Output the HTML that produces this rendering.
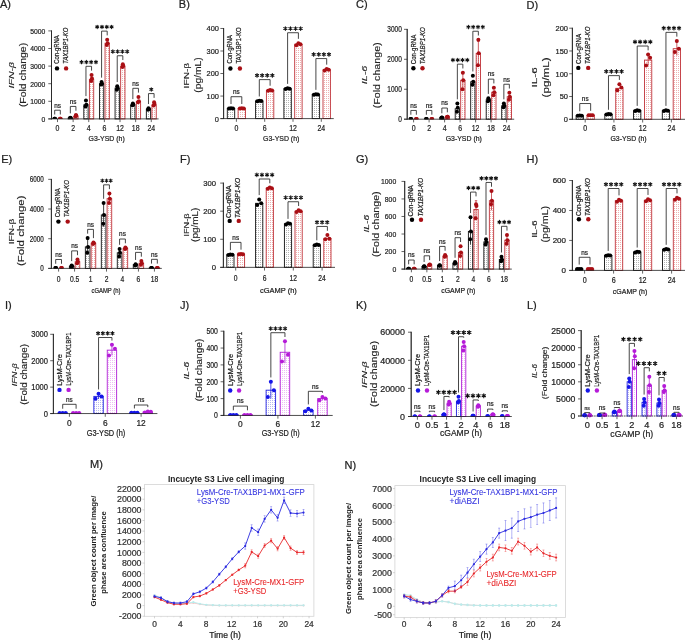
<!DOCTYPE html>
<html><head><meta charset="utf-8"><style>html,body{margin:0;padding:0;background:#fff;}svg{display:block;will-change:transform;}</style></head>
<body><svg width="685" height="640" viewBox="0 0 685 640"><defs>
<pattern id="pk" width="2" height="2" patternUnits="userSpaceOnUse"><rect width="2" height="2" fill="#fff"/><rect width="1" height="1" fill="#b4b4b4"/></pattern>
<pattern id="pr" width="2" height="2" patternUnits="userSpaceOnUse"><rect width="2" height="2" fill="#fff"/><rect width="1" height="1" fill="#eeb0b0"/></pattern>
<pattern id="pb" width="2" height="2" patternUnits="userSpaceOnUse"><rect width="2" height="2" fill="#fff"/><rect width="1" height="1" fill="#b8b8f0"/></pattern>
<pattern id="pm" width="2" height="2" patternUnits="userSpaceOnUse"><rect width="2" height="2" fill="#fff"/><rect width="1" height="1" fill="#eebcf6"/></pattern>
</defs><rect width="685" height="640" fill="#fff"/><g font-family='"Liberation Sans", sans-serif'><text transform="translate(0.00,8.00)" font-size="11" text-anchor="start" fill="#222" style="stroke:#222;stroke-width:0.22;">A)</text><line x1="51.50" y1="30.50" x2="51.50" y2="119.30" stroke="#222" stroke-width="0.8"/><line x1="48.30" y1="118.90" x2="51.50" y2="118.90" stroke="#222" stroke-width="0.7"/><text transform="translate(45.30,121.73) scale(0.86,1)" font-size="7.9" text-anchor="end" fill="#222" style="stroke:#222;stroke-width:0.22;">0</text><line x1="48.30" y1="101.30" x2="51.50" y2="101.30" stroke="#222" stroke-width="0.7"/><text transform="translate(45.30,104.13) scale(0.86,1)" font-size="7.9" text-anchor="end" fill="#222" style="stroke:#222;stroke-width:0.22;">1000</text><line x1="48.30" y1="83.70" x2="51.50" y2="83.70" stroke="#222" stroke-width="0.7"/><text transform="translate(45.30,86.53) scale(0.86,1)" font-size="7.9" text-anchor="end" fill="#222" style="stroke:#222;stroke-width:0.22;">2000</text><line x1="48.30" y1="66.10" x2="51.50" y2="66.10" stroke="#222" stroke-width="0.7"/><text transform="translate(45.30,68.93) scale(0.86,1)" font-size="7.9" text-anchor="end" fill="#222" style="stroke:#222;stroke-width:0.22;">3000</text><line x1="48.30" y1="48.50" x2="51.50" y2="48.50" stroke="#222" stroke-width="0.7"/><text transform="translate(45.30,51.33) scale(0.86,1)" font-size="7.9" text-anchor="end" fill="#222" style="stroke:#222;stroke-width:0.22;">4000</text><line x1="48.30" y1="30.90" x2="51.50" y2="30.90" stroke="#222" stroke-width="0.7"/><text transform="translate(45.30,33.73) scale(0.86,1)" font-size="7.9" text-anchor="end" fill="#222" style="stroke:#222;stroke-width:0.22;">5000</text><clipPath id="c139639653692800"><rect x="0" y="0" width="685" height="118.90"/></clipPath><line x1="57.50" y1="118.90" x2="57.50" y2="122.10" stroke="#222" stroke-width="0.7"/><text transform="translate(57.50,130.60) scale(0.83,1)" font-size="8.4" text-anchor="middle" fill="#222" style="stroke:#222;stroke-width:0.22;">0</text><circle clip-path="url(#c139639653692800)" cx="54.30" cy="118.82" r="2.0" fill="#000"/><circle clip-path="url(#c139639653692800)" cx="55.10" cy="118.81" r="2.0" fill="#000"/><circle clip-path="url(#c139639653692800)" cx="54.70" cy="118.81" r="2.0" fill="#000"/><circle clip-path="url(#c139639653692800)" cx="59.90" cy="118.82" r="2.0" fill="#a90f15"/><circle clip-path="url(#c139639653692800)" cx="60.70" cy="118.81" r="2.0" fill="#a90f15"/><circle clip-path="url(#c139639653692800)" cx="60.30" cy="118.81" r="2.0" fill="#a90f15"/><polyline points="54.70,114.51 54.70,110.21 60.30,110.21 60.30,114.51" fill="none" stroke="#262626" stroke-width="0.85"/><text transform="translate(57.50,107.51) scale(0.9,1)" font-size="7.1" text-anchor="middle" fill="#222" style="stroke:#222;stroke-width:0.22;">ns</text><line x1="73.13" y1="118.90" x2="73.13" y2="122.10" stroke="#222" stroke-width="0.7"/><text transform="translate(73.13,130.60) scale(0.83,1)" font-size="8.4" text-anchor="middle" fill="#222" style="stroke:#222;stroke-width:0.22;">2</text><rect x="68.18" y="118.02" width="4.30" height="0.88" fill="url(#pk)" stroke="#111" stroke-width="0.9"/><circle clip-path="url(#c139639653692800)" cx="69.93" cy="118.37" r="2.0" fill="#000"/><circle clip-path="url(#c139639653692800)" cx="70.73" cy="118.02" r="2.0" fill="#000"/><circle clip-path="url(#c139639653692800)" cx="70.33" cy="117.67" r="2.0" fill="#000"/><rect x="73.78" y="116.26" width="4.30" height="2.64" fill="url(#pr)" stroke="#c0333a" stroke-width="0.9"/><circle clip-path="url(#c139639653692800)" cx="75.53" cy="116.26" r="2.0" fill="#a90f15"/><circle clip-path="url(#c139639653692800)" cx="76.33" cy="115.73" r="2.0" fill="#a90f15"/><circle clip-path="url(#c139639653692800)" cx="75.93" cy="115.03" r="2.0" fill="#a90f15"/><polyline points="70.33,113.37 70.33,106.43 75.93,106.43 75.93,110.73" fill="none" stroke="#262626" stroke-width="0.85"/><text transform="translate(73.13,103.73) scale(0.9,1)" font-size="7.1" text-anchor="middle" fill="#222" style="stroke:#222;stroke-width:0.22;">ns</text><line x1="88.76" y1="118.90" x2="88.76" y2="122.10" stroke="#222" stroke-width="0.7"/><text transform="translate(88.76,130.60) scale(0.83,1)" font-size="8.4" text-anchor="middle" fill="#222" style="stroke:#222;stroke-width:0.22;">4</text><rect x="83.81" y="104.82" width="4.30" height="14.08" fill="url(#pk)" stroke="#111" stroke-width="0.9"/><circle clip-path="url(#c139639653692800)" cx="85.56" cy="106.58" r="2.0" fill="#000"/><circle clip-path="url(#c139639653692800)" cx="86.36" cy="104.82" r="2.0" fill="#000"/><circle clip-path="url(#c139639653692800)" cx="85.96" cy="100.42" r="2.0" fill="#000"/><rect x="89.41" y="79.30" width="4.30" height="39.60" fill="url(#pr)" stroke="#c0333a" stroke-width="0.9"/><circle clip-path="url(#c139639653692800)" cx="91.16" cy="81.06" r="2.0" fill="#a90f15"/><circle clip-path="url(#c139639653692800)" cx="91.96" cy="78.42" r="2.0" fill="#a90f15"/><circle clip-path="url(#c139639653692800)" cx="91.56" cy="74.90" r="2.0" fill="#a90f15"/><polyline points="85.96,96.12 85.96,66.30 91.56,66.30 91.56,70.60" fill="none" stroke="#262626" stroke-width="0.85"/><path d="M81.56,60.40L81.56,63.80M80.09,61.25L83.03,62.95M83.03,61.25L80.09,62.95M86.36,60.40L86.36,63.80M84.89,61.25L87.83,62.95M87.83,61.25L84.89,62.95M91.16,60.40L91.16,63.80M89.69,61.25L92.63,62.95M92.63,61.25L89.69,62.95M95.96,60.40L95.96,63.80M94.49,61.25L97.43,62.95M97.43,61.25L94.49,62.95" stroke="#111" stroke-width="1.1" stroke-linecap="round" fill="none"/><line x1="104.39" y1="118.90" x2="104.39" y2="122.10" stroke="#222" stroke-width="0.7"/><text transform="translate(104.39,130.60) scale(0.83,1)" font-size="8.4" text-anchor="middle" fill="#222" style="stroke:#222;stroke-width:0.22;">6</text><rect x="99.44" y="83.70" width="4.30" height="35.20" fill="url(#pk)" stroke="#111" stroke-width="0.9"/><circle clip-path="url(#c139639653692800)" cx="101.19" cy="84.58" r="2.0" fill="#000"/><circle clip-path="url(#c139639653692800)" cx="101.99" cy="83.70" r="2.0" fill="#000"/><circle clip-path="url(#c139639653692800)" cx="101.59" cy="81.94" r="2.0" fill="#000"/><rect x="105.04" y="43.22" width="4.30" height="75.68" fill="url(#pr)" stroke="#c0333a" stroke-width="0.9"/><circle clip-path="url(#c139639653692800)" cx="106.79" cy="44.98" r="2.0" fill="#a90f15"/><circle clip-path="url(#c139639653692800)" cx="107.59" cy="43.22" r="2.0" fill="#a90f15"/><circle clip-path="url(#c139639653692800)" cx="107.19" cy="39.70" r="2.0" fill="#a90f15"/><polyline points="101.59,77.64 101.59,31.10 107.19,31.10 107.19,35.40" fill="none" stroke="#262626" stroke-width="0.85"/><path d="M97.19,25.20L97.19,28.60M95.72,26.05L98.66,27.75M98.66,26.05L95.72,27.75M101.99,25.20L101.99,28.60M100.52,26.05L103.46,27.75M103.46,26.05L100.52,27.75M106.79,25.20L106.79,28.60M105.32,26.05L108.26,27.75M108.26,26.05L105.32,27.75M111.59,25.20L111.59,28.60M110.12,26.05L113.06,27.75M113.06,26.05L110.12,27.75" stroke="#111" stroke-width="1.1" stroke-linecap="round" fill="none"/><line x1="120.02" y1="118.90" x2="120.02" y2="122.10" stroke="#222" stroke-width="0.7"/><text transform="translate(120.02,130.60) scale(0.83,1)" font-size="8.4" text-anchor="middle" fill="#222" style="stroke:#222;stroke-width:0.22;">12</text><rect x="115.07" y="88.10" width="4.30" height="30.80" fill="url(#pk)" stroke="#111" stroke-width="0.9"/><circle clip-path="url(#c139639653692800)" cx="116.82" cy="89.86" r="2.0" fill="#000"/><circle clip-path="url(#c139639653692800)" cx="117.62" cy="88.10" r="2.0" fill="#000"/><circle clip-path="url(#c139639653692800)" cx="117.22" cy="86.34" r="2.0" fill="#000"/><rect x="120.67" y="66.10" width="4.30" height="52.80" fill="url(#pr)" stroke="#c0333a" stroke-width="0.9"/><circle clip-path="url(#c139639653692800)" cx="122.42" cy="66.98" r="2.0" fill="#a90f15"/><circle clip-path="url(#c139639653692800)" cx="123.22" cy="66.10" r="2.0" fill="#a90f15"/><circle clip-path="url(#c139639653692800)" cx="122.82" cy="64.34" r="2.0" fill="#a90f15"/><polyline points="117.22,82.04 117.22,55.74 122.82,55.74 122.82,60.04" fill="none" stroke="#262626" stroke-width="0.85"/><path d="M112.82,49.84L112.82,53.24M111.35,50.69L114.29,52.39M114.29,50.69L111.35,52.39M117.62,49.84L117.62,53.24M116.15,50.69L119.09,52.39M119.09,50.69L116.15,52.39M122.42,49.84L122.42,53.24M120.95,50.69L123.89,52.39M123.89,50.69L120.95,52.39M127.22,49.84L127.22,53.24M125.75,50.69L128.69,52.39M128.69,50.69L125.75,52.39" stroke="#111" stroke-width="1.1" stroke-linecap="round" fill="none"/><line x1="135.65" y1="118.90" x2="135.65" y2="122.10" stroke="#222" stroke-width="0.7"/><text transform="translate(135.65,130.60) scale(0.83,1)" font-size="8.4" text-anchor="middle" fill="#222" style="stroke:#222;stroke-width:0.22;">18</text><rect x="130.70" y="104.82" width="4.30" height="14.08" fill="url(#pk)" stroke="#111" stroke-width="0.9"/><circle clip-path="url(#c139639653692800)" cx="132.45" cy="105.17" r="2.0" fill="#000"/><circle clip-path="url(#c139639653692800)" cx="133.25" cy="104.47" r="2.0" fill="#000"/><circle clip-path="url(#c139639653692800)" cx="132.85" cy="103.41" r="2.0" fill="#000"/><rect x="136.30" y="101.30" width="4.30" height="17.60" fill="url(#pr)" stroke="#c0333a" stroke-width="0.9"/><circle clip-path="url(#c139639653692800)" cx="138.05" cy="102.18" r="2.0" fill="#a90f15"/><circle clip-path="url(#c139639653692800)" cx="138.85" cy="101.30" r="2.0" fill="#a90f15"/><circle clip-path="url(#c139639653692800)" cx="138.45" cy="96.90" r="2.0" fill="#a90f15"/><polyline points="132.85,99.11 132.85,88.30 138.45,88.30 138.45,92.60" fill="none" stroke="#262626" stroke-width="0.85"/><text transform="translate(135.65,85.60) scale(0.9,1)" font-size="7.1" text-anchor="middle" fill="#222" style="stroke:#222;stroke-width:0.22;">ns</text><line x1="151.28" y1="118.90" x2="151.28" y2="122.10" stroke="#222" stroke-width="0.7"/><text transform="translate(151.28,130.60) scale(0.83,1)" font-size="8.4" text-anchor="middle" fill="#222" style="stroke:#222;stroke-width:0.22;">24</text><rect x="146.33" y="109.22" width="4.30" height="9.68" fill="url(#pk)" stroke="#111" stroke-width="0.9"/><circle clip-path="url(#c139639653692800)" cx="148.08" cy="109.75" r="2.0" fill="#000"/><circle clip-path="url(#c139639653692800)" cx="148.88" cy="109.04" r="2.0" fill="#000"/><circle clip-path="url(#c139639653692800)" cx="148.48" cy="108.34" r="2.0" fill="#000"/><rect x="151.93" y="104.82" width="4.30" height="14.08" fill="url(#pr)" stroke="#c0333a" stroke-width="0.9"/><circle clip-path="url(#c139639653692800)" cx="153.68" cy="105.52" r="2.0" fill="#a90f15"/><circle clip-path="url(#c139639653692800)" cx="154.48" cy="103.94" r="2.0" fill="#a90f15"/><circle clip-path="url(#c139639653692800)" cx="154.08" cy="102.18" r="2.0" fill="#a90f15"/><polyline points="148.48,104.04 148.48,93.58 154.08,93.58 154.08,97.88" fill="none" stroke="#262626" stroke-width="0.85"/><path d="M151.28,87.68L151.28,91.08M149.81,88.53L152.75,90.23M152.75,88.53L149.81,90.23" stroke="#111" stroke-width="1.1" stroke-linecap="round" fill="none"/><line x1="48.30" y1="118.90" x2="158.60" y2="118.90" stroke="#222" stroke-width="0.8"/><line x1="51.50" y1="30.50" x2="51.50" y2="119.30" stroke="#222" stroke-width="0.8"/><text transform="translate(106.60,141.00)" font-size="7.8" text-anchor="middle" fill="#222" style="stroke:#222;stroke-width:0.22;" textLength="36.20" lengthAdjust="spacingAndGlyphs">G3-YSD (h)</text><text transform="translate(14.46,75.25) rotate(-90)" font-size="7.4" text-anchor="middle" fill="#222" style="stroke:#222;stroke-width:0.12;font-style:italic;" textLength="26.40" lengthAdjust="spacingAndGlyphs">IFN-β</text><text transform="translate(26.49,75.00) rotate(-90)" font-size="8.4" text-anchor="middle" fill="#222" style="stroke:#222;stroke-width:0.12;" textLength="64.20" lengthAdjust="spacingAndGlyphs">(Fold change)</text><circle cx="57.00" cy="68.40" r="2.2" fill="#000"/><text transform="translate(58.90,63.80) rotate(-90)" font-size="6.4" text-anchor="start" fill="#222" style="stroke:#222;stroke-width:0.22;" textLength="28.60" lengthAdjust="spacingAndGlyphs">Con-gRNA</text><circle cx="66.10" cy="68.40" r="2.2" fill="#a90f15"/><text transform="translate(67.80,63.80) rotate(-90)" font-size="6.4" text-anchor="start" fill="#222" style="stroke:#222;stroke-width:0.22;font-style:italic;" textLength="36.20" lengthAdjust="spacingAndGlyphs">TAX1BP1-KO</text><text transform="translate(178.80,8.00)" font-size="11" text-anchor="start" fill="#222" style="stroke:#222;stroke-width:0.22;">B)</text><line x1="223.60" y1="28.07" x2="223.60" y2="119.00" stroke="#222" stroke-width="0.8"/><line x1="220.40" y1="118.60" x2="223.60" y2="118.60" stroke="#222" stroke-width="0.7"/><text transform="translate(219.00,121.50) scale(0.92,1)" font-size="8.1" text-anchor="end" fill="#222" style="stroke:#222;stroke-width:0.22;">0</text><line x1="220.40" y1="96.07" x2="223.60" y2="96.07" stroke="#222" stroke-width="0.7"/><text transform="translate(219.00,98.97) scale(0.92,1)" font-size="8.1" text-anchor="end" fill="#222" style="stroke:#222;stroke-width:0.22;">100</text><line x1="220.40" y1="73.53" x2="223.60" y2="73.53" stroke="#222" stroke-width="0.7"/><text transform="translate(219.00,76.43) scale(0.92,1)" font-size="8.1" text-anchor="end" fill="#222" style="stroke:#222;stroke-width:0.22;">200</text><line x1="220.40" y1="51.00" x2="223.60" y2="51.00" stroke="#222" stroke-width="0.7"/><text transform="translate(219.00,53.90) scale(0.92,1)" font-size="8.1" text-anchor="end" fill="#222" style="stroke:#222;stroke-width:0.22;">300</text><line x1="220.40" y1="28.47" x2="223.60" y2="28.47" stroke="#222" stroke-width="0.7"/><text transform="translate(219.00,31.37) scale(0.92,1)" font-size="8.1" text-anchor="end" fill="#222" style="stroke:#222;stroke-width:0.22;">400</text><clipPath id="c139639653692736"><rect x="0" y="0" width="685" height="118.60"/></clipPath><line x1="236.40" y1="118.60" x2="236.40" y2="121.80" stroke="#222" stroke-width="0.7"/><text transform="translate(236.40,130.60) scale(0.83,1)" font-size="8.4" text-anchor="middle" fill="#222" style="stroke:#222;stroke-width:0.22;">0</text><rect x="227.30" y="108.46" width="7.40" height="10.14" fill="url(#pk)" stroke="#111" stroke-width="0.9"/><circle clip-path="url(#c139639653692736)" cx="229.00" cy="108.61" r="2.0" fill="#000"/><circle clip-path="url(#c139639653692736)" cx="233.00" cy="108.46" r="2.0" fill="#000"/><circle clip-path="url(#c139639653692736)" cx="231.00" cy="108.31" r="2.0" fill="#000"/><rect x="238.10" y="108.46" width="7.40" height="10.14" fill="url(#pr)" stroke="#c0333a" stroke-width="0.9"/><circle clip-path="url(#c139639653692736)" cx="239.80" cy="108.61" r="2.0" fill="#a90f15"/><circle clip-path="url(#c139639653692736)" cx="243.80" cy="108.46" r="2.0" fill="#a90f15"/><circle clip-path="url(#c139639653692736)" cx="241.80" cy="108.31" r="2.0" fill="#a90f15"/><polyline points="231.00,104.01 231.00,96.71 241.80,96.71 241.80,104.01" fill="none" stroke="#262626" stroke-width="0.85"/><text transform="translate(236.40,94.01) scale(0.9,1)" font-size="7.1" text-anchor="middle" fill="#222" style="stroke:#222;stroke-width:0.22;">ns</text><line x1="264.70" y1="118.60" x2="264.70" y2="121.80" stroke="#222" stroke-width="0.7"/><text transform="translate(264.70,130.60) scale(0.83,1)" font-size="8.4" text-anchor="middle" fill="#222" style="stroke:#222;stroke-width:0.22;">6</text><rect x="255.60" y="101.02" width="7.40" height="17.58" fill="url(#pk)" stroke="#111" stroke-width="0.9"/><circle clip-path="url(#c139639653692736)" cx="257.30" cy="101.29" r="2.0" fill="#000"/><circle clip-path="url(#c139639653692736)" cx="261.30" cy="101.02" r="2.0" fill="#000"/><circle clip-path="url(#c139639653692736)" cx="259.30" cy="100.76" r="2.0" fill="#000"/><rect x="266.40" y="90.43" width="7.40" height="28.17" fill="url(#pr)" stroke="#c0333a" stroke-width="0.9"/><circle clip-path="url(#c139639653692736)" cx="268.10" cy="90.86" r="2.0" fill="#a90f15"/><circle clip-path="url(#c139639653692736)" cx="272.10" cy="90.43" r="2.0" fill="#a90f15"/><circle clip-path="url(#c139639653692736)" cx="270.10" cy="90.01" r="2.0" fill="#a90f15"/><polyline points="259.30,96.46 259.30,79.61 270.10,79.61 270.10,85.71" fill="none" stroke="#262626" stroke-width="0.85"/><path d="M257.05,73.61L257.05,77.21M255.49,74.51L258.61,76.31M258.61,74.51L255.49,76.31M262.15,73.61L262.15,77.21M260.59,74.51L263.71,76.31M263.71,74.51L260.59,76.31M267.25,73.61L267.25,77.21M265.69,74.51L268.81,76.31M268.81,74.51L265.69,76.31M272.35,73.61L272.35,77.21M270.79,74.51L273.91,76.31M273.91,74.51L270.79,76.31" stroke="#111" stroke-width="1.1" stroke-linecap="round" fill="none"/><line x1="293.00" y1="118.60" x2="293.00" y2="121.80" stroke="#222" stroke-width="0.7"/><text transform="translate(293.00,130.60) scale(0.83,1)" font-size="8.4" text-anchor="middle" fill="#222" style="stroke:#222;stroke-width:0.22;">12</text><rect x="283.90" y="88.63" width="7.40" height="29.97" fill="url(#pk)" stroke="#111" stroke-width="0.9"/><circle clip-path="url(#c139639653692736)" cx="285.60" cy="89.08" r="2.0" fill="#000"/><circle clip-path="url(#c139639653692736)" cx="289.60" cy="88.63" r="2.0" fill="#000"/><circle clip-path="url(#c139639653692736)" cx="287.60" cy="88.18" r="2.0" fill="#000"/><rect x="294.70" y="44.24" width="7.40" height="74.36" fill="url(#pr)" stroke="#c0333a" stroke-width="0.9"/><circle clip-path="url(#c139639653692736)" cx="296.40" cy="45.36" r="2.0" fill="#a90f15"/><circle clip-path="url(#c139639653692736)" cx="300.40" cy="44.24" r="2.0" fill="#a90f15"/><circle clip-path="url(#c139639653692736)" cx="298.40" cy="43.13" r="2.0" fill="#a90f15"/><polyline points="287.60,83.88 287.60,32.73 298.40,32.73 298.40,38.83" fill="none" stroke="#262626" stroke-width="0.85"/><path d="M285.35,26.73L285.35,30.33M283.79,27.63L286.91,29.43M286.91,27.63L283.79,29.43M290.45,26.73L290.45,30.33M288.89,27.63L292.01,29.43M292.01,27.63L288.89,29.43M295.55,26.73L295.55,30.33M293.99,27.63L297.11,29.43M297.11,27.63L293.99,29.43M300.65,26.73L300.65,30.33M299.09,27.63L302.21,29.43M302.21,27.63L299.09,29.43" stroke="#111" stroke-width="1.1" stroke-linecap="round" fill="none"/><line x1="321.30" y1="118.60" x2="321.30" y2="121.80" stroke="#222" stroke-width="0.7"/><text transform="translate(321.30,130.60) scale(0.83,1)" font-size="8.4" text-anchor="middle" fill="#222" style="stroke:#222;stroke-width:0.22;">24</text><rect x="312.20" y="94.49" width="7.40" height="24.11" fill="url(#pk)" stroke="#111" stroke-width="0.9"/><circle clip-path="url(#c139639653692736)" cx="313.90" cy="94.85" r="2.0" fill="#000"/><circle clip-path="url(#c139639653692736)" cx="317.90" cy="94.49" r="2.0" fill="#000"/><circle clip-path="url(#c139639653692736)" cx="315.90" cy="94.13" r="2.0" fill="#000"/><rect x="323.00" y="69.70" width="7.40" height="48.90" fill="url(#pr)" stroke="#c0333a" stroke-width="0.9"/><circle clip-path="url(#c139639653692736)" cx="324.70" cy="70.44" r="2.0" fill="#a90f15"/><circle clip-path="url(#c139639653692736)" cx="328.70" cy="69.70" r="2.0" fill="#a90f15"/><circle clip-path="url(#c139639653692736)" cx="326.70" cy="68.97" r="2.0" fill="#a90f15"/><polyline points="315.90,89.83 315.90,58.57 326.70,58.57 326.70,64.67" fill="none" stroke="#262626" stroke-width="0.85"/><path d="M313.65,52.57L313.65,56.17M312.09,53.47L315.21,55.27M315.21,53.47L312.09,55.27M318.75,52.57L318.75,56.17M317.19,53.47L320.31,55.27M320.31,53.47L317.19,55.27M323.85,52.57L323.85,56.17M322.29,53.47L325.41,55.27M325.41,53.47L322.29,55.27M328.95,52.57L328.95,56.17M327.39,53.47L330.51,55.27M330.51,53.47L327.39,55.27" stroke="#111" stroke-width="1.1" stroke-linecap="round" fill="none"/><line x1="220.40" y1="118.60" x2="333.75" y2="118.60" stroke="#222" stroke-width="0.8"/><line x1="223.60" y1="28.07" x2="223.60" y2="119.00" stroke="#222" stroke-width="0.8"/><text transform="translate(281.20,141.00)" font-size="7.8" text-anchor="middle" fill="#222" style="stroke:#222;stroke-width:0.22;" textLength="36.20" lengthAdjust="spacingAndGlyphs">G3-YSD (h)</text><text transform="translate(188.76,75.60) rotate(-90)" font-size="7.4" text-anchor="middle" fill="#222" style="stroke:#222;stroke-width:0.12;" textLength="25.60" lengthAdjust="spacingAndGlyphs">IFN-β</text><text transform="translate(200.79,75.00) rotate(-90)" font-size="8.4" text-anchor="middle" fill="#222" style="stroke:#222;stroke-width:0.12;" textLength="35.60" lengthAdjust="spacingAndGlyphs">(pg/mL)</text><circle cx="230.40" cy="68.50" r="2.2" fill="#000"/><text transform="translate(232.00,63.60) rotate(-90)" font-size="6.4" text-anchor="start" fill="#222" style="stroke:#222;stroke-width:0.22;" textLength="28.50" lengthAdjust="spacingAndGlyphs">Con-gRNA</text><circle cx="239.90" cy="68.50" r="2.2" fill="#a90f15"/><text transform="translate(241.00,63.60) rotate(-90)" font-size="6.4" text-anchor="start" fill="#222" style="stroke:#222;stroke-width:0.22;" textLength="36.20" lengthAdjust="spacingAndGlyphs">TAX1BP1-KO</text><text transform="translate(356.00,8.00)" font-size="11" text-anchor="start" fill="#222" style="stroke:#222;stroke-width:0.22;">C)</text><line x1="407.20" y1="28.94" x2="407.20" y2="119.60" stroke="#222" stroke-width="0.8"/><line x1="404.00" y1="119.20" x2="407.20" y2="119.20" stroke="#222" stroke-width="0.7"/><text transform="translate(401.90,122.14) scale(0.8,1)" font-size="8.2" text-anchor="end" fill="#222" style="stroke:#222;stroke-width:0.22;">0</text><line x1="404.00" y1="89.25" x2="407.20" y2="89.25" stroke="#222" stroke-width="0.7"/><text transform="translate(401.90,92.18) scale(0.8,1)" font-size="8.2" text-anchor="end" fill="#222" style="stroke:#222;stroke-width:0.22;">1000</text><line x1="404.00" y1="59.29" x2="407.20" y2="59.29" stroke="#222" stroke-width="0.7"/><text transform="translate(401.90,62.23) scale(0.8,1)" font-size="8.2" text-anchor="end" fill="#222" style="stroke:#222;stroke-width:0.22;">2000</text><line x1="404.00" y1="29.34" x2="407.20" y2="29.34" stroke="#222" stroke-width="0.7"/><text transform="translate(401.90,32.28) scale(0.8,1)" font-size="8.2" text-anchor="end" fill="#222" style="stroke:#222;stroke-width:0.22;">3000</text><clipPath id="c139639653693632"><rect x="0" y="0" width="685" height="119.20"/></clipPath><line x1="413.60" y1="119.20" x2="413.60" y2="122.40" stroke="#222" stroke-width="0.7"/><text transform="translate(413.60,130.80) scale(0.83,1)" font-size="8.4" text-anchor="middle" fill="#222" style="stroke:#222;stroke-width:0.22;">0</text><circle clip-path="url(#c139639653693632)" cx="410.45" cy="119.06" r="2.0" fill="#000"/><circle clip-path="url(#c139639653693632)" cx="411.25" cy="119.05" r="2.0" fill="#000"/><circle clip-path="url(#c139639653693632)" cx="410.85" cy="119.04" r="2.0" fill="#000"/><circle clip-path="url(#c139639653693632)" cx="415.95" cy="119.06" r="2.0" fill="#a90f15"/><circle clip-path="url(#c139639653693632)" cx="416.75" cy="119.05" r="2.0" fill="#a90f15"/><circle clip-path="url(#c139639653693632)" cx="416.35" cy="119.04" r="2.0" fill="#a90f15"/><polyline points="410.85,114.74 410.85,110.44 416.35,110.44 416.35,114.74" fill="none" stroke="#262626" stroke-width="0.85"/><text transform="translate(413.60,107.74) scale(0.9,1)" font-size="7.1" text-anchor="middle" fill="#222" style="stroke:#222;stroke-width:0.22;">ns</text><line x1="429.10" y1="119.20" x2="429.10" y2="122.40" stroke="#222" stroke-width="0.7"/><text transform="translate(429.10,130.80) scale(0.83,1)" font-size="8.4" text-anchor="middle" fill="#222" style="stroke:#222;stroke-width:0.22;">2</text><circle clip-path="url(#c139639653693632)" cx="425.95" cy="119.06" r="2.0" fill="#000"/><circle clip-path="url(#c139639653693632)" cx="426.75" cy="119.05" r="2.0" fill="#000"/><circle clip-path="url(#c139639653693632)" cx="426.35" cy="119.04" r="2.0" fill="#000"/><circle clip-path="url(#c139639653693632)" cx="431.45" cy="119.06" r="2.0" fill="#a90f15"/><circle clip-path="url(#c139639653693632)" cx="432.25" cy="119.05" r="2.0" fill="#a90f15"/><circle clip-path="url(#c139639653693632)" cx="431.85" cy="119.04" r="2.0" fill="#a90f15"/><polyline points="426.35,114.74 426.35,110.44 431.85,110.44 431.85,114.74" fill="none" stroke="#262626" stroke-width="0.85"/><text transform="translate(429.10,107.74) scale(0.9,1)" font-size="7.1" text-anchor="middle" fill="#222" style="stroke:#222;stroke-width:0.22;">ns</text><line x1="444.60" y1="119.20" x2="444.60" y2="122.40" stroke="#222" stroke-width="0.7"/><text transform="translate(444.60,130.80) scale(0.83,1)" font-size="8.4" text-anchor="middle" fill="#222" style="stroke:#222;stroke-width:0.22;">4</text><rect x="439.70" y="117.70" width="4.30" height="1.50" fill="url(#pk)" stroke="#111" stroke-width="0.9"/><circle clip-path="url(#c139639653693632)" cx="441.45" cy="117.81" r="2.0" fill="#000"/><circle clip-path="url(#c139639653693632)" cx="442.25" cy="117.70" r="2.0" fill="#000"/><circle clip-path="url(#c139639653693632)" cx="441.85" cy="117.60" r="2.0" fill="#000"/><rect x="445.20" y="116.80" width="4.30" height="2.40" fill="url(#pr)" stroke="#c0333a" stroke-width="0.9"/><circle clip-path="url(#c139639653693632)" cx="446.95" cy="116.97" r="2.0" fill="#a90f15"/><circle clip-path="url(#c139639653693632)" cx="447.75" cy="116.80" r="2.0" fill="#a90f15"/><circle clip-path="url(#c139639653693632)" cx="447.35" cy="116.64" r="2.0" fill="#a90f15"/><polyline points="441.85,113.30 441.85,108.04 447.35,108.04 447.35,112.34" fill="none" stroke="#262626" stroke-width="0.85"/><text transform="translate(444.60,105.34) scale(0.9,1)" font-size="7.1" text-anchor="middle" fill="#222" style="stroke:#222;stroke-width:0.22;">ns</text><line x1="460.10" y1="119.20" x2="460.10" y2="122.40" stroke="#222" stroke-width="0.7"/><text transform="translate(460.10,130.80) scale(0.83,1)" font-size="8.4" text-anchor="middle" fill="#222" style="stroke:#222;stroke-width:0.22;">6</text><rect x="455.20" y="108.72" width="4.30" height="10.48" fill="url(#pk)" stroke="#111" stroke-width="0.9"/><circle clip-path="url(#c139639653693632)" cx="456.95" cy="111.71" r="2.0" fill="#000"/><circle clip-path="url(#c139639653693632)" cx="457.75" cy="107.82" r="2.0" fill="#000"/><circle clip-path="url(#c139639653693632)" cx="457.35" cy="103.62" r="2.0" fill="#000"/><rect x="460.70" y="80.26" width="4.30" height="38.94" fill="url(#pr)" stroke="#c0333a" stroke-width="0.9"/><line x1="462.85" y1="72.77" x2="462.85" y2="87.75" stroke="#c0333a" stroke-width="0.8"/><line x1="461.65" y1="72.77" x2="464.05" y2="72.77" stroke="#c0333a" stroke-width="0.8"/><circle clip-path="url(#c139639653693632)" cx="462.45" cy="89.25" r="2.0" fill="#a90f15"/><circle clip-path="url(#c139639653693632)" cx="463.25" cy="80.26" r="2.0" fill="#a90f15"/><circle clip-path="url(#c139639653693632)" cx="462.85" cy="72.77" r="2.0" fill="#a90f15"/><polyline points="457.35,99.32 457.35,64.17 462.85,64.17 462.85,68.47" fill="none" stroke="#262626" stroke-width="0.85"/><path d="M452.90,58.27L452.90,61.67M451.43,59.12L454.37,60.82M454.37,59.12L451.43,60.82M457.70,58.27L457.70,61.67M456.23,59.12L459.17,60.82M459.17,59.12L456.23,60.82M462.50,58.27L462.50,61.67M461.03,59.12L463.97,60.82M463.97,59.12L461.03,60.82M467.30,58.27L467.30,61.67M465.83,59.12L468.77,60.82M468.77,59.12L465.83,60.82" stroke="#111" stroke-width="1.1" stroke-linecap="round" fill="none"/><line x1="475.60" y1="119.20" x2="475.60" y2="122.40" stroke="#222" stroke-width="0.7"/><text transform="translate(475.60,130.80) scale(0.83,1)" font-size="8.4" text-anchor="middle" fill="#222" style="stroke:#222;stroke-width:0.22;">12</text><rect x="470.70" y="81.76" width="4.30" height="37.44" fill="url(#pk)" stroke="#111" stroke-width="0.9"/><circle clip-path="url(#c139639653693632)" cx="472.45" cy="84.75" r="2.0" fill="#000"/><circle clip-path="url(#c139639653693632)" cx="473.25" cy="81.76" r="2.0" fill="#000"/><circle clip-path="url(#c139639653693632)" cx="472.85" cy="75.77" r="2.0" fill="#000"/><rect x="476.20" y="53.30" width="4.30" height="65.90" fill="url(#pr)" stroke="#c0333a" stroke-width="0.9"/><line x1="478.35" y1="41.32" x2="478.35" y2="65.28" stroke="#c0333a" stroke-width="0.8"/><line x1="477.15" y1="41.32" x2="479.55" y2="41.32" stroke="#c0333a" stroke-width="0.8"/><circle clip-path="url(#c139639653693632)" cx="477.95" cy="65.28" r="2.0" fill="#a90f15"/><circle clip-path="url(#c139639653693632)" cx="478.75" cy="53.30" r="2.0" fill="#a90f15"/><circle clip-path="url(#c139639653693632)" cx="478.35" cy="39.82" r="2.0" fill="#a90f15"/><polyline points="472.85,71.47 472.85,31.22 478.35,31.22 478.35,35.52" fill="none" stroke="#262626" stroke-width="0.85"/><path d="M468.40,25.32L468.40,28.72M466.93,26.17L469.87,27.87M469.87,26.17L466.93,27.87M473.20,25.32L473.20,28.72M471.73,26.17L474.67,27.87M474.67,26.17L471.73,27.87M478.00,25.32L478.00,28.72M476.53,26.17L479.47,27.87M479.47,26.17L476.53,27.87M482.80,25.32L482.80,28.72M481.33,26.17L484.27,27.87M484.27,26.17L481.33,27.87" stroke="#111" stroke-width="1.1" stroke-linecap="round" fill="none"/><line x1="491.10" y1="119.20" x2="491.10" y2="122.40" stroke="#222" stroke-width="0.7"/><text transform="translate(491.10,130.80) scale(0.83,1)" font-size="8.4" text-anchor="middle" fill="#222" style="stroke:#222;stroke-width:0.22;">18</text><rect x="486.20" y="99.73" width="4.30" height="19.47" fill="url(#pk)" stroke="#111" stroke-width="0.9"/><circle clip-path="url(#c139639653693632)" cx="487.95" cy="101.23" r="2.0" fill="#000"/><circle clip-path="url(#c139639653693632)" cx="488.75" cy="99.73" r="2.0" fill="#000"/><circle clip-path="url(#c139639653693632)" cx="488.35" cy="98.23" r="2.0" fill="#000"/><rect x="491.70" y="92.24" width="4.30" height="26.96" fill="url(#pr)" stroke="#c0333a" stroke-width="0.9"/><circle clip-path="url(#c139639653693632)" cx="493.45" cy="95.24" r="2.0" fill="#a90f15"/><circle clip-path="url(#c139639653693632)" cx="494.25" cy="92.24" r="2.0" fill="#a90f15"/><circle clip-path="url(#c139639653693632)" cx="493.85" cy="87.75" r="2.0" fill="#a90f15"/><polyline points="488.35,93.93 488.35,79.15 493.85,79.15 493.85,83.45" fill="none" stroke="#262626" stroke-width="0.85"/><text transform="translate(491.10,76.45) scale(0.9,1)" font-size="7.1" text-anchor="middle" fill="#222" style="stroke:#222;stroke-width:0.22;">ns</text><line x1="506.60" y1="119.20" x2="506.60" y2="122.40" stroke="#222" stroke-width="0.7"/><text transform="translate(506.60,130.80) scale(0.83,1)" font-size="8.4" text-anchor="middle" fill="#222" style="stroke:#222;stroke-width:0.22;">24</text><rect x="501.70" y="105.72" width="4.30" height="13.48" fill="url(#pk)" stroke="#111" stroke-width="0.9"/><circle clip-path="url(#c139639653693632)" cx="503.45" cy="107.22" r="2.0" fill="#000"/><circle clip-path="url(#c139639653693632)" cx="504.25" cy="105.72" r="2.0" fill="#000"/><circle clip-path="url(#c139639653693632)" cx="503.85" cy="103.62" r="2.0" fill="#000"/><rect x="507.20" y="96.73" width="4.30" height="22.46" fill="url(#pr)" stroke="#c0333a" stroke-width="0.9"/><circle clip-path="url(#c139639653693632)" cx="508.95" cy="99.73" r="2.0" fill="#a90f15"/><circle clip-path="url(#c139639653693632)" cx="509.75" cy="96.73" r="2.0" fill="#a90f15"/><circle clip-path="url(#c139639653693632)" cx="509.35" cy="92.84" r="2.0" fill="#a90f15"/><polyline points="503.85,99.32 503.85,84.24 509.35,84.24 509.35,88.54" fill="none" stroke="#262626" stroke-width="0.85"/><text transform="translate(506.60,81.54) scale(0.9,1)" font-size="7.1" text-anchor="middle" fill="#222" style="stroke:#222;stroke-width:0.22;">ns</text><line x1="404.00" y1="119.20" x2="514.20" y2="119.20" stroke="#222" stroke-width="0.8"/><line x1="407.20" y1="28.94" x2="407.20" y2="119.60" stroke="#222" stroke-width="0.8"/><text transform="translate(463.75,141.00)" font-size="7.8" text-anchor="middle" fill="#222" style="stroke:#222;stroke-width:0.22;" textLength="36.20" lengthAdjust="spacingAndGlyphs">G3-YSD (h)</text><text transform="translate(367.36,75.00) rotate(-90)" font-size="7.4" text-anchor="middle" fill="#222" style="stroke:#222;stroke-width:0.12;font-style:italic;" textLength="18.60" lengthAdjust="spacingAndGlyphs">IL-6</text><text transform="translate(379.59,75.30) rotate(-90)" font-size="8.4" text-anchor="middle" fill="#222" style="stroke:#222;stroke-width:0.12;" textLength="66.00" lengthAdjust="spacingAndGlyphs">(Fold change)</text><circle cx="413.40" cy="68.25" r="2.2" fill="#000"/><text transform="translate(415.90,64.15) rotate(-90)" font-size="6.4" text-anchor="start" fill="#222" style="stroke:#222;stroke-width:0.22;" textLength="29.40" lengthAdjust="spacingAndGlyphs">Con-gRNA</text><circle cx="422.50" cy="68.25" r="2.2" fill="#a90f15"/><text transform="translate(425.00,64.15) rotate(-90)" font-size="6.4" text-anchor="start" fill="#222" style="stroke:#222;stroke-width:0.22;font-style:italic;" textLength="37.00" lengthAdjust="spacingAndGlyphs">TAX1BP1-KO</text><text transform="translate(526.50,8.50)" font-size="11" text-anchor="start" fill="#222" style="stroke:#222;stroke-width:0.22;">D)</text><line x1="572.40" y1="27.80" x2="572.40" y2="119.70" stroke="#222" stroke-width="0.8"/><line x1="569.20" y1="119.30" x2="572.40" y2="119.30" stroke="#222" stroke-width="0.7"/><text transform="translate(568.00,122.09) scale(0.96,1)" font-size="7.8" text-anchor="end" fill="#222" style="stroke:#222;stroke-width:0.22;">0</text><line x1="569.20" y1="96.53" x2="572.40" y2="96.53" stroke="#222" stroke-width="0.7"/><text transform="translate(568.00,99.32) scale(0.96,1)" font-size="7.8" text-anchor="end" fill="#222" style="stroke:#222;stroke-width:0.22;">50</text><line x1="569.20" y1="73.75" x2="572.40" y2="73.75" stroke="#222" stroke-width="0.7"/><text transform="translate(568.00,76.54) scale(0.96,1)" font-size="7.8" text-anchor="end" fill="#222" style="stroke:#222;stroke-width:0.22;">100</text><line x1="569.20" y1="50.98" x2="572.40" y2="50.98" stroke="#222" stroke-width="0.7"/><text transform="translate(568.00,53.77) scale(0.96,1)" font-size="7.8" text-anchor="end" fill="#222" style="stroke:#222;stroke-width:0.22;">150</text><line x1="569.20" y1="28.20" x2="572.40" y2="28.20" stroke="#222" stroke-width="0.7"/><text transform="translate(568.00,30.99) scale(0.96,1)" font-size="7.8" text-anchor="end" fill="#222" style="stroke:#222;stroke-width:0.22;">200</text><clipPath id="c139639653693504"><rect x="0" y="0" width="685" height="119.30"/></clipPath><line x1="585.20" y1="119.30" x2="585.20" y2="122.50" stroke="#222" stroke-width="0.7"/><text transform="translate(585.20,131.20) scale(0.83,1)" font-size="8.4" text-anchor="middle" fill="#222" style="stroke:#222;stroke-width:0.22;">0</text><rect x="576.10" y="115.66" width="7.30" height="3.64" fill="url(#pk)" stroke="#111" stroke-width="0.9"/><circle clip-path="url(#c139639653693504)" cx="577.75" cy="115.71" r="2.0" fill="#000"/><circle clip-path="url(#c139639653693504)" cx="581.75" cy="115.66" r="2.0" fill="#000"/><circle clip-path="url(#c139639653693504)" cx="579.75" cy="115.60" r="2.0" fill="#000"/><rect x="587.00" y="115.20" width="7.30" height="4.10" fill="url(#pr)" stroke="#c0333a" stroke-width="0.9"/><circle clip-path="url(#c139639653693504)" cx="588.65" cy="115.26" r="2.0" fill="#a90f15"/><circle clip-path="url(#c139639653693504)" cx="592.65" cy="115.20" r="2.0" fill="#a90f15"/><circle clip-path="url(#c139639653693504)" cx="590.65" cy="115.14" r="2.0" fill="#a90f15"/><polyline points="579.75,111.30 579.75,103.54 590.65,103.54 590.65,110.84" fill="none" stroke="#262626" stroke-width="0.85"/><text transform="translate(585.20,100.84) scale(0.9,1)" font-size="7.1" text-anchor="middle" fill="#222" style="stroke:#222;stroke-width:0.22;">ns</text><line x1="613.93" y1="119.30" x2="613.93" y2="122.50" stroke="#222" stroke-width="0.7"/><text transform="translate(613.93,131.20) scale(0.83,1)" font-size="8.4" text-anchor="middle" fill="#222" style="stroke:#222;stroke-width:0.22;">6</text><rect x="604.83" y="114.29" width="7.30" height="5.01" fill="url(#pk)" stroke="#111" stroke-width="0.9"/><circle clip-path="url(#c139639653693504)" cx="606.48" cy="114.52" r="2.0" fill="#000"/><circle clip-path="url(#c139639653693504)" cx="610.48" cy="114.29" r="2.0" fill="#000"/><circle clip-path="url(#c139639653693504)" cx="608.48" cy="114.06" r="2.0" fill="#000"/><rect x="615.73" y="88.33" width="7.30" height="30.97" fill="url(#pr)" stroke="#c0333a" stroke-width="0.9"/><circle clip-path="url(#c139639653693504)" cx="617.38" cy="90.15" r="2.0" fill="#a90f15"/><circle clip-path="url(#c139639653693504)" cx="621.38" cy="87.41" r="2.0" fill="#a90f15"/><circle clip-path="url(#c139639653693504)" cx="619.38" cy="84.23" r="2.0" fill="#a90f15"/><polyline points="608.48,109.76 608.48,75.63 619.38,75.63 619.38,79.93" fill="none" stroke="#262626" stroke-width="0.85"/><path d="M606.28,69.63L606.28,73.23M604.72,70.53L607.84,72.33M607.84,70.53L604.72,72.33M611.38,69.63L611.38,73.23M609.82,70.53L612.94,72.33M612.94,70.53L609.82,72.33M616.48,69.63L616.48,73.23M614.92,70.53L618.04,72.33M618.04,70.53L614.92,72.33M621.58,69.63L621.58,73.23M620.02,70.53L623.14,72.33M623.14,70.53L620.02,72.33" stroke="#111" stroke-width="1.1" stroke-linecap="round" fill="none"/><line x1="642.66" y1="119.30" x2="642.66" y2="122.50" stroke="#222" stroke-width="0.7"/><text transform="translate(642.66,131.20) scale(0.83,1)" font-size="8.4" text-anchor="middle" fill="#222" style="stroke:#222;stroke-width:0.22;">12</text><rect x="633.56" y="110.65" width="7.30" height="8.65" fill="url(#pk)" stroke="#111" stroke-width="0.9"/><circle clip-path="url(#c139639653693504)" cx="635.21" cy="111.10" r="2.0" fill="#000"/><circle clip-path="url(#c139639653693504)" cx="639.21" cy="110.65" r="2.0" fill="#000"/><circle clip-path="url(#c139639653693504)" cx="637.21" cy="110.19" r="2.0" fill="#000"/><rect x="644.46" y="60.09" width="7.30" height="59.21" fill="url(#pr)" stroke="#c0333a" stroke-width="0.9"/><line x1="648.11" y1="54.62" x2="648.11" y2="65.55" stroke="#c0333a" stroke-width="0.8"/><line x1="646.91" y1="54.62" x2="649.31" y2="54.62" stroke="#c0333a" stroke-width="0.8"/><circle clip-path="url(#c139639653693504)" cx="646.11" cy="65.55" r="2.0" fill="#a90f15"/><circle clip-path="url(#c139639653693504)" cx="650.11" cy="57.81" r="2.0" fill="#a90f15"/><circle clip-path="url(#c139639653693504)" cx="648.11" cy="54.62" r="2.0" fill="#a90f15"/><polyline points="637.21,105.89 637.21,46.02 648.11,46.02 648.11,50.32" fill="none" stroke="#262626" stroke-width="0.85"/><path d="M635.01,40.02L635.01,43.62M633.45,40.92L636.57,42.72M636.57,40.92L633.45,42.72M640.11,40.02L640.11,43.62M638.55,40.92L641.67,42.72M641.67,40.92L638.55,42.72M645.21,40.02L645.21,43.62M643.65,40.92L646.77,42.72M646.77,40.92L643.65,42.72M650.31,40.02L650.31,43.62M648.75,40.92L651.87,42.72M651.87,40.92L648.75,42.72" stroke="#111" stroke-width="1.1" stroke-linecap="round" fill="none"/><line x1="671.39" y1="119.30" x2="671.39" y2="122.50" stroke="#222" stroke-width="0.7"/><text transform="translate(671.39,131.20) scale(0.83,1)" font-size="8.4" text-anchor="middle" fill="#222" style="stroke:#222;stroke-width:0.22;">24</text><rect x="662.29" y="110.65" width="7.30" height="8.65" fill="url(#pk)" stroke="#111" stroke-width="0.9"/><circle clip-path="url(#c139639653693504)" cx="663.94" cy="111.10" r="2.0" fill="#000"/><circle clip-path="url(#c139639653693504)" cx="667.94" cy="110.65" r="2.0" fill="#000"/><circle clip-path="url(#c139639653693504)" cx="665.94" cy="110.19" r="2.0" fill="#000"/><rect x="673.19" y="48.70" width="7.30" height="70.60" fill="url(#pr)" stroke="#c0333a" stroke-width="0.9"/><line x1="676.84" y1="41.87" x2="676.84" y2="55.53" stroke="#c0333a" stroke-width="0.8"/><line x1="675.64" y1="41.87" x2="678.04" y2="41.87" stroke="#c0333a" stroke-width="0.8"/><circle clip-path="url(#c139639653693504)" cx="674.84" cy="51.89" r="2.0" fill="#a90f15"/><circle clip-path="url(#c139639653693504)" cx="678.84" cy="48.70" r="2.0" fill="#a90f15"/><circle clip-path="url(#c139639653693504)" cx="676.84" cy="40.95" r="2.0" fill="#a90f15"/><polyline points="665.94,105.89 665.94,32.35 676.84,32.35 676.84,36.65" fill="none" stroke="#262626" stroke-width="0.85"/><path d="M663.74,26.35L663.74,29.95M662.18,27.25L665.30,29.05M665.30,27.25L662.18,29.05M668.84,26.35L668.84,29.95M667.28,27.25L670.40,29.05M670.40,27.25L667.28,29.05M673.94,26.35L673.94,29.95M672.38,27.25L675.50,29.05M675.50,27.25L672.38,29.05M679.04,26.35L679.04,29.95M677.48,27.25L680.60,29.05M680.60,27.25L677.48,29.05" stroke="#111" stroke-width="1.1" stroke-linecap="round" fill="none"/><line x1="569.20" y1="119.30" x2="685.00" y2="119.30" stroke="#222" stroke-width="0.8"/><line x1="572.40" y1="27.80" x2="572.40" y2="119.70" stroke="#222" stroke-width="0.8"/><text transform="translate(628.50,141.00)" font-size="7.8" text-anchor="middle" fill="#222" style="stroke:#222;stroke-width:0.22;" textLength="36.20" lengthAdjust="spacingAndGlyphs">G3-YSD (h)</text><text transform="translate(536.76,77.40) rotate(-90)" font-size="7.4" text-anchor="middle" fill="#222" style="stroke:#222;stroke-width:0.12;" textLength="20.30" lengthAdjust="spacingAndGlyphs">IL-6</text><text transform="translate(549.09,77.40) rotate(-90)" font-size="8.4" text-anchor="middle" fill="#222" style="stroke:#222;stroke-width:0.12;" textLength="40.00" lengthAdjust="spacingAndGlyphs">(pg/mL)</text><circle cx="578.30" cy="67.90" r="2.2" fill="#000"/><text transform="translate(580.50,64.00) rotate(-90)" font-size="6.4" text-anchor="start" fill="#222" style="stroke:#222;stroke-width:0.22;" textLength="30.10" lengthAdjust="spacingAndGlyphs">Con-gRNA</text><circle cx="588.20" cy="67.90" r="2.2" fill="#a90f15"/><text transform="translate(589.50,64.00) rotate(-90)" font-size="6.4" text-anchor="start" fill="#222" style="stroke:#222;stroke-width:0.22;font-style:italic;" textLength="37.50" lengthAdjust="spacingAndGlyphs">TAX1BP1-KO</text><text transform="translate(1.20,162.90)" font-size="11" text-anchor="start" fill="#222" style="stroke:#222;stroke-width:0.22;">E)</text><line x1="51.40" y1="178.94" x2="51.40" y2="268.80" stroke="#222" stroke-width="0.8"/><line x1="48.20" y1="268.40" x2="51.40" y2="268.40" stroke="#222" stroke-width="0.7"/><text transform="translate(43.80,271.34) scale(0.77,1)" font-size="8.2" text-anchor="end" fill="#222" style="stroke:#222;stroke-width:0.22;">0</text><line x1="48.20" y1="238.71" x2="51.40" y2="238.71" stroke="#222" stroke-width="0.7"/><text transform="translate(43.80,241.65) scale(0.77,1)" font-size="8.2" text-anchor="end" fill="#222" style="stroke:#222;stroke-width:0.22;">2000</text><line x1="48.20" y1="209.03" x2="51.40" y2="209.03" stroke="#222" stroke-width="0.7"/><text transform="translate(43.80,211.96) scale(0.77,1)" font-size="8.2" text-anchor="end" fill="#222" style="stroke:#222;stroke-width:0.22;">4000</text><line x1="48.20" y1="179.34" x2="51.40" y2="179.34" stroke="#222" stroke-width="0.7"/><text transform="translate(43.80,182.28) scale(0.77,1)" font-size="8.2" text-anchor="end" fill="#222" style="stroke:#222;stroke-width:0.22;">6000</text><clipPath id="c139639653695232"><rect x="0" y="0" width="685" height="268.40"/></clipPath><line x1="58.60" y1="268.40" x2="58.60" y2="271.60" stroke="#222" stroke-width="0.7"/><text transform="translate(58.60,281.70) scale(0.8,1)" font-size="8.4" text-anchor="middle" fill="#222" style="stroke:#222;stroke-width:0.22;">0</text><circle clip-path="url(#c139639653695232)" cx="55.30" cy="268.12" r="2.0" fill="#000"/><circle clip-path="url(#c139639653695232)" cx="56.10" cy="268.10" r="2.0" fill="#000"/><circle clip-path="url(#c139639653695232)" cx="55.70" cy="268.08" r="2.0" fill="#000"/><circle clip-path="url(#c139639653695232)" cx="61.10" cy="268.12" r="2.0" fill="#a90f15"/><circle clip-path="url(#c139639653695232)" cx="61.90" cy="268.10" r="2.0" fill="#a90f15"/><circle clip-path="url(#c139639653695232)" cx="61.50" cy="268.08" r="2.0" fill="#a90f15"/><polyline points="55.70,263.78 55.70,259.48 61.50,259.48 61.50,263.78" fill="none" stroke="#262626" stroke-width="0.85"/><text transform="translate(58.60,256.78) scale(0.9,1)" font-size="7.1" text-anchor="middle" fill="#222" style="stroke:#222;stroke-width:0.22;">ns</text><line x1="74.57" y1="268.40" x2="74.57" y2="271.60" stroke="#222" stroke-width="0.7"/><text transform="translate(74.57,281.70) scale(0.8,1)" font-size="8.4" text-anchor="middle" fill="#222" style="stroke:#222;stroke-width:0.22;">0.5</text><rect x="69.37" y="266.17" width="4.60" height="2.23" fill="url(#pk)" stroke="#111" stroke-width="0.9"/><circle clip-path="url(#c139639653695232)" cx="71.27" cy="266.92" r="2.0" fill="#000"/><circle clip-path="url(#c139639653695232)" cx="72.07" cy="266.17" r="2.0" fill="#000"/><circle clip-path="url(#c139639653695232)" cx="71.67" cy="265.43" r="2.0" fill="#000"/><rect x="75.17" y="261.72" width="4.60" height="6.68" fill="url(#pr)" stroke="#c0333a" stroke-width="0.9"/><circle clip-path="url(#c139639653695232)" cx="77.07" cy="263.20" r="2.0" fill="#a90f15"/><circle clip-path="url(#c139639653695232)" cx="77.87" cy="261.72" r="2.0" fill="#a90f15"/><circle clip-path="url(#c139639653695232)" cx="77.47" cy="259.49" r="2.0" fill="#a90f15"/><polyline points="71.67,261.13 71.67,250.89 77.47,250.89 77.47,255.19" fill="none" stroke="#262626" stroke-width="0.85"/><text transform="translate(74.57,248.19) scale(0.9,1)" font-size="7.1" text-anchor="middle" fill="#222" style="stroke:#222;stroke-width:0.22;">ns</text><line x1="90.54" y1="268.40" x2="90.54" y2="271.60" stroke="#222" stroke-width="0.7"/><text transform="translate(90.54,281.70) scale(0.8,1)" font-size="8.4" text-anchor="middle" fill="#222" style="stroke:#222;stroke-width:0.22;">1</text><rect x="85.34" y="246.88" width="4.60" height="21.52" fill="url(#pk)" stroke="#111" stroke-width="0.9"/><line x1="87.64" y1="239.46" x2="87.64" y2="254.30" stroke="#111" stroke-width="0.8"/><line x1="86.44" y1="239.46" x2="88.84" y2="239.46" stroke="#111" stroke-width="0.8"/><circle clip-path="url(#c139639653695232)" cx="87.24" cy="252.81" r="2.0" fill="#000"/><circle clip-path="url(#c139639653695232)" cx="88.04" cy="246.88" r="2.0" fill="#000"/><circle clip-path="url(#c139639653695232)" cx="87.64" cy="237.97" r="2.0" fill="#000"/><rect x="91.14" y="243.17" width="4.60" height="25.23" fill="url(#pr)" stroke="#c0333a" stroke-width="0.9"/><circle clip-path="url(#c139639653695232)" cx="93.04" cy="243.91" r="2.0" fill="#a90f15"/><circle clip-path="url(#c139639653695232)" cx="93.84" cy="243.17" r="2.0" fill="#a90f15"/><circle clip-path="url(#c139639653695232)" cx="93.44" cy="242.42" r="2.0" fill="#a90f15"/><polyline points="87.64,233.67 87.64,229.37 93.44,229.37 93.44,238.12" fill="none" stroke="#262626" stroke-width="0.85"/><text transform="translate(90.54,226.67) scale(0.9,1)" font-size="7.1" text-anchor="middle" fill="#222" style="stroke:#222;stroke-width:0.22;">ns</text><line x1="106.51" y1="268.40" x2="106.51" y2="271.60" stroke="#222" stroke-width="0.7"/><text transform="translate(106.51,281.70) scale(0.8,1)" font-size="8.4" text-anchor="middle" fill="#222" style="stroke:#222;stroke-width:0.22;">2</text><rect x="101.31" y="214.96" width="4.60" height="53.44" fill="url(#pk)" stroke="#111" stroke-width="0.9"/><line x1="103.61" y1="203.09" x2="103.61" y2="226.84" stroke="#111" stroke-width="0.8"/><line x1="102.41" y1="203.09" x2="104.81" y2="203.09" stroke="#111" stroke-width="0.8"/><circle clip-path="url(#c139639653695232)" cx="103.21" cy="223.87" r="2.0" fill="#000"/><circle clip-path="url(#c139639653695232)" cx="104.01" cy="214.96" r="2.0" fill="#000"/><circle clip-path="url(#c139639653695232)" cx="103.61" cy="203.09" r="2.0" fill="#000"/><rect x="107.11" y="198.64" width="4.60" height="69.76" fill="url(#pr)" stroke="#c0333a" stroke-width="0.9"/><line x1="109.41" y1="194.18" x2="109.41" y2="203.09" stroke="#c0333a" stroke-width="0.8"/><line x1="108.21" y1="194.18" x2="110.61" y2="194.18" stroke="#c0333a" stroke-width="0.8"/><circle clip-path="url(#c139639653695232)" cx="109.01" cy="203.09" r="2.0" fill="#a90f15"/><circle clip-path="url(#c139639653695232)" cx="109.81" cy="198.64" r="2.0" fill="#a90f15"/><circle clip-path="url(#c139639653695232)" cx="109.41" cy="193.44" r="2.0" fill="#a90f15"/><polyline points="103.61,198.79 103.61,184.84 109.41,184.84 109.41,189.14" fill="none" stroke="#262626" stroke-width="0.85"/><path d="M102.31,179.14L102.31,182.14M101.01,179.89L103.61,181.39M103.61,179.89L101.01,181.39M106.51,179.14L106.51,182.14M105.21,179.89L107.81,181.39M107.81,179.89L105.21,181.39M110.71,179.14L110.71,182.14M109.41,179.89L112.01,181.39M112.01,179.89L109.41,181.39" stroke="#111" stroke-width="1.1" stroke-linecap="round" fill="none"/><line x1="122.48" y1="268.40" x2="122.48" y2="271.60" stroke="#222" stroke-width="0.7"/><text transform="translate(122.48,281.70) scale(0.8,1)" font-size="8.4" text-anchor="middle" fill="#222" style="stroke:#222;stroke-width:0.22;">4</text><rect x="117.28" y="252.81" width="4.60" height="15.59" fill="url(#pk)" stroke="#111" stroke-width="0.9"/><line x1="119.58" y1="249.10" x2="119.58" y2="256.53" stroke="#111" stroke-width="0.8"/><line x1="118.38" y1="249.10" x2="120.78" y2="249.10" stroke="#111" stroke-width="0.8"/><circle clip-path="url(#c139639653695232)" cx="119.18" cy="256.53" r="2.0" fill="#000"/><circle clip-path="url(#c139639653695232)" cx="119.98" cy="252.81" r="2.0" fill="#000"/><circle clip-path="url(#c139639653695232)" cx="119.58" cy="249.10" r="2.0" fill="#000"/><rect x="123.08" y="248.36" width="4.60" height="20.04" fill="url(#pr)" stroke="#c0333a" stroke-width="0.9"/><circle clip-path="url(#c139639653695232)" cx="124.98" cy="249.10" r="2.0" fill="#a90f15"/><circle clip-path="url(#c139639653695232)" cx="125.78" cy="248.36" r="2.0" fill="#a90f15"/><circle clip-path="url(#c139639653695232)" cx="125.38" cy="247.62" r="2.0" fill="#a90f15"/><polyline points="119.58,244.80 119.58,239.02 125.38,239.02 125.38,243.32" fill="none" stroke="#262626" stroke-width="0.85"/><text transform="translate(122.48,236.32) scale(0.9,1)" font-size="7.1" text-anchor="middle" fill="#222" style="stroke:#222;stroke-width:0.22;">ns</text><line x1="138.45" y1="268.40" x2="138.45" y2="271.60" stroke="#222" stroke-width="0.7"/><text transform="translate(138.45,281.70) scale(0.8,1)" font-size="8.4" text-anchor="middle" fill="#222" style="stroke:#222;stroke-width:0.22;">6</text><rect x="133.25" y="264.69" width="4.60" height="3.71" fill="url(#pk)" stroke="#111" stroke-width="0.9"/><circle clip-path="url(#c139639653695232)" cx="135.15" cy="265.43" r="2.0" fill="#000"/><circle clip-path="url(#c139639653695232)" cx="135.95" cy="264.69" r="2.0" fill="#000"/><circle clip-path="url(#c139639653695232)" cx="135.55" cy="264.24" r="2.0" fill="#000"/><rect x="139.05" y="263.20" width="4.60" height="5.20" fill="url(#pr)" stroke="#c0333a" stroke-width="0.9"/><circle clip-path="url(#c139639653695232)" cx="140.95" cy="264.69" r="2.0" fill="#a90f15"/><circle clip-path="url(#c139639653695232)" cx="141.75" cy="263.20" r="2.0" fill="#a90f15"/><circle clip-path="url(#c139639653695232)" cx="141.35" cy="260.98" r="2.0" fill="#a90f15"/><polyline points="135.55,259.94 135.55,252.38 141.35,252.38 141.35,256.68" fill="none" stroke="#262626" stroke-width="0.85"/><text transform="translate(138.45,249.68) scale(0.9,1)" font-size="7.1" text-anchor="middle" fill="#222" style="stroke:#222;stroke-width:0.22;">ns</text><line x1="154.42" y1="268.40" x2="154.42" y2="271.60" stroke="#222" stroke-width="0.7"/><text transform="translate(154.42,281.70) scale(0.8,1)" font-size="8.4" text-anchor="middle" fill="#222" style="stroke:#222;stroke-width:0.22;">18</text><rect x="149.22" y="267.95" width="4.60" height="0.45" fill="url(#pk)" stroke="#111" stroke-width="0.9"/><circle clip-path="url(#c139639653695232)" cx="151.12" cy="267.99" r="2.0" fill="#000"/><circle clip-path="url(#c139639653695232)" cx="151.92" cy="267.95" r="2.0" fill="#000"/><circle clip-path="url(#c139639653695232)" cx="151.52" cy="267.92" r="2.0" fill="#000"/><rect x="155.02" y="267.95" width="4.60" height="0.45" fill="url(#pr)" stroke="#c0333a" stroke-width="0.9"/><circle clip-path="url(#c139639653695232)" cx="156.92" cy="267.99" r="2.0" fill="#a90f15"/><circle clip-path="url(#c139639653695232)" cx="157.72" cy="267.95" r="2.0" fill="#a90f15"/><circle clip-path="url(#c139639653695232)" cx="157.32" cy="267.92" r="2.0" fill="#a90f15"/><polyline points="151.52,263.62 151.52,259.32 157.32,259.32 157.32,263.62" fill="none" stroke="#262626" stroke-width="0.85"/><text transform="translate(154.42,256.62) scale(0.9,1)" font-size="7.1" text-anchor="middle" fill="#222" style="stroke:#222;stroke-width:0.22;">ns</text><line x1="48.20" y1="268.40" x2="161.80" y2="268.40" stroke="#222" stroke-width="0.8"/><line x1="51.40" y1="178.94" x2="51.40" y2="268.80" stroke="#222" stroke-width="0.8"/><text transform="translate(106.00,293.00)" font-size="7.8" text-anchor="middle" fill="#222" style="stroke:#222;stroke-width:0.22;" textLength="29.00" lengthAdjust="spacingAndGlyphs">cGAMP (h)</text><text transform="translate(14.36,231.50) rotate(-90)" font-size="7.4" text-anchor="middle" fill="#222" style="stroke:#222;stroke-width:0.12;" textLength="25.60" lengthAdjust="spacingAndGlyphs">IFN-β</text><text transform="translate(24.09,230.80) rotate(-90)" font-size="8.4" text-anchor="middle" fill="#222" style="stroke:#222;stroke-width:0.12;" textLength="70.60" lengthAdjust="spacingAndGlyphs">(Fold change)</text><circle cx="58.40" cy="221.60" r="2.2" fill="#000"/><text transform="translate(60.00,217.20) rotate(-90)" font-size="6.4" text-anchor="start" fill="#222" style="stroke:#222;stroke-width:0.22;" textLength="28.90" lengthAdjust="spacingAndGlyphs">Con-gRNA</text><circle cx="67.70" cy="221.60" r="2.2" fill="#a90f15"/><text transform="translate(68.60,217.20) rotate(-90)" font-size="6.4" text-anchor="start" fill="#222" style="stroke:#222;stroke-width:0.22;font-style:italic;" textLength="37.10" lengthAdjust="spacingAndGlyphs">TAX1BP1-KO</text><text transform="translate(180.00,162.90)" font-size="11" text-anchor="start" fill="#222" style="stroke:#222;stroke-width:0.22;">F)</text><line x1="223.40" y1="182.70" x2="223.40" y2="267.75" stroke="#222" stroke-width="0.8"/><line x1="220.20" y1="267.35" x2="223.40" y2="267.35" stroke="#222" stroke-width="0.7"/><text transform="translate(216.00,270.21) scale(0.96,1)" font-size="8" text-anchor="end" fill="#222" style="stroke:#222;stroke-width:0.22;">0</text><line x1="220.20" y1="239.27" x2="223.40" y2="239.27" stroke="#222" stroke-width="0.7"/><text transform="translate(216.00,242.13) scale(0.96,1)" font-size="8" text-anchor="end" fill="#222" style="stroke:#222;stroke-width:0.22;">100</text><line x1="220.20" y1="211.18" x2="223.40" y2="211.18" stroke="#222" stroke-width="0.7"/><text transform="translate(216.00,214.05) scale(0.96,1)" font-size="8" text-anchor="end" fill="#222" style="stroke:#222;stroke-width:0.22;">200</text><line x1="220.20" y1="183.10" x2="223.40" y2="183.10" stroke="#222" stroke-width="0.7"/><text transform="translate(216.00,185.96) scale(0.96,1)" font-size="8" text-anchor="end" fill="#222" style="stroke:#222;stroke-width:0.22;">300</text><clipPath id="c139639653595584"><rect x="0" y="0" width="685" height="267.35"/></clipPath><line x1="235.70" y1="267.35" x2="235.70" y2="270.55" stroke="#222" stroke-width="0.7"/><text transform="translate(235.70,281.20) scale(0.8,1)" font-size="8.4" text-anchor="middle" fill="#222" style="stroke:#222;stroke-width:0.22;">0</text><rect x="226.80" y="254.71" width="7.20" height="12.64" fill="url(#pk)" stroke="#111" stroke-width="0.9"/><circle clip-path="url(#c139639653595584)" cx="228.40" cy="254.90" r="2.0" fill="#000"/><circle clip-path="url(#c139639653595584)" cx="232.40" cy="254.71" r="2.0" fill="#000"/><circle clip-path="url(#c139639653595584)" cx="230.40" cy="254.52" r="2.0" fill="#000"/><rect x="237.40" y="254.15" width="7.20" height="13.20" fill="url(#pr)" stroke="#c0333a" stroke-width="0.9"/><circle clip-path="url(#c139639653595584)" cx="239.00" cy="254.35" r="2.0" fill="#a90f15"/><circle clip-path="url(#c139639653595584)" cx="243.00" cy="254.15" r="2.0" fill="#a90f15"/><circle clip-path="url(#c139639653595584)" cx="241.00" cy="253.95" r="2.0" fill="#a90f15"/><polyline points="230.40,250.22 230.40,242.35 241.00,242.35 241.00,249.65" fill="none" stroke="#262626" stroke-width="0.85"/><text transform="translate(235.70,239.65) scale(0.9,1)" font-size="7.1" text-anchor="middle" fill="#222" style="stroke:#222;stroke-width:0.22;">ns</text><line x1="264.50" y1="267.35" x2="264.50" y2="270.55" stroke="#222" stroke-width="0.7"/><text transform="translate(264.50,281.20) scale(0.8,1)" font-size="8.4" text-anchor="middle" fill="#222" style="stroke:#222;stroke-width:0.22;">6</text><rect x="255.60" y="203.32" width="7.20" height="64.03" fill="url(#pk)" stroke="#111" stroke-width="0.9"/><circle clip-path="url(#c139639653595584)" cx="257.20" cy="205.00" r="2.0" fill="#000"/><circle clip-path="url(#c139639653595584)" cx="261.20" cy="203.32" r="2.0" fill="#000"/><circle clip-path="url(#c139639653595584)" cx="259.20" cy="199.39" r="2.0" fill="#000"/><rect x="266.20" y="188.16" width="7.20" height="79.20" fill="url(#pr)" stroke="#c0333a" stroke-width="0.9"/><circle clip-path="url(#c139639653595584)" cx="267.80" cy="188.72" r="2.0" fill="#a90f15"/><circle clip-path="url(#c139639653595584)" cx="271.80" cy="188.16" r="2.0" fill="#a90f15"/><circle clip-path="url(#c139639653595584)" cx="269.80" cy="187.59" r="2.0" fill="#a90f15"/><polyline points="259.20,195.09 259.20,178.99 269.80,178.99 269.80,183.29" fill="none" stroke="#262626" stroke-width="0.85"/><path d="M256.85,172.99L256.85,176.59M255.29,173.89L258.41,175.69M258.41,173.89L255.29,175.69M261.95,172.99L261.95,176.59M260.39,173.89L263.51,175.69M263.51,173.89L260.39,175.69M267.05,172.99L267.05,176.59M265.49,173.89L268.61,175.69M268.61,173.89L265.49,175.69M272.15,172.99L272.15,176.59M270.59,173.89L273.71,175.69M273.71,173.89L270.59,175.69" stroke="#111" stroke-width="1.1" stroke-linecap="round" fill="none"/><line x1="293.30" y1="267.35" x2="293.30" y2="270.55" stroke="#222" stroke-width="0.7"/><text transform="translate(293.30,281.20) scale(0.8,1)" font-size="8.4" text-anchor="middle" fill="#222" style="stroke:#222;stroke-width:0.22;">12</text><rect x="284.40" y="223.82" width="7.20" height="43.53" fill="url(#pk)" stroke="#111" stroke-width="0.9"/><circle clip-path="url(#c139639653595584)" cx="286.00" cy="224.47" r="2.0" fill="#000"/><circle clip-path="url(#c139639653595584)" cx="290.00" cy="223.82" r="2.0" fill="#000"/><circle clip-path="url(#c139639653595584)" cx="288.00" cy="223.17" r="2.0" fill="#000"/><rect x="295.00" y="211.18" width="7.20" height="56.17" fill="url(#pr)" stroke="#c0333a" stroke-width="0.9"/><circle clip-path="url(#c139639653595584)" cx="296.60" cy="212.03" r="2.0" fill="#a90f15"/><circle clip-path="url(#c139639653595584)" cx="300.60" cy="211.18" r="2.0" fill="#a90f15"/><circle clip-path="url(#c139639653595584)" cx="298.60" cy="210.34" r="2.0" fill="#a90f15"/><polyline points="288.00,218.87 288.00,201.74 298.60,201.74 298.60,206.04" fill="none" stroke="#262626" stroke-width="0.85"/><path d="M285.65,195.74L285.65,199.34M284.09,196.64L287.21,198.44M287.21,196.64L284.09,198.44M290.75,195.74L290.75,199.34M289.19,196.64L292.31,198.44M292.31,196.64L289.19,198.44M295.85,195.74L295.85,199.34M294.29,196.64L297.41,198.44M297.41,196.64L294.29,198.44M300.95,195.74L300.95,199.34M299.39,196.64L302.51,198.44M302.51,196.64L299.39,198.44" stroke="#111" stroke-width="1.1" stroke-linecap="round" fill="none"/><line x1="322.10" y1="267.35" x2="322.10" y2="270.55" stroke="#222" stroke-width="0.7"/><text transform="translate(322.10,281.20) scale(0.8,1)" font-size="8.4" text-anchor="middle" fill="#222" style="stroke:#222;stroke-width:0.22;">24</text><rect x="313.20" y="244.88" width="7.20" height="22.47" fill="url(#pk)" stroke="#111" stroke-width="0.9"/><circle clip-path="url(#c139639653595584)" cx="314.80" cy="245.16" r="2.0" fill="#000"/><circle clip-path="url(#c139639653595584)" cx="318.80" cy="244.88" r="2.0" fill="#000"/><circle clip-path="url(#c139639653595584)" cx="316.80" cy="244.60" r="2.0" fill="#000"/><rect x="323.80" y="238.42" width="7.20" height="28.93" fill="url(#pr)" stroke="#c0333a" stroke-width="0.9"/><circle clip-path="url(#c139639653595584)" cx="325.40" cy="239.27" r="2.0" fill="#a90f15"/><circle clip-path="url(#c139639653595584)" cx="329.40" cy="238.71" r="2.0" fill="#a90f15"/><circle clip-path="url(#c139639653595584)" cx="327.40" cy="235.05" r="2.0" fill="#a90f15"/><polyline points="316.80,240.30 316.80,226.45 327.40,226.45 327.40,230.75" fill="none" stroke="#262626" stroke-width="0.85"/><path d="M317.00,220.45L317.00,224.05M315.44,221.35L318.56,223.15M318.56,221.35L315.44,223.15M322.10,220.45L322.10,224.05M320.54,221.35L323.66,223.15M323.66,221.35L320.54,223.15M327.20,220.45L327.20,224.05M325.64,221.35L328.76,223.15M328.76,221.35L325.64,223.15" stroke="#111" stroke-width="1.1" stroke-linecap="round" fill="none"/><line x1="220.20" y1="267.35" x2="335.00" y2="267.35" stroke="#222" stroke-width="0.8"/><line x1="223.40" y1="182.70" x2="223.40" y2="267.75" stroke="#222" stroke-width="0.8"/><text transform="translate(278.40,293.00)" font-size="7.8" text-anchor="middle" fill="#222" style="stroke:#222;stroke-width:0.22;" textLength="36.80" lengthAdjust="spacingAndGlyphs">cGAMP (h)</text><text transform="translate(188.76,225.00) rotate(-90)" font-size="7.4" text-anchor="middle" fill="#222" style="stroke:#222;stroke-width:0.12;" textLength="23.20" lengthAdjust="spacingAndGlyphs">IFN-β</text><text transform="translate(198.29,224.80) rotate(-90)" font-size="8.4" text-anchor="middle" fill="#222" style="stroke:#222;stroke-width:0.12;" textLength="34.30" lengthAdjust="spacingAndGlyphs">(pg/mL)</text><circle cx="229.70" cy="220.90" r="2.2" fill="#000"/><text transform="translate(231.20,218.00) rotate(-90)" font-size="6.4" text-anchor="start" fill="#222" style="stroke:#222;stroke-width:0.22;" textLength="32.60" lengthAdjust="spacingAndGlyphs">Con-gRNA</text><circle cx="238.75" cy="220.90" r="2.2" fill="#a90f15"/><text transform="translate(240.30,218.00) rotate(-90)" font-size="6.4" text-anchor="start" fill="#222" style="stroke:#222;stroke-width:0.22;font-style:italic;" textLength="40.00" lengthAdjust="spacingAndGlyphs">TAX1BP1-KO</text><text transform="translate(356.00,162.90)" font-size="11" text-anchor="start" fill="#222" style="stroke:#222;stroke-width:0.22;">G)</text><line x1="404.70" y1="181.00" x2="404.70" y2="269.50" stroke="#222" stroke-width="0.8"/><line x1="401.50" y1="269.10" x2="404.70" y2="269.10" stroke="#222" stroke-width="0.7"/><text transform="translate(396.20,272.00) scale(0.85,1)" font-size="8.1" text-anchor="end" fill="#222" style="stroke:#222;stroke-width:0.22;">0</text><line x1="401.50" y1="251.56" x2="404.70" y2="251.56" stroke="#222" stroke-width="0.7"/><text transform="translate(396.20,254.46) scale(0.85,1)" font-size="8.1" text-anchor="end" fill="#222" style="stroke:#222;stroke-width:0.22;">200</text><line x1="401.50" y1="234.02" x2="404.70" y2="234.02" stroke="#222" stroke-width="0.7"/><text transform="translate(396.20,236.92) scale(0.85,1)" font-size="8.1" text-anchor="end" fill="#222" style="stroke:#222;stroke-width:0.22;">400</text><line x1="401.50" y1="216.48" x2="404.70" y2="216.48" stroke="#222" stroke-width="0.7"/><text transform="translate(396.20,219.38) scale(0.85,1)" font-size="8.1" text-anchor="end" fill="#222" style="stroke:#222;stroke-width:0.22;">600</text><line x1="401.50" y1="198.94" x2="404.70" y2="198.94" stroke="#222" stroke-width="0.7"/><text transform="translate(396.20,201.84) scale(0.85,1)" font-size="8.1" text-anchor="end" fill="#222" style="stroke:#222;stroke-width:0.22;">800</text><line x1="401.50" y1="181.40" x2="404.70" y2="181.40" stroke="#222" stroke-width="0.7"/><text transform="translate(396.20,184.30) scale(0.85,1)" font-size="8.1" text-anchor="end" fill="#222" style="stroke:#222;stroke-width:0.22;">1000</text><clipPath id="c139639653594176"><rect x="0" y="0" width="685" height="269.10"/></clipPath><line x1="411.40" y1="269.10" x2="411.40" y2="272.30" stroke="#222" stroke-width="0.7"/><text transform="translate(411.40,281.80) scale(0.8,1)" font-size="8.4" text-anchor="middle" fill="#222" style="stroke:#222;stroke-width:0.22;">0</text><rect x="406.50" y="268.66" width="4.30" height="0.44" fill="url(#pk)" stroke="#111" stroke-width="0.9"/><circle clip-path="url(#c139639653594176)" cx="408.25" cy="268.69" r="2.0" fill="#000"/><circle clip-path="url(#c139639653594176)" cx="409.05" cy="268.66" r="2.0" fill="#000"/><circle clip-path="url(#c139639653594176)" cx="408.65" cy="268.63" r="2.0" fill="#000"/><rect x="412.00" y="268.66" width="4.30" height="0.44" fill="url(#pr)" stroke="#c0333a" stroke-width="0.9"/><circle clip-path="url(#c139639653594176)" cx="413.75" cy="268.69" r="2.0" fill="#a90f15"/><circle clip-path="url(#c139639653594176)" cx="414.55" cy="268.66" r="2.0" fill="#a90f15"/><circle clip-path="url(#c139639653594176)" cx="414.15" cy="268.63" r="2.0" fill="#a90f15"/><polyline points="408.65,264.33 408.65,260.03 414.15,260.03 414.15,264.33" fill="none" stroke="#262626" stroke-width="0.85"/><text transform="translate(411.40,257.33) scale(0.9,1)" font-size="7.1" text-anchor="middle" fill="#222" style="stroke:#222;stroke-width:0.22;">ns</text><line x1="426.87" y1="269.10" x2="426.87" y2="272.30" stroke="#222" stroke-width="0.7"/><text transform="translate(426.87,281.80) scale(0.8,1)" font-size="8.4" text-anchor="middle" fill="#222" style="stroke:#222;stroke-width:0.22;">0.5</text><rect x="421.97" y="266.47" width="4.30" height="2.63" fill="url(#pk)" stroke="#111" stroke-width="0.9"/><circle clip-path="url(#c139639653594176)" cx="423.72" cy="266.65" r="2.0" fill="#000"/><circle clip-path="url(#c139639653594176)" cx="424.52" cy="266.47" r="2.0" fill="#000"/><circle clip-path="url(#c139639653594176)" cx="424.12" cy="266.28" r="2.0" fill="#000"/><rect x="427.47" y="264.72" width="4.30" height="4.39" fill="url(#pr)" stroke="#c0333a" stroke-width="0.9"/><circle clip-path="url(#c139639653594176)" cx="429.22" cy="265.02" r="2.0" fill="#a90f15"/><circle clip-path="url(#c139639653594176)" cx="430.02" cy="264.72" r="2.0" fill="#a90f15"/><circle clip-path="url(#c139639653594176)" cx="429.62" cy="264.41" r="2.0" fill="#a90f15"/><polyline points="424.12,261.98 424.12,255.81 429.62,255.81 429.62,260.11" fill="none" stroke="#262626" stroke-width="0.85"/><text transform="translate(426.87,253.11) scale(0.9,1)" font-size="7.1" text-anchor="middle" fill="#222" style="stroke:#222;stroke-width:0.22;">ns</text><line x1="442.34" y1="269.10" x2="442.34" y2="272.30" stroke="#222" stroke-width="0.7"/><text transform="translate(442.34,281.80) scale(0.8,1)" font-size="8.4" text-anchor="middle" fill="#222" style="stroke:#222;stroke-width:0.22;">1</text><rect x="437.44" y="265.59" width="4.30" height="3.51" fill="url(#pk)" stroke="#111" stroke-width="0.9"/><circle clip-path="url(#c139639653594176)" cx="439.19" cy="265.84" r="2.0" fill="#000"/><circle clip-path="url(#c139639653594176)" cx="439.99" cy="265.59" r="2.0" fill="#000"/><circle clip-path="url(#c139639653594176)" cx="439.59" cy="265.35" r="2.0" fill="#000"/><rect x="442.94" y="255.95" width="4.30" height="13.16" fill="url(#pr)" stroke="#c0333a" stroke-width="0.9"/><circle clip-path="url(#c139639653594176)" cx="444.69" cy="256.87" r="2.0" fill="#a90f15"/><circle clip-path="url(#c139639653594176)" cx="445.49" cy="255.95" r="2.0" fill="#a90f15"/><circle clip-path="url(#c139639653594176)" cx="445.09" cy="255.02" r="2.0" fill="#a90f15"/><polyline points="439.59,261.05 439.59,246.42 445.09,246.42 445.09,250.72" fill="none" stroke="#262626" stroke-width="0.85"/><text transform="translate(442.34,243.72) scale(0.9,1)" font-size="7.1" text-anchor="middle" fill="#222" style="stroke:#222;stroke-width:0.22;">ns</text><line x1="457.81" y1="269.10" x2="457.81" y2="272.30" stroke="#222" stroke-width="0.7"/><text transform="translate(457.81,281.80) scale(0.8,1)" font-size="8.4" text-anchor="middle" fill="#222" style="stroke:#222;stroke-width:0.22;">2</text><rect x="452.91" y="262.96" width="4.30" height="6.14" fill="url(#pk)" stroke="#111" stroke-width="0.9"/><circle clip-path="url(#c139639653594176)" cx="454.66" cy="263.84" r="2.0" fill="#000"/><circle clip-path="url(#c139639653594176)" cx="455.46" cy="262.96" r="2.0" fill="#000"/><circle clip-path="url(#c139639653594176)" cx="455.06" cy="262.08" r="2.0" fill="#000"/><rect x="458.41" y="252.44" width="4.30" height="16.66" fill="url(#pr)" stroke="#c0333a" stroke-width="0.9"/><circle clip-path="url(#c139639653594176)" cx="460.16" cy="255.95" r="2.0" fill="#a90f15"/><circle clip-path="url(#c139639653594176)" cx="460.96" cy="252.44" r="2.0" fill="#a90f15"/><circle clip-path="url(#c139639653594176)" cx="460.56" cy="246.30" r="2.0" fill="#a90f15"/><polyline points="455.06,257.78 455.06,237.70 460.56,237.70 460.56,242.00" fill="none" stroke="#262626" stroke-width="0.85"/><text transform="translate(457.81,235.00) scale(0.9,1)" font-size="7.1" text-anchor="middle" fill="#222" style="stroke:#222;stroke-width:0.22;">ns</text><line x1="473.28" y1="269.10" x2="473.28" y2="272.30" stroke="#222" stroke-width="0.7"/><text transform="translate(473.28,281.80) scale(0.8,1)" font-size="8.4" text-anchor="middle" fill="#222" style="stroke:#222;stroke-width:0.22;">4</text><rect x="468.38" y="231.39" width="4.30" height="37.71" fill="url(#pk)" stroke="#111" stroke-width="0.9"/><line x1="470.53" y1="218.23" x2="470.53" y2="244.54" stroke="#111" stroke-width="0.8"/><line x1="469.33" y1="218.23" x2="471.73" y2="218.23" stroke="#111" stroke-width="0.8"/><circle clip-path="url(#c139639653594176)" cx="470.13" cy="239.28" r="2.0" fill="#000"/><circle clip-path="url(#c139639653594176)" cx="470.93" cy="231.39" r="2.0" fill="#000"/><circle clip-path="url(#c139639653594176)" cx="470.53" cy="217.36" r="2.0" fill="#000"/><rect x="473.88" y="209.46" width="4.30" height="59.64" fill="url(#pr)" stroke="#c0333a" stroke-width="0.9"/><line x1="476.03" y1="200.69" x2="476.03" y2="218.23" stroke="#c0333a" stroke-width="0.8"/><line x1="474.83" y1="200.69" x2="477.23" y2="200.69" stroke="#c0333a" stroke-width="0.8"/><circle clip-path="url(#c139639653594176)" cx="475.63" cy="218.23" r="2.0" fill="#a90f15"/><circle clip-path="url(#c139639653594176)" cx="476.43" cy="205.96" r="2.0" fill="#a90f15"/><circle clip-path="url(#c139639653594176)" cx="476.03" cy="204.20" r="2.0" fill="#a90f15"/><polyline points="470.53,213.06 470.53,192.09 476.03,192.09 476.03,196.39" fill="none" stroke="#262626" stroke-width="0.85"/><path d="M468.48,186.19L468.48,189.59M467.01,187.04L469.95,188.74M469.95,187.04L467.01,188.74M473.28,186.19L473.28,189.59M471.81,187.04L474.75,188.74M474.75,187.04L471.81,188.74M478.08,186.19L478.08,189.59M476.61,187.04L479.55,188.74M479.55,187.04L476.61,188.74" stroke="#111" stroke-width="1.1" stroke-linecap="round" fill="none"/><line x1="488.75" y1="269.10" x2="488.75" y2="272.30" stroke="#222" stroke-width="0.7"/><text transform="translate(488.75,281.80) scale(0.8,1)" font-size="8.4" text-anchor="middle" fill="#222" style="stroke:#222;stroke-width:0.22;">6</text><rect x="483.85" y="241.91" width="4.30" height="27.19" fill="url(#pk)" stroke="#111" stroke-width="0.9"/><circle clip-path="url(#c139639653594176)" cx="485.60" cy="244.54" r="2.0" fill="#000"/><circle clip-path="url(#c139639653594176)" cx="486.40" cy="241.91" r="2.0" fill="#000"/><circle clip-path="url(#c139639653594176)" cx="486.00" cy="239.28" r="2.0" fill="#000"/><rect x="489.35" y="200.69" width="4.30" height="68.41" fill="url(#pr)" stroke="#c0333a" stroke-width="0.9"/><line x1="491.50" y1="191.05" x2="491.50" y2="210.34" stroke="#c0333a" stroke-width="0.8"/><line x1="490.30" y1="191.05" x2="492.70" y2="191.05" stroke="#c0333a" stroke-width="0.8"/><circle clip-path="url(#c139639653594176)" cx="491.10" cy="204.20" r="2.0" fill="#a90f15"/><circle clip-path="url(#c139639653594176)" cx="491.90" cy="200.69" r="2.0" fill="#a90f15"/><circle clip-path="url(#c139639653594176)" cx="491.50" cy="191.05" r="2.0" fill="#a90f15"/><polyline points="486.00,234.98 486.00,182.45 491.50,182.45 491.50,186.75" fill="none" stroke="#262626" stroke-width="0.85"/><path d="M481.55,176.55L481.55,179.95M480.08,177.40L483.02,179.10M483.02,177.40L480.08,179.10M486.35,176.55L486.35,179.95M484.88,177.40L487.82,179.10M487.82,177.40L484.88,179.10M491.15,176.55L491.15,179.95M489.68,177.40L492.62,179.10M492.62,177.40L489.68,179.10M495.95,176.55L495.95,179.95M494.48,177.40L497.42,179.10M497.42,177.40L494.48,179.10" stroke="#111" stroke-width="1.1" stroke-linecap="round" fill="none"/><line x1="504.22" y1="269.10" x2="504.22" y2="272.30" stroke="#222" stroke-width="0.7"/><text transform="translate(504.22,281.80) scale(0.8,1)" font-size="8.4" text-anchor="middle" fill="#222" style="stroke:#222;stroke-width:0.22;">18</text><rect x="499.32" y="259.45" width="4.30" height="9.65" fill="url(#pk)" stroke="#111" stroke-width="0.9"/><circle clip-path="url(#c139639653594176)" cx="501.07" cy="261.21" r="2.0" fill="#000"/><circle clip-path="url(#c139639653594176)" cx="501.87" cy="259.45" r="2.0" fill="#000"/><circle clip-path="url(#c139639653594176)" cx="501.47" cy="256.82" r="2.0" fill="#000"/><rect x="504.82" y="240.16" width="4.30" height="28.94" fill="url(#pr)" stroke="#c0333a" stroke-width="0.9"/><line x1="506.97" y1="234.90" x2="506.97" y2="245.42" stroke="#c0333a" stroke-width="0.8"/><line x1="505.77" y1="234.90" x2="508.17" y2="234.90" stroke="#c0333a" stroke-width="0.8"/><circle clip-path="url(#c139639653594176)" cx="506.57" cy="243.67" r="2.0" fill="#a90f15"/><circle clip-path="url(#c139639653594176)" cx="507.37" cy="240.16" r="2.0" fill="#a90f15"/><circle clip-path="url(#c139639653594176)" cx="506.97" cy="234.90" r="2.0" fill="#a90f15"/><polyline points="501.47,252.52 501.47,226.30 506.97,226.30 506.97,230.60" fill="none" stroke="#262626" stroke-width="0.85"/><path d="M499.42,220.40L499.42,223.80M497.95,221.25L500.89,222.95M500.89,221.25L497.95,222.95M504.22,220.40L504.22,223.80M502.75,221.25L505.69,222.95M505.69,221.25L502.75,222.95M509.02,220.40L509.02,223.80M507.55,221.25L510.49,222.95M510.49,221.25L507.55,222.95" stroke="#111" stroke-width="1.1" stroke-linecap="round" fill="none"/><line x1="401.50" y1="269.10" x2="511.80" y2="269.10" stroke="#222" stroke-width="0.8"/><line x1="404.70" y1="181.00" x2="404.70" y2="269.50" stroke="#222" stroke-width="0.8"/><text transform="translate(458.30,293.00)" font-size="7.8" text-anchor="middle" fill="#222" style="stroke:#222;stroke-width:0.22;" textLength="34.00" lengthAdjust="spacingAndGlyphs">cGAMP (h)</text><text transform="translate(369.16,223.70) rotate(-90)" font-size="7.4" text-anchor="middle" fill="#222" style="stroke:#222;stroke-width:0.12;font-style:italic;" textLength="17.60" lengthAdjust="spacingAndGlyphs">IL-6</text><text transform="translate(379.09,224.20) rotate(-90)" font-size="8.4" text-anchor="middle" fill="#222" style="stroke:#222;stroke-width:0.12;" textLength="65.60" lengthAdjust="spacingAndGlyphs">(Fold change)</text><circle cx="412.00" cy="219.80" r="2.2" fill="#000"/><text transform="translate(413.20,216.40) rotate(-90)" font-size="6.4" text-anchor="start" fill="#222" style="stroke:#222;stroke-width:0.22;" textLength="31.30" lengthAdjust="spacingAndGlyphs">Con-gRNA</text><circle cx="421.00" cy="219.80" r="2.2" fill="#a90f15"/><text transform="translate(422.60,216.40) rotate(-90)" font-size="6.4" text-anchor="start" fill="#222" style="stroke:#222;stroke-width:0.22;font-style:italic;" textLength="38.50" lengthAdjust="spacingAndGlyphs">TAX1BP1-KO</text><text transform="translate(526.50,162.90)" font-size="11" text-anchor="start" fill="#222" style="stroke:#222;stroke-width:0.22;">H)</text><line x1="572.40" y1="180.10" x2="572.40" y2="270.80" stroke="#222" stroke-width="0.8"/><line x1="569.20" y1="270.40" x2="572.40" y2="270.40" stroke="#222" stroke-width="0.7"/><text transform="translate(566.00,273.26)" font-size="8" text-anchor="end" fill="#222" style="stroke:#222;stroke-width:0.22;">0</text><line x1="569.20" y1="240.43" x2="572.40" y2="240.43" stroke="#222" stroke-width="0.7"/><text transform="translate(566.00,243.30)" font-size="8" text-anchor="end" fill="#222" style="stroke:#222;stroke-width:0.22;">200</text><line x1="569.20" y1="210.47" x2="572.40" y2="210.47" stroke="#222" stroke-width="0.7"/><text transform="translate(566.00,213.33)" font-size="8" text-anchor="end" fill="#222" style="stroke:#222;stroke-width:0.22;">400</text><line x1="569.20" y1="180.50" x2="572.40" y2="180.50" stroke="#222" stroke-width="0.7"/><text transform="translate(566.00,183.36)" font-size="8" text-anchor="end" fill="#222" style="stroke:#222;stroke-width:0.22;">600</text><clipPath id="c139639653593600"><rect x="0" y="0" width="685" height="270.40"/></clipPath><line x1="584.60" y1="270.40" x2="584.60" y2="273.60" stroke="#222" stroke-width="0.7"/><text transform="translate(584.60,283.20) scale(0.85,1)" font-size="8.4" text-anchor="middle" fill="#222" style="stroke:#222;stroke-width:0.22;">0</text><rect x="575.50" y="268.90" width="7.40" height="1.50" fill="url(#pk)" stroke="#111" stroke-width="0.9"/><circle clip-path="url(#c139639653593600)" cx="577.20" cy="268.92" r="2.0" fill="#000"/><circle clip-path="url(#c139639653593600)" cx="581.20" cy="268.90" r="2.0" fill="#000"/><circle clip-path="url(#c139639653593600)" cx="579.20" cy="268.88" r="2.0" fill="#000"/><rect x="586.30" y="268.90" width="7.40" height="1.50" fill="url(#pr)" stroke="#c0333a" stroke-width="0.9"/><circle clip-path="url(#c139639653593600)" cx="588.00" cy="268.92" r="2.0" fill="#a90f15"/><circle clip-path="url(#c139639653593600)" cx="592.00" cy="268.90" r="2.0" fill="#a90f15"/><circle clip-path="url(#c139639653593600)" cx="590.00" cy="268.88" r="2.0" fill="#a90f15"/><polyline points="579.20,264.58 579.20,257.28 590.00,257.28 590.00,264.58" fill="none" stroke="#262626" stroke-width="0.85"/><text transform="translate(584.60,254.58) scale(0.9,1)" font-size="7.1" text-anchor="middle" fill="#222" style="stroke:#222;stroke-width:0.22;">ns</text><line x1="613.60" y1="270.40" x2="613.60" y2="273.60" stroke="#222" stroke-width="0.7"/><text transform="translate(613.60,283.20) scale(0.85,1)" font-size="8.4" text-anchor="middle" fill="#222" style="stroke:#222;stroke-width:0.22;">6</text><rect x="604.50" y="255.42" width="7.40" height="14.98" fill="url(#pk)" stroke="#111" stroke-width="0.9"/><circle clip-path="url(#c139639653593600)" cx="606.20" cy="255.64" r="2.0" fill="#000"/><circle clip-path="url(#c139639653593600)" cx="610.20" cy="255.42" r="2.0" fill="#000"/><circle clip-path="url(#c139639653593600)" cx="608.20" cy="255.19" r="2.0" fill="#000"/><rect x="615.30" y="200.73" width="7.40" height="69.67" fill="url(#pr)" stroke="#c0333a" stroke-width="0.9"/><circle clip-path="url(#c139639653593600)" cx="617.00" cy="201.77" r="2.0" fill="#a90f15"/><circle clip-path="url(#c139639653593600)" cx="621.00" cy="200.73" r="2.0" fill="#a90f15"/><circle clip-path="url(#c139639653593600)" cx="619.00" cy="199.68" r="2.0" fill="#a90f15"/><polyline points="608.20,250.89 608.20,188.50 619.00,188.50 619.00,195.38" fill="none" stroke="#262626" stroke-width="0.85"/><path d="M605.95,182.50L605.95,186.10M604.39,183.40L607.51,185.20M607.51,183.40L604.39,185.20M611.05,182.50L611.05,186.10M609.49,183.40L612.61,185.20M612.61,183.40L609.49,185.20M616.15,182.50L616.15,186.10M614.59,183.40L617.71,185.20M617.71,183.40L614.59,185.20M621.25,182.50L621.25,186.10M619.69,183.40L622.81,185.20M622.81,183.40L619.69,185.20" stroke="#111" stroke-width="1.1" stroke-linecap="round" fill="none"/><line x1="642.60" y1="270.40" x2="642.60" y2="273.60" stroke="#222" stroke-width="0.7"/><text transform="translate(642.60,283.20) scale(0.85,1)" font-size="8.4" text-anchor="middle" fill="#222" style="stroke:#222;stroke-width:0.22;">12</text><rect x="633.50" y="252.12" width="7.40" height="18.28" fill="url(#pk)" stroke="#111" stroke-width="0.9"/><circle clip-path="url(#c139639653593600)" cx="635.20" cy="252.39" r="2.0" fill="#000"/><circle clip-path="url(#c139639653593600)" cx="639.20" cy="252.12" r="2.0" fill="#000"/><circle clip-path="url(#c139639653593600)" cx="637.20" cy="251.85" r="2.0" fill="#000"/><rect x="644.30" y="200.28" width="7.40" height="70.12" fill="url(#pr)" stroke="#c0333a" stroke-width="0.9"/><circle clip-path="url(#c139639653593600)" cx="646.00" cy="201.33" r="2.0" fill="#a90f15"/><circle clip-path="url(#c139639653593600)" cx="650.00" cy="200.28" r="2.0" fill="#a90f15"/><circle clip-path="url(#c139639653593600)" cx="648.00" cy="199.23" r="2.0" fill="#a90f15"/><polyline points="637.20,247.55 637.20,188.50 648.00,188.50 648.00,194.93" fill="none" stroke="#262626" stroke-width="0.85"/><path d="M634.95,182.50L634.95,186.10M633.39,183.40L636.51,185.20M636.51,183.40L633.39,185.20M640.05,182.50L640.05,186.10M638.49,183.40L641.61,185.20M641.61,183.40L638.49,185.20M645.15,182.50L645.15,186.10M643.59,183.40L646.71,185.20M646.71,183.40L643.59,185.20M650.25,182.50L650.25,186.10M648.69,183.40L651.81,185.20M651.81,183.40L648.69,185.20" stroke="#111" stroke-width="1.1" stroke-linecap="round" fill="none"/><line x1="671.60" y1="270.40" x2="671.60" y2="273.60" stroke="#222" stroke-width="0.7"/><text transform="translate(671.60,283.20) scale(0.85,1)" font-size="8.4" text-anchor="middle" fill="#222" style="stroke:#222;stroke-width:0.22;">24</text><rect x="662.50" y="249.42" width="7.40" height="20.98" fill="url(#pk)" stroke="#111" stroke-width="0.9"/><circle clip-path="url(#c139639653593600)" cx="664.20" cy="249.74" r="2.0" fill="#000"/><circle clip-path="url(#c139639653593600)" cx="668.20" cy="249.42" r="2.0" fill="#000"/><circle clip-path="url(#c139639653593600)" cx="666.20" cy="249.11" r="2.0" fill="#000"/><rect x="673.30" y="198.78" width="7.40" height="71.62" fill="url(#pr)" stroke="#c0333a" stroke-width="0.9"/><circle clip-path="url(#c139639653593600)" cx="675.00" cy="199.85" r="2.0" fill="#a90f15"/><circle clip-path="url(#c139639653593600)" cx="679.00" cy="198.78" r="2.0" fill="#a90f15"/><circle clip-path="url(#c139639653593600)" cx="677.00" cy="197.71" r="2.0" fill="#a90f15"/><polyline points="666.20,244.81 666.20,188.50 677.00,188.50 677.00,193.41" fill="none" stroke="#262626" stroke-width="0.85"/><path d="M663.95,182.50L663.95,186.10M662.39,183.40L665.51,185.20M665.51,183.40L662.39,185.20M669.05,182.50L669.05,186.10M667.49,183.40L670.61,185.20M670.61,183.40L667.49,185.20M674.15,182.50L674.15,186.10M672.59,183.40L675.71,185.20M675.71,183.40L672.59,185.20M679.25,182.50L679.25,186.10M677.69,183.40L680.81,185.20M680.81,183.40L677.69,185.20" stroke="#111" stroke-width="1.1" stroke-linecap="round" fill="none"/><line x1="569.20" y1="270.40" x2="685.00" y2="270.40" stroke="#222" stroke-width="0.8"/><line x1="572.40" y1="180.10" x2="572.40" y2="270.80" stroke="#222" stroke-width="0.8"/><text transform="translate(630.00,294.20)" font-size="7.8" text-anchor="middle" fill="#222" style="stroke:#222;stroke-width:0.22;" textLength="34.40" lengthAdjust="spacingAndGlyphs">cGAMP (h)</text><text transform="translate(537.16,229.00) rotate(-90)" font-size="7.4" text-anchor="middle" fill="#222" style="stroke:#222;stroke-width:0.12;" textLength="17.60" lengthAdjust="spacingAndGlyphs">IL-6</text><text transform="translate(548.29,224.20) rotate(-90)" font-size="8.4" text-anchor="middle" fill="#222" style="stroke:#222;stroke-width:0.12;" textLength="36.60" lengthAdjust="spacingAndGlyphs">(pg/mL)</text><circle cx="578.90" cy="219.20" r="2.2" fill="#000"/><text transform="translate(581.00,216.10) rotate(-90)" font-size="6.4" text-anchor="start" fill="#222" style="stroke:#222;stroke-width:0.22;" textLength="31.00" lengthAdjust="spacingAndGlyphs">Con-gRNA</text><circle cx="588.30" cy="219.20" r="2.2" fill="#a90f15"/><text transform="translate(589.60,216.10) rotate(-90)" font-size="6.4" text-anchor="start" fill="#222" style="stroke:#222;stroke-width:0.22;font-style:italic;" textLength="38.00" lengthAdjust="spacingAndGlyphs">TAX1BP1-KO</text><text transform="translate(5.00,309.00)" font-size="11" text-anchor="start" fill="#222" style="stroke:#222;stroke-width:0.22;">I)</text><line x1="53.40" y1="333.90" x2="53.40" y2="413.95" stroke="#222" stroke-width="0.8"/><line x1="50.20" y1="413.55" x2="53.40" y2="413.55" stroke="#222" stroke-width="0.7"/><text transform="translate(48.00,416.74) scale(0.85,1)" font-size="8.9" text-anchor="end" fill="#222" style="stroke:#222;stroke-width:0.22;">0</text><line x1="50.20" y1="387.13" x2="53.40" y2="387.13" stroke="#222" stroke-width="0.7"/><text transform="translate(48.00,390.32) scale(0.85,1)" font-size="8.9" text-anchor="end" fill="#222" style="stroke:#222;stroke-width:0.22;">1000</text><line x1="50.20" y1="360.72" x2="53.40" y2="360.72" stroke="#222" stroke-width="0.7"/><text transform="translate(48.00,363.90) scale(0.85,1)" font-size="8.9" text-anchor="end" fill="#222" style="stroke:#222;stroke-width:0.22;">2000</text><line x1="50.20" y1="334.30" x2="53.40" y2="334.30" stroke="#222" stroke-width="0.7"/><text transform="translate(48.00,337.49) scale(0.85,1)" font-size="8.9" text-anchor="end" fill="#222" style="stroke:#222;stroke-width:0.22;">3000</text><clipPath id="c139639653592704"><rect x="0" y="0" width="685" height="413.55"/></clipPath><line x1="69.40" y1="413.55" x2="69.40" y2="416.75" stroke="#222" stroke-width="0.7"/><text transform="translate(69.40,425.50) scale(0.95,1)" font-size="8.8" text-anchor="middle" fill="#222" style="stroke:#222;stroke-width:0.22;">0</text><rect x="58.00" y="413.02" width="9.40" height="0.53" fill="url(#pb)" stroke="#2222e0" stroke-width="0.9"/><circle clip-path="url(#c139639653592704)" cx="59.70" cy="413.02" r="2.0" fill="#1515e8"/><circle clip-path="url(#c139639653592704)" cx="65.70" cy="413.02" r="2.0" fill="#1515e8"/><circle clip-path="url(#c139639653592704)" cx="62.70" cy="413.02" r="2.0" fill="#1515e8"/><rect x="71.40" y="413.02" width="9.40" height="0.53" fill="url(#pm)" stroke="#b01fd6" stroke-width="0.9"/><circle clip-path="url(#c139639653592704)" cx="73.10" cy="413.02" r="2.0" fill="#b51bd8"/><circle clip-path="url(#c139639653592704)" cx="79.10" cy="413.02" r="2.0" fill="#b51bd8"/><circle clip-path="url(#c139639653592704)" cx="76.10" cy="413.02" r="2.0" fill="#b51bd8"/><polyline points="62.70,408.72 62.70,404.30 76.10,404.30 76.10,408.72" fill="none" stroke="#262626" stroke-width="0.85"/><text transform="translate(69.40,401.60) scale(0.9,1)" font-size="7.1" text-anchor="middle" fill="#222" style="stroke:#222;stroke-width:0.22;">ns</text><line x1="105.25" y1="413.55" x2="105.25" y2="416.75" stroke="#222" stroke-width="0.7"/><text transform="translate(105.25,425.50) scale(0.95,1)" font-size="8.8" text-anchor="middle" fill="#222" style="stroke:#222;stroke-width:0.22;">6</text><rect x="93.85" y="396.38" width="9.40" height="17.17" fill="url(#pb)" stroke="#2222e0" stroke-width="0.9"/><line x1="98.55" y1="393.74" x2="98.55" y2="399.02" stroke="#2222e0" stroke-width="0.8"/><line x1="97.35" y1="393.74" x2="99.75" y2="393.74" stroke="#2222e0" stroke-width="0.8"/><circle clip-path="url(#c139639653592704)" cx="95.55" cy="398.76" r="2.0" fill="#1515e8"/><circle clip-path="url(#c139639653592704)" cx="101.55" cy="396.38" r="2.0" fill="#1515e8"/><circle clip-path="url(#c139639653592704)" cx="98.55" cy="393.74" r="2.0" fill="#1515e8"/><rect x="107.25" y="350.15" width="9.40" height="63.40" fill="url(#pm)" stroke="#b01fd6" stroke-width="0.9"/><line x1="111.95" y1="344.87" x2="111.95" y2="355.43" stroke="#b01fd6" stroke-width="0.8"/><line x1="110.75" y1="344.87" x2="113.15" y2="344.87" stroke="#b01fd6" stroke-width="0.8"/><circle clip-path="url(#c139639653592704)" cx="108.95" cy="355.43" r="2.0" fill="#b51bd8"/><circle clip-path="url(#c139639653592704)" cx="114.95" cy="348.83" r="2.0" fill="#b51bd8"/><circle clip-path="url(#c139639653592704)" cx="111.95" cy="344.87" r="2.0" fill="#b51bd8"/><polyline points="98.55,389.44 98.55,337.50 111.95,337.50 111.95,340.57" fill="none" stroke="#262626" stroke-width="0.85"/><path d="M98.05,331.60L98.05,335.00M96.58,332.45L99.52,334.15M99.52,332.45L96.58,334.15M102.85,331.60L102.85,335.00M101.38,332.45L104.32,334.15M104.32,332.45L101.38,334.15M107.65,331.60L107.65,335.00M106.18,332.45L109.12,334.15M109.12,332.45L106.18,334.15M112.45,331.60L112.45,335.00M110.98,332.45L113.92,334.15M113.92,332.45L110.98,334.15" stroke="#111" stroke-width="1.1" stroke-linecap="round" fill="none"/><line x1="141.10" y1="413.55" x2="141.10" y2="416.75" stroke="#222" stroke-width="0.7"/><text transform="translate(141.10,425.50) scale(0.95,1)" font-size="8.8" text-anchor="middle" fill="#222" style="stroke:#222;stroke-width:0.22;">12</text><rect x="129.70" y="412.76" width="9.40" height="0.79" fill="url(#pb)" stroke="#2222e0" stroke-width="0.9"/><circle clip-path="url(#c139639653592704)" cx="131.40" cy="412.76" r="2.0" fill="#1515e8"/><circle clip-path="url(#c139639653592704)" cx="137.40" cy="412.76" r="2.0" fill="#1515e8"/><circle clip-path="url(#c139639653592704)" cx="134.40" cy="412.76" r="2.0" fill="#1515e8"/><rect x="143.10" y="411.97" width="9.40" height="1.59" fill="url(#pm)" stroke="#b01fd6" stroke-width="0.9"/><circle clip-path="url(#c139639653592704)" cx="144.80" cy="412.49" r="2.0" fill="#b51bd8"/><circle clip-path="url(#c139639653592704)" cx="150.80" cy="411.70" r="2.0" fill="#b51bd8"/><circle clip-path="url(#c139639653592704)" cx="147.80" cy="411.44" r="2.0" fill="#b51bd8"/><polyline points="134.40,408.46 134.40,405.00 147.80,405.00 147.80,407.14" fill="none" stroke="#262626" stroke-width="0.85"/><text transform="translate(141.10,402.30) scale(0.9,1)" font-size="7.1" text-anchor="middle" fill="#222" style="stroke:#222;stroke-width:0.22;">ns</text><line x1="50.20" y1="413.55" x2="157.40" y2="413.55" stroke="#222" stroke-width="0.8"/><line x1="53.40" y1="333.90" x2="53.40" y2="413.95" stroke="#222" stroke-width="0.8"/><text transform="translate(106.00,436.00)" font-size="8.8" text-anchor="middle" fill="#222" style="stroke:#222;stroke-width:0.22;" textLength="38.50" lengthAdjust="spacingAndGlyphs">G3-YSD (h)</text><text transform="translate(16.76,374.80) rotate(-90)" font-size="7.4" text-anchor="middle" fill="#222" style="stroke:#222;stroke-width:0.12;font-style:italic;" textLength="23.00" lengthAdjust="spacingAndGlyphs">IFN-β</text><text transform="translate(27.29,374.40) rotate(-90)" font-size="8.4" text-anchor="middle" fill="#222" style="stroke:#222;stroke-width:0.12;" textLength="60.80" lengthAdjust="spacingAndGlyphs">(Fold change)</text><circle cx="59.50" cy="389.90" r="2.2" fill="#1515e8"/><text transform="translate(61.80,385.70) rotate(-90)" font-size="7" text-anchor="start" fill="#222" style="stroke:#222;stroke-width:0.22;" textLength="31.60" lengthAdjust="spacingAndGlyphs">LysM-Cre</text><circle cx="68.60" cy="389.90" r="2.2" fill="#b51bd8"/><text transform="translate(70.90,385.70) rotate(-90)" font-size="7" text-anchor="start" fill="#222" style="stroke:#222;stroke-width:0.22;" textLength="53.30" lengthAdjust="spacingAndGlyphs">LysM-Cre-TAX1BP1</text><text transform="translate(180.00,309.00)" font-size="11" text-anchor="start" fill="#222" style="stroke:#222;stroke-width:0.22;">J)</text><line x1="223.80" y1="330.80" x2="223.80" y2="415.85" stroke="#222" stroke-width="0.8"/><line x1="220.60" y1="415.45" x2="223.80" y2="415.45" stroke="#222" stroke-width="0.7"/><text transform="translate(217.90,418.42) scale(0.83,1)" font-size="8.3" text-anchor="end" fill="#222" style="stroke:#222;stroke-width:0.22;">0</text><line x1="220.60" y1="398.60" x2="223.80" y2="398.60" stroke="#222" stroke-width="0.7"/><text transform="translate(217.90,401.57) scale(0.83,1)" font-size="8.3" text-anchor="end" fill="#222" style="stroke:#222;stroke-width:0.22;">100</text><line x1="220.60" y1="381.75" x2="223.80" y2="381.75" stroke="#222" stroke-width="0.7"/><text transform="translate(217.90,384.72) scale(0.83,1)" font-size="8.3" text-anchor="end" fill="#222" style="stroke:#222;stroke-width:0.22;">200</text><line x1="220.60" y1="364.90" x2="223.80" y2="364.90" stroke="#222" stroke-width="0.7"/><text transform="translate(217.90,367.87) scale(0.83,1)" font-size="8.3" text-anchor="end" fill="#222" style="stroke:#222;stroke-width:0.22;">300</text><line x1="220.60" y1="348.05" x2="223.80" y2="348.05" stroke="#222" stroke-width="0.7"/><text transform="translate(217.90,351.02) scale(0.83,1)" font-size="8.3" text-anchor="end" fill="#222" style="stroke:#222;stroke-width:0.22;">400</text><line x1="220.60" y1="331.20" x2="223.80" y2="331.20" stroke="#222" stroke-width="0.7"/><text transform="translate(217.90,334.17) scale(0.83,1)" font-size="8.3" text-anchor="end" fill="#222" style="stroke:#222;stroke-width:0.22;">500</text><clipPath id="c139639653591936"><rect x="0" y="0" width="685" height="415.45"/></clipPath><line x1="240.40" y1="415.45" x2="240.40" y2="418.65" stroke="#222" stroke-width="0.7"/><text transform="translate(240.40,427.40) scale(0.95,1)" font-size="8.8" text-anchor="middle" fill="#222" style="stroke:#222;stroke-width:0.22;">0</text><rect x="228.60" y="414.61" width="9.50" height="0.84" fill="url(#pb)" stroke="#2222e0" stroke-width="0.9"/><circle clip-path="url(#c139639653591936)" cx="230.35" cy="414.94" r="2.0" fill="#1515e8"/><circle clip-path="url(#c139639653591936)" cx="236.35" cy="414.94" r="2.0" fill="#1515e8"/><circle clip-path="url(#c139639653591936)" cx="233.35" cy="414.94" r="2.0" fill="#1515e8"/><rect x="242.70" y="414.61" width="9.50" height="0.84" fill="url(#pm)" stroke="#b01fd6" stroke-width="0.9"/><circle clip-path="url(#c139639653591936)" cx="244.45" cy="414.94" r="2.0" fill="#b51bd8"/><circle clip-path="url(#c139639653591936)" cx="250.45" cy="414.94" r="2.0" fill="#b51bd8"/><circle clip-path="url(#c139639653591936)" cx="247.45" cy="414.94" r="2.0" fill="#b51bd8"/><polyline points="233.35,410.31 233.35,406.10 247.45,406.10 247.45,410.31" fill="none" stroke="#262626" stroke-width="0.85"/><text transform="translate(240.40,403.40) scale(0.9,1)" font-size="7.1" text-anchor="middle" fill="#222" style="stroke:#222;stroke-width:0.22;">ns</text><line x1="277.90" y1="415.45" x2="277.90" y2="418.65" stroke="#222" stroke-width="0.7"/><text transform="translate(277.90,427.40) scale(0.95,1)" font-size="8.8" text-anchor="middle" fill="#222" style="stroke:#222;stroke-width:0.22;">6</text><rect x="266.10" y="390.18" width="9.50" height="25.28" fill="url(#pb)" stroke="#2222e0" stroke-width="0.9"/><line x1="270.85" y1="381.75" x2="270.85" y2="398.60" stroke="#2222e0" stroke-width="0.8"/><line x1="269.65" y1="381.75" x2="272.05" y2="381.75" stroke="#2222e0" stroke-width="0.8"/><circle clip-path="url(#c139639653591936)" cx="267.85" cy="396.91" r="2.0" fill="#1515e8"/><circle clip-path="url(#c139639653591936)" cx="273.85" cy="390.18" r="2.0" fill="#1515e8"/><circle clip-path="url(#c139639653591936)" cx="270.85" cy="381.75" r="2.0" fill="#1515e8"/><rect x="280.20" y="352.26" width="9.50" height="63.19" fill="url(#pm)" stroke="#b01fd6" stroke-width="0.9"/><line x1="284.95" y1="341.31" x2="284.95" y2="363.21" stroke="#b01fd6" stroke-width="0.8"/><line x1="283.75" y1="341.31" x2="286.15" y2="341.31" stroke="#b01fd6" stroke-width="0.8"/><circle clip-path="url(#c139639653591936)" cx="281.95" cy="361.53" r="2.0" fill="#b51bd8"/><circle clip-path="url(#c139639653591936)" cx="287.95" cy="354.79" r="2.0" fill="#b51bd8"/><circle clip-path="url(#c139639653591936)" cx="284.95" cy="341.31" r="2.0" fill="#b51bd8"/><polyline points="270.85,377.45 270.85,332.71 284.95,332.71 284.95,337.01" fill="none" stroke="#262626" stroke-width="0.85"/><path d="M270.70,326.81L270.70,330.21M269.23,327.66L272.17,329.36M272.17,327.66L269.23,329.36M275.50,326.81L275.50,330.21M274.03,327.66L276.97,329.36M276.97,327.66L274.03,329.36M280.30,326.81L280.30,330.21M278.83,327.66L281.77,329.36M281.77,327.66L278.83,329.36M285.10,326.81L285.10,330.21M283.63,327.66L286.57,329.36M286.57,327.66L283.63,329.36" stroke="#111" stroke-width="1.1" stroke-linecap="round" fill="none"/><line x1="315.40" y1="415.45" x2="315.40" y2="418.65" stroke="#222" stroke-width="0.7"/><text transform="translate(315.40,427.40) scale(0.95,1)" font-size="8.8" text-anchor="middle" fill="#222" style="stroke:#222;stroke-width:0.22;">12</text><rect x="303.60" y="410.39" width="9.50" height="5.06" fill="url(#pb)" stroke="#2222e0" stroke-width="0.9"/><circle clip-path="url(#c139639653591936)" cx="305.35" cy="411.24" r="2.0" fill="#1515e8"/><circle clip-path="url(#c139639653591936)" cx="311.35" cy="410.39" r="2.0" fill="#1515e8"/><circle clip-path="url(#c139639653591936)" cx="308.35" cy="408.71" r="2.0" fill="#1515e8"/><rect x="317.70" y="398.60" width="9.50" height="16.85" fill="url(#pm)" stroke="#b01fd6" stroke-width="0.9"/><line x1="322.45" y1="396.91" x2="322.45" y2="400.28" stroke="#b01fd6" stroke-width="0.8"/><line x1="321.25" y1="396.91" x2="323.65" y2="396.91" stroke="#b01fd6" stroke-width="0.8"/><circle clip-path="url(#c139639653591936)" cx="319.45" cy="400.28" r="2.0" fill="#b51bd8"/><circle clip-path="url(#c139639653591936)" cx="325.45" cy="398.60" r="2.0" fill="#b51bd8"/><circle clip-path="url(#c139639653591936)" cx="322.45" cy="396.91" r="2.0" fill="#b51bd8"/><polyline points="308.35,404.41 308.35,391.30 322.45,391.30 322.45,392.61" fill="none" stroke="#262626" stroke-width="0.85"/><text transform="translate(315.40,388.60) scale(0.9,1)" font-size="7.1" text-anchor="middle" fill="#222" style="stroke:#222;stroke-width:0.22;">ns</text><line x1="220.60" y1="415.45" x2="332.70" y2="415.45" stroke="#222" stroke-width="0.8"/><line x1="223.80" y1="330.80" x2="223.80" y2="415.85" stroke="#222" stroke-width="0.8"/><text transform="translate(280.70,435.80)" font-size="8.8" text-anchor="middle" fill="#222" style="stroke:#222;stroke-width:0.22;" textLength="38.00" lengthAdjust="spacingAndGlyphs">G3-YSD (h)</text><text transform="translate(189.26,370.70) rotate(-90)" font-size="7.4" text-anchor="middle" fill="#222" style="stroke:#222;stroke-width:0.12;font-style:italic;" textLength="17.60" lengthAdjust="spacingAndGlyphs">IL-6</text><text transform="translate(201.59,370.00) rotate(-90)" font-size="8.4" text-anchor="middle" fill="#222" style="stroke:#222;stroke-width:0.12;" textLength="62.60" lengthAdjust="spacingAndGlyphs">(Fold change)</text><circle cx="230.20" cy="390.50" r="2.2" fill="#1515e8"/><text transform="translate(232.60,386.00) rotate(-90)" font-size="7" text-anchor="start" fill="#222" style="stroke:#222;stroke-width:0.22;" textLength="32.30" lengthAdjust="spacingAndGlyphs">LysM-Cre</text><circle cx="239.10" cy="390.50" r="2.2" fill="#b51bd8"/><text transform="translate(241.60,386.00) rotate(-90)" font-size="7" text-anchor="start" fill="#222" style="stroke:#222;stroke-width:0.22;" textLength="54.10" lengthAdjust="spacingAndGlyphs">LysM-Cre-TAX1BP1</text><text transform="translate(356.00,309.00)" font-size="11" text-anchor="start" fill="#222" style="stroke:#222;stroke-width:0.22;">K)</text><line x1="411.20" y1="331.80" x2="411.20" y2="416.90" stroke="#222" stroke-width="0.8"/><line x1="408.00" y1="416.50" x2="411.20" y2="416.50" stroke="#222" stroke-width="0.7"/><text transform="translate(405.00,419.79) scale(0.97,1)" font-size="9.2" text-anchor="end" fill="#222" style="stroke:#222;stroke-width:0.22;">0</text><line x1="408.00" y1="388.40" x2="411.20" y2="388.40" stroke="#222" stroke-width="0.7"/><text transform="translate(405.00,391.69) scale(0.97,1)" font-size="9.2" text-anchor="end" fill="#222" style="stroke:#222;stroke-width:0.22;">20000</text><line x1="408.00" y1="360.30" x2="411.20" y2="360.30" stroke="#222" stroke-width="0.7"/><text transform="translate(405.00,363.59) scale(0.97,1)" font-size="9.2" text-anchor="end" fill="#222" style="stroke:#222;stroke-width:0.22;">40000</text><line x1="408.00" y1="332.20" x2="411.20" y2="332.20" stroke="#222" stroke-width="0.7"/><text transform="translate(405.00,335.49) scale(0.97,1)" font-size="9.2" text-anchor="end" fill="#222" style="stroke:#222;stroke-width:0.22;">60000</text><clipPath id="c139639653590720"><rect x="0" y="0" width="685" height="416.50"/></clipPath><line x1="417.40" y1="416.50" x2="417.40" y2="419.70" stroke="#222" stroke-width="0.7"/><text transform="translate(417.40,428.00) scale(0.97,1)" font-size="9.5" text-anchor="middle" fill="#222" style="stroke:#222;stroke-width:0.22;">0</text><circle clip-path="url(#c139639653590720)" cx="414.40" cy="416.50" r="2.0" fill="#1515e8"/><circle clip-path="url(#c139639653590720)" cx="415.20" cy="416.50" r="2.0" fill="#1515e8"/><circle clip-path="url(#c139639653590720)" cx="414.80" cy="416.50" r="2.0" fill="#1515e8"/><circle clip-path="url(#c139639653590720)" cx="419.60" cy="416.50" r="2.0" fill="#b51bd8"/><circle clip-path="url(#c139639653590720)" cx="420.40" cy="416.50" r="2.0" fill="#b51bd8"/><circle clip-path="url(#c139639653590720)" cx="420.00" cy="416.50" r="2.0" fill="#b51bd8"/><polyline points="414.80,412.20 414.80,411.20 420.00,411.20 420.00,412.20" fill="none" stroke="#262626" stroke-width="0.85"/><text transform="translate(417.40,408.50) scale(0.9,1)" font-size="7.1" text-anchor="middle" fill="#222" style="stroke:#222;stroke-width:0.22;">ns</text><line x1="431.97" y1="416.50" x2="431.97" y2="419.70" stroke="#222" stroke-width="0.7"/><text transform="translate(431.97,428.00) scale(0.97,1)" font-size="9.5" text-anchor="middle" fill="#222" style="stroke:#222;stroke-width:0.22;">0.5</text><circle clip-path="url(#c139639653590720)" cx="428.97" cy="416.50" r="2.0" fill="#1515e8"/><circle clip-path="url(#c139639653590720)" cx="429.77" cy="416.50" r="2.0" fill="#1515e8"/><circle clip-path="url(#c139639653590720)" cx="429.37" cy="416.50" r="2.0" fill="#1515e8"/><circle clip-path="url(#c139639653590720)" cx="434.17" cy="416.50" r="2.0" fill="#b51bd8"/><circle clip-path="url(#c139639653590720)" cx="434.97" cy="416.50" r="2.0" fill="#b51bd8"/><circle clip-path="url(#c139639653590720)" cx="434.57" cy="416.50" r="2.0" fill="#b51bd8"/><polyline points="429.37,412.20 429.37,411.20 434.57,411.20 434.57,412.20" fill="none" stroke="#262626" stroke-width="0.85"/><text transform="translate(431.97,408.50) scale(0.9,1)" font-size="7.1" text-anchor="middle" fill="#222" style="stroke:#222;stroke-width:0.22;">ns</text><line x1="446.54" y1="416.50" x2="446.54" y2="419.70" stroke="#222" stroke-width="0.7"/><text transform="translate(446.54,428.00) scale(0.97,1)" font-size="9.5" text-anchor="middle" fill="#222" style="stroke:#222;stroke-width:0.22;">1</text><rect x="441.84" y="414.39" width="4.20" height="2.11" fill="url(#pb)" stroke="#2222e0" stroke-width="0.9"/><circle clip-path="url(#c139639653590720)" cx="443.54" cy="414.39" r="2.0" fill="#1515e8"/><circle clip-path="url(#c139639653590720)" cx="444.34" cy="414.39" r="2.0" fill="#1515e8"/><circle clip-path="url(#c139639653590720)" cx="443.94" cy="414.39" r="2.0" fill="#1515e8"/><rect x="447.04" y="403.15" width="4.20" height="13.35" fill="url(#pm)" stroke="#b01fd6" stroke-width="0.9"/><circle clip-path="url(#c139639653590720)" cx="448.74" cy="404.56" r="2.0" fill="#b51bd8"/><circle clip-path="url(#c139639653590720)" cx="449.54" cy="403.15" r="2.0" fill="#b51bd8"/><circle clip-path="url(#c139639653590720)" cx="449.14" cy="401.75" r="2.0" fill="#b51bd8"/><polyline points="443.94,410.09 443.94,396.45 449.14,396.45 449.14,397.45" fill="none" stroke="#262626" stroke-width="0.85"/><path d="M438.44,390.25L438.44,394.25M436.71,391.25L440.17,393.25M440.17,391.25L436.71,393.25M443.84,390.25L443.84,394.25M442.11,391.25L445.57,393.25M445.57,391.25L442.11,393.25M449.24,390.25L449.24,394.25M447.51,391.25L450.97,393.25M450.97,391.25L447.51,393.25M454.64,390.25L454.64,394.25M452.91,391.25L456.37,393.25M456.37,391.25L452.91,393.25" stroke="#111" stroke-width="1.1" stroke-linecap="round" fill="none"/><line x1="461.11" y1="416.50" x2="461.11" y2="419.70" stroke="#222" stroke-width="0.7"/><text transform="translate(461.11,428.00) scale(0.97,1)" font-size="9.5" text-anchor="middle" fill="#222" style="stroke:#222;stroke-width:0.22;">2</text><rect x="456.41" y="401.05" width="4.20" height="15.46" fill="url(#pb)" stroke="#2222e0" stroke-width="0.9"/><circle clip-path="url(#c139639653590720)" cx="458.11" cy="402.45" r="2.0" fill="#1515e8"/><circle clip-path="url(#c139639653590720)" cx="458.91" cy="401.05" r="2.0" fill="#1515e8"/><circle clip-path="url(#c139639653590720)" cx="458.51" cy="396.83" r="2.0" fill="#1515e8"/><rect x="461.61" y="346.25" width="4.20" height="70.25" fill="url(#pm)" stroke="#b01fd6" stroke-width="0.9"/><circle clip-path="url(#c139639653590720)" cx="463.31" cy="350.46" r="2.0" fill="#b51bd8"/><circle clip-path="url(#c139639653590720)" cx="464.11" cy="346.25" r="2.0" fill="#b51bd8"/><circle clip-path="url(#c139639653590720)" cx="463.71" cy="342.03" r="2.0" fill="#b51bd8"/><polyline points="458.51,392.53 458.51,336.73 463.71,336.73 463.71,337.73" fill="none" stroke="#262626" stroke-width="0.85"/><path d="M453.01,330.53L453.01,334.53M451.28,331.53L454.74,333.53M454.74,331.53L451.28,333.53M458.41,330.53L458.41,334.53M456.68,331.53L460.14,333.53M460.14,331.53L456.68,333.53M463.81,330.53L463.81,334.53M462.08,331.53L465.54,333.53M465.54,331.53L462.08,333.53M469.21,330.53L469.21,334.53M467.48,331.53L470.94,333.53M470.94,331.53L467.48,333.53" stroke="#111" stroke-width="1.1" stroke-linecap="round" fill="none"/><line x1="475.68" y1="416.50" x2="475.68" y2="419.70" stroke="#222" stroke-width="0.7"/><text transform="translate(475.68,428.00) scale(0.97,1)" font-size="9.5" text-anchor="middle" fill="#222" style="stroke:#222;stroke-width:0.22;">4</text><rect x="470.98" y="415.80" width="4.20" height="0.70" fill="url(#pb)" stroke="#2222e0" stroke-width="0.9"/><circle clip-path="url(#c139639653590720)" cx="472.68" cy="415.80" r="2.0" fill="#1515e8"/><circle clip-path="url(#c139639653590720)" cx="473.48" cy="415.80" r="2.0" fill="#1515e8"/><circle clip-path="url(#c139639653590720)" cx="473.08" cy="415.80" r="2.0" fill="#1515e8"/><rect x="476.18" y="405.96" width="4.20" height="10.54" fill="url(#pm)" stroke="#b01fd6" stroke-width="0.9"/><circle clip-path="url(#c139639653590720)" cx="477.88" cy="406.67" r="2.0" fill="#b51bd8"/><circle clip-path="url(#c139639653590720)" cx="478.68" cy="405.96" r="2.0" fill="#b51bd8"/><circle clip-path="url(#c139639653590720)" cx="478.28" cy="405.26" r="2.0" fill="#b51bd8"/><polyline points="473.08,411.50 473.08,399.96 478.28,399.96 478.28,400.96" fill="none" stroke="#262626" stroke-width="0.85"/><path d="M467.58,393.76L467.58,397.76M465.85,394.76L469.31,396.76M469.31,394.76L465.85,396.76M472.98,393.76L472.98,397.76M471.25,394.76L474.71,396.76M474.71,394.76L471.25,396.76M478.38,393.76L478.38,397.76M476.65,394.76L480.11,396.76M480.11,394.76L476.65,396.76M483.78,393.76L483.78,397.76M482.05,394.76L485.51,396.76M485.51,394.76L482.05,396.76" stroke="#111" stroke-width="1.1" stroke-linecap="round" fill="none"/><line x1="490.25" y1="416.50" x2="490.25" y2="419.70" stroke="#222" stroke-width="0.7"/><text transform="translate(490.25,428.00) scale(0.97,1)" font-size="9.5" text-anchor="middle" fill="#222" style="stroke:#222;stroke-width:0.22;">6</text><circle clip-path="url(#c139639653590720)" cx="487.25" cy="416.36" r="2.0" fill="#1515e8"/><circle clip-path="url(#c139639653590720)" cx="488.05" cy="416.36" r="2.0" fill="#1515e8"/><circle clip-path="url(#c139639653590720)" cx="487.65" cy="416.36" r="2.0" fill="#1515e8"/><rect x="490.75" y="414.39" width="4.20" height="2.11" fill="url(#pm)" stroke="#b01fd6" stroke-width="0.9"/><circle clip-path="url(#c139639653590720)" cx="492.45" cy="414.39" r="2.0" fill="#b51bd8"/><circle clip-path="url(#c139639653590720)" cx="493.25" cy="414.39" r="2.0" fill="#b51bd8"/><circle clip-path="url(#c139639653590720)" cx="492.85" cy="414.39" r="2.0" fill="#b51bd8"/><polyline points="487.65,412.06 487.65,409.09 492.85,409.09 492.85,410.09" fill="none" stroke="#262626" stroke-width="0.85"/><text transform="translate(490.25,406.39) scale(0.9,1)" font-size="7.1" text-anchor="middle" fill="#222" style="stroke:#222;stroke-width:0.22;">ns</text><line x1="504.82" y1="416.50" x2="504.82" y2="419.70" stroke="#222" stroke-width="0.7"/><text transform="translate(504.82,428.00) scale(0.97,1)" font-size="9.5" text-anchor="middle" fill="#222" style="stroke:#222;stroke-width:0.22;">18</text><circle clip-path="url(#c139639653590720)" cx="501.82" cy="416.36" r="2.0" fill="#1515e8"/><circle clip-path="url(#c139639653590720)" cx="502.62" cy="416.36" r="2.0" fill="#1515e8"/><circle clip-path="url(#c139639653590720)" cx="502.22" cy="416.36" r="2.0" fill="#1515e8"/><rect x="505.32" y="416.08" width="4.20" height="0.42" fill="url(#pm)" stroke="#b01fd6" stroke-width="0.9"/><circle clip-path="url(#c139639653590720)" cx="507.02" cy="416.08" r="2.0" fill="#b51bd8"/><circle clip-path="url(#c139639653590720)" cx="507.82" cy="416.08" r="2.0" fill="#b51bd8"/><circle clip-path="url(#c139639653590720)" cx="507.42" cy="416.08" r="2.0" fill="#b51bd8"/><polyline points="502.22,412.06 502.22,410.78 507.42,410.78 507.42,411.78" fill="none" stroke="#262626" stroke-width="0.85"/><text transform="translate(504.82,408.08) scale(0.9,1)" font-size="7.1" text-anchor="middle" fill="#222" style="stroke:#222;stroke-width:0.22;">ns</text><line x1="408.00" y1="416.50" x2="511.80" y2="416.50" stroke="#222" stroke-width="0.8"/><line x1="411.20" y1="331.80" x2="411.20" y2="416.90" stroke="#222" stroke-width="0.8"/><text transform="translate(461.00,436.00)" font-size="9.5" text-anchor="middle" fill="#222" style="stroke:#222;stroke-width:0.22;" textLength="42.00" lengthAdjust="spacingAndGlyphs">cGAMP (h)</text><text transform="translate(367.36,374.70) rotate(-90)" font-size="7.4" text-anchor="middle" fill="#222" style="stroke:#222;stroke-width:0.12;font-style:italic;" textLength="26.60" lengthAdjust="spacingAndGlyphs">IFN-β</text><text transform="translate(377.29,374.00) rotate(-90)" font-size="8.4" text-anchor="middle" fill="#222" style="stroke:#222;stroke-width:0.12;" textLength="66.00" lengthAdjust="spacingAndGlyphs">(Fold change)</text><circle cx="418.00" cy="390.50" r="2.2" fill="#1515e8"/><text transform="translate(420.30,386.00) rotate(-90)" font-size="7" text-anchor="start" fill="#222" style="stroke:#222;stroke-width:0.22;" textLength="32.30" lengthAdjust="spacingAndGlyphs">LysM-Cre</text><circle cx="427.00" cy="390.50" r="2.2" fill="#b51bd8"/><text transform="translate(429.30,386.00) rotate(-90)" font-size="7" text-anchor="start" fill="#222" style="stroke:#222;stroke-width:0.22;" textLength="51.30" lengthAdjust="spacingAndGlyphs">LysM-Cre-TAX1BP1</text><text transform="translate(527.00,309.00)" font-size="11" text-anchor="start" fill="#222" style="stroke:#222;stroke-width:0.22;">L)</text><line x1="581.20" y1="330.20" x2="581.20" y2="416.40" stroke="#222" stroke-width="0.8"/><line x1="578.00" y1="416.00" x2="581.20" y2="416.00" stroke="#222" stroke-width="0.7"/><text transform="translate(575.40,419.11)" font-size="8.7" text-anchor="end" fill="#222" style="stroke:#222;stroke-width:0.22;">0</text><line x1="578.00" y1="398.92" x2="581.20" y2="398.92" stroke="#222" stroke-width="0.7"/><text transform="translate(575.40,402.03)" font-size="8.7" text-anchor="end" fill="#222" style="stroke:#222;stroke-width:0.22;">5000</text><line x1="578.00" y1="381.84" x2="581.20" y2="381.84" stroke="#222" stroke-width="0.7"/><text transform="translate(575.40,384.95)" font-size="8.7" text-anchor="end" fill="#222" style="stroke:#222;stroke-width:0.22;">10000</text><line x1="578.00" y1="364.76" x2="581.20" y2="364.76" stroke="#222" stroke-width="0.7"/><text transform="translate(575.40,367.87)" font-size="8.7" text-anchor="end" fill="#222" style="stroke:#222;stroke-width:0.22;">15000</text><line x1="578.00" y1="347.68" x2="581.20" y2="347.68" stroke="#222" stroke-width="0.7"/><text transform="translate(575.40,350.79)" font-size="8.7" text-anchor="end" fill="#222" style="stroke:#222;stroke-width:0.22;">20000</text><line x1="578.00" y1="330.60" x2="581.20" y2="330.60" stroke="#222" stroke-width="0.7"/><text transform="translate(575.40,333.71)" font-size="8.7" text-anchor="end" fill="#222" style="stroke:#222;stroke-width:0.22;">25000</text><clipPath id="c139639653589824"><rect x="0" y="0" width="685" height="416.00"/></clipPath><line x1="587.20" y1="416.00" x2="587.20" y2="419.20" stroke="#222" stroke-width="0.7"/><text transform="translate(587.20,428.10) scale(0.97,1)" font-size="9.5" text-anchor="middle" fill="#222" style="stroke:#222;stroke-width:0.22;">0</text><rect x="582.50" y="415.32" width="4.20" height="0.68" fill="url(#pb)" stroke="#2222e0" stroke-width="0.9"/><circle cx="584.20" cy="415.36" r="2.0" fill="#1515e8"/><circle cx="585.00" cy="415.32" r="2.0" fill="#1515e8"/><circle cx="584.60" cy="415.27" r="2.0" fill="#1515e8"/><rect x="587.70" y="415.32" width="4.20" height="0.68" fill="url(#pm)" stroke="#b01fd6" stroke-width="0.9"/><circle cx="589.40" cy="415.36" r="2.0" fill="#b51bd8"/><circle cx="590.20" cy="415.32" r="2.0" fill="#b51bd8"/><circle cx="589.80" cy="415.27" r="2.0" fill="#b51bd8"/><polyline points="584.60,413.40 584.60,412.60 589.80,412.60 589.80,413.40" fill="none" stroke="#262626" stroke-width="0.85"/><text transform="translate(587.20,409.90) scale(0.9,1)" font-size="5.6" text-anchor="middle" fill="#222" style="stroke:#222;stroke-width:0.22;">ns</text><line x1="602.08" y1="416.00" x2="602.08" y2="419.20" stroke="#222" stroke-width="0.7"/><text transform="translate(602.08,428.10) scale(0.97,1)" font-size="9.5" text-anchor="middle" fill="#222" style="stroke:#222;stroke-width:0.22;">0.5</text><rect x="597.38" y="414.98" width="4.20" height="1.02" fill="url(#pb)" stroke="#2222e0" stroke-width="0.9"/><circle cx="599.08" cy="415.05" r="2.0" fill="#1515e8"/><circle cx="599.88" cy="414.98" r="2.0" fill="#1515e8"/><circle cx="599.48" cy="414.90" r="2.0" fill="#1515e8"/><rect x="602.58" y="414.63" width="4.20" height="1.37" fill="url(#pm)" stroke="#b01fd6" stroke-width="0.9"/><circle cx="604.28" cy="414.73" r="2.0" fill="#b51bd8"/><circle cx="605.08" cy="414.63" r="2.0" fill="#b51bd8"/><circle cx="604.68" cy="414.54" r="2.0" fill="#b51bd8"/><polyline points="599.48,413.80 599.48,413.00 604.68,413.00 604.68,413.80" fill="none" stroke="#262626" stroke-width="0.85"/><text transform="translate(602.08,410.30) scale(0.9,1)" font-size="7.1" text-anchor="middle" fill="#222" style="stroke:#222;stroke-width:0.22;">ns</text><line x1="616.96" y1="416.00" x2="616.96" y2="419.20" stroke="#222" stroke-width="0.7"/><text transform="translate(616.96,428.10) scale(0.97,1)" font-size="9.5" text-anchor="middle" fill="#222" style="stroke:#222;stroke-width:0.22;">1</text><rect x="612.26" y="411.90" width="4.20" height="4.10" fill="url(#pb)" stroke="#2222e0" stroke-width="0.9"/><circle cx="613.96" cy="412.19" r="2.0" fill="#1515e8"/><circle cx="614.76" cy="411.90" r="2.0" fill="#1515e8"/><circle cx="614.36" cy="411.61" r="2.0" fill="#1515e8"/><rect x="617.46" y="410.88" width="4.20" height="5.12" fill="url(#pm)" stroke="#b01fd6" stroke-width="0.9"/><circle cx="619.16" cy="411.23" r="2.0" fill="#b51bd8"/><circle cx="619.96" cy="410.88" r="2.0" fill="#b51bd8"/><circle cx="619.56" cy="410.52" r="2.0" fill="#b51bd8"/><polyline points="614.36,408.30 614.36,407.50 619.56,407.50 619.56,408.30" fill="none" stroke="#262626" stroke-width="0.85"/><text transform="translate(616.96,404.80) scale(0.9,1)" font-size="7.1" text-anchor="middle" fill="#222" style="stroke:#222;stroke-width:0.22;">ns</text><line x1="631.84" y1="416.00" x2="631.84" y2="419.20" stroke="#222" stroke-width="0.7"/><text transform="translate(631.84,428.10) scale(0.97,1)" font-size="9.5" text-anchor="middle" fill="#222" style="stroke:#222;stroke-width:0.22;">2</text><rect x="627.14" y="381.84" width="4.20" height="34.16" fill="url(#pb)" stroke="#2222e0" stroke-width="0.9"/><circle cx="628.84" cy="386.96" r="2.0" fill="#1515e8"/><circle cx="629.64" cy="381.84" r="2.0" fill="#1515e8"/><circle cx="629.24" cy="378.42" r="2.0" fill="#1515e8"/><rect x="632.34" y="359.64" width="4.20" height="56.36" fill="url(#pm)" stroke="#b01fd6" stroke-width="0.9"/><line x1="634.44" y1="351.10" x2="634.44" y2="368.18" stroke="#b01fd6" stroke-width="0.8"/><line x1="633.24" y1="351.10" x2="635.64" y2="351.10" stroke="#b01fd6" stroke-width="0.8"/><circle cx="634.04" cy="368.18" r="2.0" fill="#b51bd8"/><circle cx="634.84" cy="356.22" r="2.0" fill="#b51bd8"/><circle cx="634.44" cy="351.10" r="2.0" fill="#b51bd8"/><polyline points="629.24,374.12 629.24,343.40 634.44,343.40 634.44,346.80" fill="none" stroke="#262626" stroke-width="0.85"/><path d="M623.44,337.30L623.44,341.10M621.79,338.25L625.09,340.15M625.09,338.25L621.79,340.15M629.04,337.30L629.04,341.10M627.39,338.25L630.69,340.15M630.69,338.25L627.39,340.15M634.64,337.30L634.64,341.10M632.99,338.25L636.29,340.15M636.29,338.25L632.99,340.15M640.24,337.30L640.24,341.10M638.59,338.25L641.89,340.15M641.89,338.25L638.59,340.15" stroke="#111" stroke-width="1.1" stroke-linecap="round" fill="none"/><line x1="646.72" y1="416.00" x2="646.72" y2="419.20" stroke="#222" stroke-width="0.7"/><text transform="translate(646.72,428.10) scale(0.97,1)" font-size="9.5" text-anchor="middle" fill="#222" style="stroke:#222;stroke-width:0.22;">4</text><rect x="642.02" y="402.34" width="4.20" height="13.66" fill="url(#pb)" stroke="#2222e0" stroke-width="0.9"/><circle cx="643.72" cy="405.75" r="2.0" fill="#1515e8"/><circle cx="644.52" cy="402.34" r="2.0" fill="#1515e8"/><circle cx="644.12" cy="398.92" r="2.0" fill="#1515e8"/><rect x="647.22" y="385.26" width="4.20" height="30.74" fill="url(#pm)" stroke="#b01fd6" stroke-width="0.9"/><line x1="649.32" y1="375.69" x2="649.32" y2="394.82" stroke="#b01fd6" stroke-width="0.8"/><line x1="648.12" y1="375.69" x2="650.52" y2="375.69" stroke="#b01fd6" stroke-width="0.8"/><circle cx="648.92" cy="392.09" r="2.0" fill="#b51bd8"/><circle cx="649.72" cy="385.26" r="2.0" fill="#b51bd8"/><circle cx="649.32" cy="376.72" r="2.0" fill="#b51bd8"/><polyline points="644.12,394.62 644.12,367.70 649.32,367.70 649.32,371.39" fill="none" stroke="#262626" stroke-width="0.85"/><path d="M638.32,361.60L638.32,365.40M636.67,362.55L639.97,364.45M639.97,362.55L636.67,364.45M643.92,361.60L643.92,365.40M642.27,362.55L645.57,364.45M645.57,362.55L642.27,364.45M649.52,361.60L649.52,365.40M647.87,362.55L651.17,364.45M651.17,362.55L647.87,364.45M655.12,361.60L655.12,365.40M653.47,362.55L656.77,364.45M656.77,362.55L653.47,364.45" stroke="#111" stroke-width="1.1" stroke-linecap="round" fill="none"/><line x1="661.60" y1="416.00" x2="661.60" y2="419.20" stroke="#222" stroke-width="0.7"/><text transform="translate(661.60,428.10) scale(0.97,1)" font-size="9.5" text-anchor="middle" fill="#222" style="stroke:#222;stroke-width:0.22;">6</text><rect x="656.90" y="403.02" width="4.20" height="12.98" fill="url(#pb)" stroke="#2222e0" stroke-width="0.9"/><circle cx="658.60" cy="405.75" r="2.0" fill="#1515e8"/><circle cx="659.40" cy="403.02" r="2.0" fill="#1515e8"/><circle cx="659.00" cy="399.60" r="2.0" fill="#1515e8"/><rect x="662.10" y="390.38" width="4.20" height="25.62" fill="url(#pm)" stroke="#b01fd6" stroke-width="0.9"/><line x1="664.20" y1="386.96" x2="664.20" y2="393.80" stroke="#b01fd6" stroke-width="0.8"/><line x1="663.00" y1="386.96" x2="665.40" y2="386.96" stroke="#b01fd6" stroke-width="0.8"/><circle cx="663.80" cy="392.09" r="2.0" fill="#b51bd8"/><circle cx="664.60" cy="390.38" r="2.0" fill="#b51bd8"/><circle cx="664.20" cy="385.94" r="2.0" fill="#b51bd8"/><polyline points="659.00,395.30 659.00,377.50 664.20,377.50 664.20,381.64" fill="none" stroke="#262626" stroke-width="0.85"/><path d="M658.80,371.40L658.80,375.20M657.15,372.35L660.45,374.25M660.45,372.35L657.15,374.25M664.40,371.40L664.40,375.20M662.75,372.35L666.05,374.25M666.05,372.35L662.75,374.25" stroke="#111" stroke-width="1.1" stroke-linecap="round" fill="none"/><line x1="676.48" y1="416.00" x2="676.48" y2="419.20" stroke="#222" stroke-width="0.7"/><text transform="translate(676.48,428.10) scale(0.97,1)" font-size="9.5" text-anchor="middle" fill="#222" style="stroke:#222;stroke-width:0.22;">18</text><rect x="671.78" y="414.98" width="4.20" height="1.02" fill="url(#pb)" stroke="#2222e0" stroke-width="0.9"/><circle cx="673.48" cy="415.05" r="2.0" fill="#1515e8"/><circle cx="674.28" cy="414.98" r="2.0" fill="#1515e8"/><circle cx="673.88" cy="414.90" r="2.0" fill="#1515e8"/><rect x="676.98" y="414.98" width="4.20" height="1.02" fill="url(#pm)" stroke="#b01fd6" stroke-width="0.9"/><circle cx="678.68" cy="415.05" r="2.0" fill="#b51bd8"/><circle cx="679.48" cy="414.98" r="2.0" fill="#b51bd8"/><circle cx="679.08" cy="414.90" r="2.0" fill="#b51bd8"/><polyline points="673.88,413.10 673.88,412.30 679.08,412.30 679.08,413.10" fill="none" stroke="#262626" stroke-width="0.85"/><text transform="translate(676.48,409.60) scale(0.9,1)" font-size="7.1" text-anchor="middle" fill="#222" style="stroke:#222;stroke-width:0.22;">ns</text><line x1="578.00" y1="416.00" x2="683.00" y2="416.00" stroke="#222" stroke-width="0.8" stroke-dasharray="1.6 0.7"/><line x1="581.20" y1="330.20" x2="581.20" y2="416.40" stroke="#222" stroke-width="0.8"/><text transform="translate(631.70,437.00)" font-size="9.5" text-anchor="middle" fill="#222" style="stroke:#222;stroke-width:0.22;" textLength="42.80" lengthAdjust="spacingAndGlyphs">cGAMP (h)</text><text transform="translate(536.82,371.00) rotate(-90)" font-size="7.2" text-anchor="middle" fill="#222" style="stroke:#222;stroke-width:0.12;font-style:italic;" textLength="13.90" lengthAdjust="spacingAndGlyphs">IL-6</text><text transform="translate(546.72,372.90) rotate(-90)" font-size="7.2" text-anchor="middle" fill="#222" style="stroke:#222;stroke-width:0.12;" textLength="52.60" lengthAdjust="spacingAndGlyphs">(Fold change)</text><circle cx="587.80" cy="390.50" r="2.2" fill="#1515e8"/><text transform="translate(589.80,386.70) rotate(-90)" font-size="7" text-anchor="start" fill="#222" style="stroke:#222;stroke-width:0.22;" textLength="32.30" lengthAdjust="spacingAndGlyphs">LysM-Cre</text><circle cx="596.90" cy="390.50" r="2.2" fill="#b51bd8"/><text transform="translate(598.90,386.70) rotate(-90)" font-size="7" text-anchor="start" fill="#222" style="stroke:#222;stroke-width:0.22;" textLength="52.00" lengthAdjust="spacingAndGlyphs">LysM-Cre-TAX1BP1</text><text transform="translate(90.00,468.00)" font-size="11" text-anchor="start" fill="#222" style="stroke:#222;stroke-width:0.22;">M)</text><text transform="translate(226.20,481.50)" font-size="8.2" text-anchor="middle" fill="#222" style="font-weight:bold;" textLength="116.50" lengthAdjust="spacingAndGlyphs">Incucyte S3 Live cell imaging</text><rect x="144.5" y="484.6" width="169.39999999999998" height="131.69999999999993" fill="none" stroke="#d4d4d4" stroke-width="0.8"/><line x1="142.50" y1="616.24" x2="144.50" y2="616.24" stroke="#bbb" stroke-width="0.6"/><text transform="translate(141.50,619.34)" font-size="8.8" text-anchor="end" fill="#333" style="stroke:#333;stroke-width:0.22;">-2000</text><line x1="142.50" y1="605.60" x2="144.50" y2="605.60" stroke="#bbb" stroke-width="0.6"/><text transform="translate(141.50,608.70)" font-size="8.8" text-anchor="end" fill="#333" style="stroke:#333;stroke-width:0.22;">0</text><line x1="142.50" y1="594.96" x2="144.50" y2="594.96" stroke="#bbb" stroke-width="0.6"/><text transform="translate(141.50,598.06)" font-size="8.8" text-anchor="end" fill="#333" style="stroke:#333;stroke-width:0.22;">2000</text><line x1="142.50" y1="584.33" x2="144.50" y2="584.33" stroke="#bbb" stroke-width="0.6"/><text transform="translate(141.50,587.43)" font-size="8.8" text-anchor="end" fill="#333" style="stroke:#333;stroke-width:0.22;">4000</text><line x1="142.50" y1="573.69" x2="144.50" y2="573.69" stroke="#bbb" stroke-width="0.6"/><text transform="translate(141.50,576.79)" font-size="8.8" text-anchor="end" fill="#333" style="stroke:#333;stroke-width:0.22;">6000</text><line x1="142.50" y1="563.05" x2="144.50" y2="563.05" stroke="#bbb" stroke-width="0.6"/><text transform="translate(141.50,566.15)" font-size="8.8" text-anchor="end" fill="#333" style="stroke:#333;stroke-width:0.22;">8000</text><line x1="142.50" y1="552.42" x2="144.50" y2="552.42" stroke="#bbb" stroke-width="0.6"/><text transform="translate(141.50,555.52)" font-size="8.8" text-anchor="end" fill="#333" style="stroke:#333;stroke-width:0.22;">10000</text><line x1="142.50" y1="541.78" x2="144.50" y2="541.78" stroke="#bbb" stroke-width="0.6"/><text transform="translate(141.50,544.88)" font-size="8.8" text-anchor="end" fill="#333" style="stroke:#333;stroke-width:0.22;">12000</text><line x1="142.50" y1="531.15" x2="144.50" y2="531.15" stroke="#bbb" stroke-width="0.6"/><text transform="translate(141.50,534.25)" font-size="8.8" text-anchor="end" fill="#333" style="stroke:#333;stroke-width:0.22;">14000</text><line x1="142.50" y1="520.51" x2="144.50" y2="520.51" stroke="#bbb" stroke-width="0.6"/><text transform="translate(141.50,523.61)" font-size="8.8" text-anchor="end" fill="#333" style="stroke:#333;stroke-width:0.22;">16000</text><line x1="142.50" y1="509.87" x2="144.50" y2="509.87" stroke="#bbb" stroke-width="0.6"/><text transform="translate(141.50,512.97)" font-size="8.8" text-anchor="end" fill="#333" style="stroke:#333;stroke-width:0.22;">18000</text><line x1="142.50" y1="499.24" x2="144.50" y2="499.24" stroke="#bbb" stroke-width="0.6"/><text transform="translate(141.50,502.34)" font-size="8.8" text-anchor="end" fill="#333" style="stroke:#333;stroke-width:0.22;">20000</text><line x1="142.50" y1="488.60" x2="144.50" y2="488.60" stroke="#bbb" stroke-width="0.6"/><text transform="translate(141.50,491.70)" font-size="8.8" text-anchor="end" fill="#333" style="stroke:#333;stroke-width:0.22;">22000</text><line x1="154.50" y1="616.30" x2="154.50" y2="618.30" stroke="#bbb" stroke-width="0.6"/><text transform="translate(154.50,626.50)" font-size="8.4" text-anchor="middle" fill="#333" style="stroke:#333;stroke-width:0.22;">0</text><line x1="180.26" y1="616.30" x2="180.26" y2="618.30" stroke="#bbb" stroke-width="0.6"/><text transform="translate(180.26,626.50)" font-size="8.4" text-anchor="middle" fill="#333" style="stroke:#333;stroke-width:0.22;">4</text><line x1="206.02" y1="616.30" x2="206.02" y2="618.30" stroke="#bbb" stroke-width="0.6"/><text transform="translate(206.02,626.50)" font-size="8.4" text-anchor="middle" fill="#333" style="stroke:#333;stroke-width:0.22;">8</text><line x1="231.78" y1="616.30" x2="231.78" y2="618.30" stroke="#bbb" stroke-width="0.6"/><text transform="translate(231.78,626.50)" font-size="8.4" text-anchor="middle" fill="#333" style="stroke:#333;stroke-width:0.22;">12</text><line x1="257.54" y1="616.30" x2="257.54" y2="618.30" stroke="#bbb" stroke-width="0.6"/><text transform="translate(257.54,626.50)" font-size="8.4" text-anchor="middle" fill="#333" style="stroke:#333;stroke-width:0.22;">16</text><line x1="283.30" y1="616.30" x2="283.30" y2="618.30" stroke="#bbb" stroke-width="0.6"/><text transform="translate(283.30,626.50)" font-size="8.4" text-anchor="middle" fill="#333" style="stroke:#333;stroke-width:0.22;">20</text><line x1="309.06" y1="616.30" x2="309.06" y2="618.30" stroke="#bbb" stroke-width="0.6"/><text transform="translate(309.06,626.50)" font-size="8.4" text-anchor="middle" fill="#333" style="stroke:#333;stroke-width:0.22;">24</text><line x1="154.50" y1="616.30" x2="154.50" y2="617.30" stroke="#ccc" stroke-width="0.5"/><line x1="160.94" y1="616.30" x2="160.94" y2="617.30" stroke="#ccc" stroke-width="0.5"/><line x1="167.38" y1="616.30" x2="167.38" y2="617.30" stroke="#ccc" stroke-width="0.5"/><line x1="173.82" y1="616.30" x2="173.82" y2="617.30" stroke="#ccc" stroke-width="0.5"/><line x1="180.26" y1="616.30" x2="180.26" y2="617.30" stroke="#ccc" stroke-width="0.5"/><line x1="186.70" y1="616.30" x2="186.70" y2="617.30" stroke="#ccc" stroke-width="0.5"/><line x1="193.14" y1="616.30" x2="193.14" y2="617.30" stroke="#ccc" stroke-width="0.5"/><line x1="199.58" y1="616.30" x2="199.58" y2="617.30" stroke="#ccc" stroke-width="0.5"/><line x1="206.02" y1="616.30" x2="206.02" y2="617.30" stroke="#ccc" stroke-width="0.5"/><line x1="212.46" y1="616.30" x2="212.46" y2="617.30" stroke="#ccc" stroke-width="0.5"/><line x1="218.90" y1="616.30" x2="218.90" y2="617.30" stroke="#ccc" stroke-width="0.5"/><line x1="225.34" y1="616.30" x2="225.34" y2="617.30" stroke="#ccc" stroke-width="0.5"/><line x1="231.78" y1="616.30" x2="231.78" y2="617.30" stroke="#ccc" stroke-width="0.5"/><line x1="238.22" y1="616.30" x2="238.22" y2="617.30" stroke="#ccc" stroke-width="0.5"/><line x1="244.66" y1="616.30" x2="244.66" y2="617.30" stroke="#ccc" stroke-width="0.5"/><line x1="251.10" y1="616.30" x2="251.10" y2="617.30" stroke="#ccc" stroke-width="0.5"/><line x1="257.54" y1="616.30" x2="257.54" y2="617.30" stroke="#ccc" stroke-width="0.5"/><line x1="263.98" y1="616.30" x2="263.98" y2="617.30" stroke="#ccc" stroke-width="0.5"/><line x1="270.42" y1="616.30" x2="270.42" y2="617.30" stroke="#ccc" stroke-width="0.5"/><line x1="276.86" y1="616.30" x2="276.86" y2="617.30" stroke="#ccc" stroke-width="0.5"/><line x1="283.30" y1="616.30" x2="283.30" y2="617.30" stroke="#ccc" stroke-width="0.5"/><line x1="289.74" y1="616.30" x2="289.74" y2="617.30" stroke="#ccc" stroke-width="0.5"/><line x1="296.18" y1="616.30" x2="296.18" y2="617.30" stroke="#ccc" stroke-width="0.5"/><line x1="302.62" y1="616.30" x2="302.62" y2="617.30" stroke="#ccc" stroke-width="0.5"/><line x1="309.06" y1="616.30" x2="309.06" y2="617.30" stroke="#ccc" stroke-width="0.5"/><text transform="translate(225.00,637.50)" font-size="8.2" text-anchor="middle" fill="#222" style="stroke:#222;stroke-width:0.22;" textLength="31.50" lengthAdjust="spacingAndGlyphs">Time (h)</text><text transform="translate(96.20,551.00) rotate(-90)" font-size="7.9" text-anchor="middle" fill="#222" style="font-weight:bold;" textLength="111.00" lengthAdjust="spacingAndGlyphs">Green object count per image/</text><text transform="translate(106.40,552.50) rotate(-90)" font-size="7.9" text-anchor="middle" fill="#222" style="font-weight:bold;" textLength="82.30" lengthAdjust="spacingAndGlyphs">phase area confluence</text><polyline points="154.50,595.50 160.98,597.62 167.46,601.35 173.94,602.94 180.42,603.74 186.90,603.47 193.38,602.94 199.86,604.27 206.34,605.07 212.82,605.33 219.30,605.60 225.78,605.60 232.26,605.60 238.74,605.60 245.22,605.60 251.70,605.60 258.18,605.60 264.66,605.60 271.14,605.60 277.62,605.60 284.10,605.60 290.58,605.60 297.06,605.60 303.54,605.60" fill="none" stroke="#f2c4c4" stroke-width="0.9"/><circle cx="154.50" cy="595.50" r="1.0" fill="#f2c4c4"/><circle cx="160.98" cy="597.62" r="1.0" fill="#f2c4c4"/><circle cx="167.46" cy="601.35" r="1.0" fill="#f2c4c4"/><circle cx="173.94" cy="602.94" r="1.0" fill="#f2c4c4"/><circle cx="180.42" cy="603.74" r="1.0" fill="#f2c4c4"/><circle cx="186.90" cy="603.47" r="1.0" fill="#f2c4c4"/><circle cx="193.38" cy="602.94" r="1.0" fill="#f2c4c4"/><circle cx="199.86" cy="604.27" r="1.0" fill="#f2c4c4"/><circle cx="206.34" cy="605.07" r="1.0" fill="#f2c4c4"/><circle cx="212.82" cy="605.33" r="1.0" fill="#f2c4c4"/><circle cx="219.30" cy="605.60" r="1.0" fill="#f2c4c4"/><circle cx="225.78" cy="605.60" r="1.0" fill="#f2c4c4"/><circle cx="232.26" cy="605.60" r="1.0" fill="#f2c4c4"/><circle cx="238.74" cy="605.60" r="1.0" fill="#f2c4c4"/><circle cx="245.22" cy="605.60" r="1.0" fill="#f2c4c4"/><circle cx="251.70" cy="605.60" r="1.0" fill="#f2c4c4"/><circle cx="258.18" cy="605.60" r="1.0" fill="#f2c4c4"/><circle cx="264.66" cy="605.60" r="1.0" fill="#f2c4c4"/><circle cx="271.14" cy="605.60" r="1.0" fill="#f2c4c4"/><circle cx="277.62" cy="605.60" r="1.0" fill="#f2c4c4"/><circle cx="284.10" cy="605.60" r="1.0" fill="#f2c4c4"/><circle cx="290.58" cy="605.60" r="1.0" fill="#f2c4c4"/><circle cx="297.06" cy="605.60" r="1.0" fill="#f2c4c4"/><circle cx="303.54" cy="605.60" r="1.0" fill="#f2c4c4"/><polyline points="154.50,595.23 160.98,597.62 167.46,601.61 173.94,603.21 180.42,603.74 186.90,603.21 193.38,602.14 199.86,603.74 206.34,604.80 212.82,605.07 219.30,605.28 225.78,605.28 232.26,605.28 238.74,605.28 245.22,605.28 251.70,605.28 258.18,605.28 264.66,605.28 271.14,605.28 277.62,605.28 284.10,605.28 290.58,605.28 297.06,605.28 303.54,605.28" fill="none" stroke="#b8ecec" stroke-width="0.9"/><circle cx="154.50" cy="595.23" r="1.1" fill="#b8ecec"/><circle cx="160.98" cy="597.62" r="1.1" fill="#b8ecec"/><circle cx="167.46" cy="601.61" r="1.1" fill="#b8ecec"/><circle cx="173.94" cy="603.21" r="1.1" fill="#b8ecec"/><circle cx="180.42" cy="603.74" r="1.1" fill="#b8ecec"/><circle cx="186.90" cy="603.21" r="1.1" fill="#b8ecec"/><circle cx="193.38" cy="602.14" r="1.1" fill="#b8ecec"/><circle cx="199.86" cy="603.74" r="1.1" fill="#b8ecec"/><circle cx="206.34" cy="604.80" r="1.1" fill="#b8ecec"/><circle cx="212.82" cy="605.07" r="1.1" fill="#b8ecec"/><circle cx="219.30" cy="605.28" r="1.1" fill="#b8ecec"/><circle cx="225.78" cy="605.28" r="1.1" fill="#b8ecec"/><circle cx="232.26" cy="605.28" r="1.1" fill="#b8ecec"/><circle cx="238.74" cy="605.28" r="1.1" fill="#b8ecec"/><circle cx="245.22" cy="605.28" r="1.1" fill="#b8ecec"/><circle cx="251.70" cy="605.28" r="1.1" fill="#b8ecec"/><circle cx="258.18" cy="605.28" r="1.1" fill="#b8ecec"/><circle cx="264.66" cy="605.28" r="1.1" fill="#b8ecec"/><circle cx="271.14" cy="605.28" r="1.1" fill="#b8ecec"/><circle cx="277.62" cy="605.28" r="1.1" fill="#b8ecec"/><circle cx="284.10" cy="605.28" r="1.1" fill="#b8ecec"/><circle cx="290.58" cy="605.28" r="1.1" fill="#b8ecec"/><circle cx="297.06" cy="605.28" r="1.1" fill="#b8ecec"/><circle cx="303.54" cy="605.28" r="1.1" fill="#b8ecec"/><polyline points="154.50,597.09 160.98,599.75 167.46,602.62 173.94,604.27 180.42,604.27 186.90,603.69 193.38,597.09 199.86,596.03 206.34,593.37 212.82,589.49 219.30,585.39 225.78,580.07 232.26,574.75 238.74,569.97 245.22,565.71 251.70,551.89 258.18,556.14 264.66,545.50 271.14,540.72 277.62,548.70 284.10,537.53 290.58,548.16 297.06,552.42 303.54,552.42" fill="none" stroke="#e8282b" stroke-width="0.9"/><line x1="154.50" y1="596.29" x2="154.50" y2="597.89" stroke="#e8282b" stroke-width="0.5" opacity="0.7"/><line x1="153.50" y1="596.29" x2="155.50" y2="596.29" stroke="#e8282b" stroke-width="0.5" opacity="0.7"/><line x1="153.50" y1="597.89" x2="155.50" y2="597.89" stroke="#e8282b" stroke-width="0.5" opacity="0.7"/><circle cx="154.50" cy="597.09" r="1.1" fill="#e8282b"/><line x1="160.98" y1="598.95" x2="160.98" y2="600.55" stroke="#e8282b" stroke-width="0.5" opacity="0.7"/><line x1="159.98" y1="598.95" x2="161.98" y2="598.95" stroke="#e8282b" stroke-width="0.5" opacity="0.7"/><line x1="159.98" y1="600.55" x2="161.98" y2="600.55" stroke="#e8282b" stroke-width="0.5" opacity="0.7"/><circle cx="160.98" cy="599.75" r="1.1" fill="#e8282b"/><line x1="167.46" y1="601.82" x2="167.46" y2="603.42" stroke="#e8282b" stroke-width="0.5" opacity="0.7"/><line x1="166.46" y1="601.82" x2="168.46" y2="601.82" stroke="#e8282b" stroke-width="0.5" opacity="0.7"/><line x1="166.46" y1="603.42" x2="168.46" y2="603.42" stroke="#e8282b" stroke-width="0.5" opacity="0.7"/><circle cx="167.46" cy="602.62" r="1.1" fill="#e8282b"/><line x1="173.94" y1="603.47" x2="173.94" y2="605.07" stroke="#e8282b" stroke-width="0.5" opacity="0.7"/><line x1="172.94" y1="603.47" x2="174.94" y2="603.47" stroke="#e8282b" stroke-width="0.5" opacity="0.7"/><line x1="172.94" y1="605.07" x2="174.94" y2="605.07" stroke="#e8282b" stroke-width="0.5" opacity="0.7"/><circle cx="173.94" cy="604.27" r="1.1" fill="#e8282b"/><line x1="180.42" y1="603.47" x2="180.42" y2="605.07" stroke="#e8282b" stroke-width="0.5" opacity="0.7"/><line x1="179.42" y1="603.47" x2="181.42" y2="603.47" stroke="#e8282b" stroke-width="0.5" opacity="0.7"/><line x1="179.42" y1="605.07" x2="181.42" y2="605.07" stroke="#e8282b" stroke-width="0.5" opacity="0.7"/><circle cx="180.42" cy="604.27" r="1.1" fill="#e8282b"/><line x1="186.90" y1="602.89" x2="186.90" y2="604.48" stroke="#e8282b" stroke-width="0.5" opacity="0.7"/><line x1="185.90" y1="602.89" x2="187.90" y2="602.89" stroke="#e8282b" stroke-width="0.5" opacity="0.7"/><line x1="185.90" y1="604.48" x2="187.90" y2="604.48" stroke="#e8282b" stroke-width="0.5" opacity="0.7"/><circle cx="186.90" cy="603.69" r="1.1" fill="#e8282b"/><line x1="193.38" y1="596.29" x2="193.38" y2="597.89" stroke="#e8282b" stroke-width="0.5" opacity="0.7"/><line x1="192.38" y1="596.29" x2="194.38" y2="596.29" stroke="#e8282b" stroke-width="0.5" opacity="0.7"/><line x1="192.38" y1="597.89" x2="194.38" y2="597.89" stroke="#e8282b" stroke-width="0.5" opacity="0.7"/><circle cx="193.38" cy="597.09" r="1.1" fill="#e8282b"/><line x1="199.86" y1="595.23" x2="199.86" y2="596.83" stroke="#e8282b" stroke-width="0.5" opacity="0.7"/><line x1="198.86" y1="595.23" x2="200.86" y2="595.23" stroke="#e8282b" stroke-width="0.5" opacity="0.7"/><line x1="198.86" y1="596.83" x2="200.86" y2="596.83" stroke="#e8282b" stroke-width="0.5" opacity="0.7"/><circle cx="199.86" cy="596.03" r="1.1" fill="#e8282b"/><line x1="206.34" y1="592.57" x2="206.34" y2="594.17" stroke="#e8282b" stroke-width="0.5" opacity="0.7"/><line x1="205.34" y1="592.57" x2="207.34" y2="592.57" stroke="#e8282b" stroke-width="0.5" opacity="0.7"/><line x1="205.34" y1="594.17" x2="207.34" y2="594.17" stroke="#e8282b" stroke-width="0.5" opacity="0.7"/><circle cx="206.34" cy="593.37" r="1.1" fill="#e8282b"/><line x1="212.82" y1="588.69" x2="212.82" y2="590.28" stroke="#e8282b" stroke-width="0.5" opacity="0.7"/><line x1="211.82" y1="588.69" x2="213.82" y2="588.69" stroke="#e8282b" stroke-width="0.5" opacity="0.7"/><line x1="211.82" y1="590.28" x2="213.82" y2="590.28" stroke="#e8282b" stroke-width="0.5" opacity="0.7"/><circle cx="212.82" cy="589.49" r="1.1" fill="#e8282b"/><line x1="219.30" y1="584.59" x2="219.30" y2="586.19" stroke="#e8282b" stroke-width="0.5" opacity="0.7"/><line x1="218.30" y1="584.59" x2="220.30" y2="584.59" stroke="#e8282b" stroke-width="0.5" opacity="0.7"/><line x1="218.30" y1="586.19" x2="220.30" y2="586.19" stroke="#e8282b" stroke-width="0.5" opacity="0.7"/><circle cx="219.30" cy="585.39" r="1.1" fill="#e8282b"/><line x1="225.78" y1="579.27" x2="225.78" y2="580.87" stroke="#e8282b" stroke-width="0.5" opacity="0.7"/><line x1="224.78" y1="579.27" x2="226.78" y2="579.27" stroke="#e8282b" stroke-width="0.5" opacity="0.7"/><line x1="224.78" y1="580.87" x2="226.78" y2="580.87" stroke="#e8282b" stroke-width="0.5" opacity="0.7"/><circle cx="225.78" cy="580.07" r="1.1" fill="#e8282b"/><line x1="232.26" y1="573.96" x2="232.26" y2="575.55" stroke="#e8282b" stroke-width="0.5" opacity="0.7"/><line x1="231.26" y1="573.96" x2="233.26" y2="573.96" stroke="#e8282b" stroke-width="0.5" opacity="0.7"/><line x1="231.26" y1="575.55" x2="233.26" y2="575.55" stroke="#e8282b" stroke-width="0.5" opacity="0.7"/><circle cx="232.26" cy="574.75" r="1.1" fill="#e8282b"/><line x1="238.74" y1="569.17" x2="238.74" y2="570.77" stroke="#e8282b" stroke-width="0.5" opacity="0.7"/><line x1="237.74" y1="569.17" x2="239.74" y2="569.17" stroke="#e8282b" stroke-width="0.5" opacity="0.7"/><line x1="237.74" y1="570.77" x2="239.74" y2="570.77" stroke="#e8282b" stroke-width="0.5" opacity="0.7"/><circle cx="238.74" cy="569.97" r="1.1" fill="#e8282b"/><line x1="245.22" y1="563.59" x2="245.22" y2="567.84" stroke="#e8282b" stroke-width="0.5" opacity="0.7"/><line x1="244.22" y1="563.59" x2="246.22" y2="563.59" stroke="#e8282b" stroke-width="0.5" opacity="0.7"/><line x1="244.22" y1="567.84" x2="246.22" y2="567.84" stroke="#e8282b" stroke-width="0.5" opacity="0.7"/><circle cx="245.22" cy="565.71" r="1.1" fill="#e8282b"/><line x1="251.70" y1="549.76" x2="251.70" y2="554.01" stroke="#e8282b" stroke-width="0.5" opacity="0.7"/><line x1="250.70" y1="549.76" x2="252.70" y2="549.76" stroke="#e8282b" stroke-width="0.5" opacity="0.7"/><line x1="250.70" y1="554.01" x2="252.70" y2="554.01" stroke="#e8282b" stroke-width="0.5" opacity="0.7"/><circle cx="251.70" cy="551.89" r="1.1" fill="#e8282b"/><line x1="258.18" y1="554.01" x2="258.18" y2="558.27" stroke="#e8282b" stroke-width="0.5" opacity="0.7"/><line x1="257.18" y1="554.01" x2="259.18" y2="554.01" stroke="#e8282b" stroke-width="0.5" opacity="0.7"/><line x1="257.18" y1="558.27" x2="259.18" y2="558.27" stroke="#e8282b" stroke-width="0.5" opacity="0.7"/><circle cx="258.18" cy="556.14" r="1.1" fill="#e8282b"/><line x1="264.66" y1="543.38" x2="264.66" y2="547.63" stroke="#e8282b" stroke-width="0.5" opacity="0.7"/><line x1="263.66" y1="543.38" x2="265.66" y2="543.38" stroke="#e8282b" stroke-width="0.5" opacity="0.7"/><line x1="263.66" y1="547.63" x2="265.66" y2="547.63" stroke="#e8282b" stroke-width="0.5" opacity="0.7"/><circle cx="264.66" cy="545.50" r="1.1" fill="#e8282b"/><line x1="271.14" y1="538.59" x2="271.14" y2="542.85" stroke="#e8282b" stroke-width="0.5" opacity="0.7"/><line x1="270.14" y1="538.59" x2="272.14" y2="538.59" stroke="#e8282b" stroke-width="0.5" opacity="0.7"/><line x1="270.14" y1="542.85" x2="272.14" y2="542.85" stroke="#e8282b" stroke-width="0.5" opacity="0.7"/><circle cx="271.14" cy="540.72" r="1.1" fill="#e8282b"/><line x1="277.62" y1="546.57" x2="277.62" y2="550.82" stroke="#e8282b" stroke-width="0.5" opacity="0.7"/><line x1="276.62" y1="546.57" x2="278.62" y2="546.57" stroke="#e8282b" stroke-width="0.5" opacity="0.7"/><line x1="276.62" y1="550.82" x2="278.62" y2="550.82" stroke="#e8282b" stroke-width="0.5" opacity="0.7"/><circle cx="277.62" cy="548.70" r="1.1" fill="#e8282b"/><line x1="284.10" y1="535.40" x2="284.10" y2="539.65" stroke="#e8282b" stroke-width="0.5" opacity="0.7"/><line x1="283.10" y1="535.40" x2="285.10" y2="535.40" stroke="#e8282b" stroke-width="0.5" opacity="0.7"/><line x1="283.10" y1="539.65" x2="285.10" y2="539.65" stroke="#e8282b" stroke-width="0.5" opacity="0.7"/><circle cx="284.10" cy="537.53" r="1.1" fill="#e8282b"/><line x1="290.58" y1="546.04" x2="290.58" y2="550.29" stroke="#e8282b" stroke-width="0.5" opacity="0.7"/><line x1="289.58" y1="546.04" x2="291.58" y2="546.04" stroke="#e8282b" stroke-width="0.5" opacity="0.7"/><line x1="289.58" y1="550.29" x2="291.58" y2="550.29" stroke="#e8282b" stroke-width="0.5" opacity="0.7"/><circle cx="290.58" cy="548.16" r="1.1" fill="#e8282b"/><line x1="297.06" y1="550.29" x2="297.06" y2="554.55" stroke="#e8282b" stroke-width="0.5" opacity="0.7"/><line x1="296.06" y1="550.29" x2="298.06" y2="550.29" stroke="#e8282b" stroke-width="0.5" opacity="0.7"/><line x1="296.06" y1="554.55" x2="298.06" y2="554.55" stroke="#e8282b" stroke-width="0.5" opacity="0.7"/><circle cx="297.06" cy="552.42" r="1.1" fill="#e8282b"/><line x1="303.54" y1="550.29" x2="303.54" y2="554.55" stroke="#e8282b" stroke-width="0.5" opacity="0.7"/><line x1="302.54" y1="550.29" x2="304.54" y2="550.29" stroke="#e8282b" stroke-width="0.5" opacity="0.7"/><line x1="302.54" y1="554.55" x2="304.54" y2="554.55" stroke="#e8282b" stroke-width="0.5" opacity="0.7"/><circle cx="303.54" cy="552.42" r="1.1" fill="#e8282b"/><polyline points="154.50,596.29 160.98,597.89 167.46,601.72 173.94,602.99 180.42,602.99 186.90,601.72 193.38,593.90 199.86,591.77 206.34,588.05 212.82,581.93 219.30,574.22 225.78,566.78 232.26,558.80 238.74,551.89 245.22,546.04 251.70,527.95 258.18,532.21 264.66,518.91 271.14,509.87 277.62,517.85 284.10,500.30 290.58,513.06 297.06,513.60 303.54,512.53" fill="none" stroke="#2a2ae0" stroke-width="0.9"/><line x1="154.50" y1="595.23" x2="154.50" y2="597.36" stroke="#2a2ae0" stroke-width="0.5" opacity="0.7"/><line x1="153.50" y1="595.23" x2="155.50" y2="595.23" stroke="#2a2ae0" stroke-width="0.5" opacity="0.7"/><line x1="153.50" y1="597.36" x2="155.50" y2="597.36" stroke="#2a2ae0" stroke-width="0.5" opacity="0.7"/><circle cx="154.50" cy="596.29" r="1.1" fill="#2a2ae0"/><line x1="160.98" y1="596.83" x2="160.98" y2="598.95" stroke="#2a2ae0" stroke-width="0.5" opacity="0.7"/><line x1="159.98" y1="596.83" x2="161.98" y2="596.83" stroke="#2a2ae0" stroke-width="0.5" opacity="0.7"/><line x1="159.98" y1="598.95" x2="161.98" y2="598.95" stroke="#2a2ae0" stroke-width="0.5" opacity="0.7"/><circle cx="160.98" cy="597.89" r="1.1" fill="#2a2ae0"/><line x1="167.46" y1="600.65" x2="167.46" y2="602.78" stroke="#2a2ae0" stroke-width="0.5" opacity="0.7"/><line x1="166.46" y1="600.65" x2="168.46" y2="600.65" stroke="#2a2ae0" stroke-width="0.5" opacity="0.7"/><line x1="166.46" y1="602.78" x2="168.46" y2="602.78" stroke="#2a2ae0" stroke-width="0.5" opacity="0.7"/><circle cx="167.46" cy="601.72" r="1.1" fill="#2a2ae0"/><line x1="173.94" y1="601.93" x2="173.94" y2="604.06" stroke="#2a2ae0" stroke-width="0.5" opacity="0.7"/><line x1="172.94" y1="601.93" x2="174.94" y2="601.93" stroke="#2a2ae0" stroke-width="0.5" opacity="0.7"/><line x1="172.94" y1="604.06" x2="174.94" y2="604.06" stroke="#2a2ae0" stroke-width="0.5" opacity="0.7"/><circle cx="173.94" cy="602.99" r="1.1" fill="#2a2ae0"/><line x1="180.42" y1="601.93" x2="180.42" y2="604.06" stroke="#2a2ae0" stroke-width="0.5" opacity="0.7"/><line x1="179.42" y1="601.93" x2="181.42" y2="601.93" stroke="#2a2ae0" stroke-width="0.5" opacity="0.7"/><line x1="179.42" y1="604.06" x2="181.42" y2="604.06" stroke="#2a2ae0" stroke-width="0.5" opacity="0.7"/><circle cx="180.42" cy="602.99" r="1.1" fill="#2a2ae0"/><line x1="186.90" y1="600.65" x2="186.90" y2="602.78" stroke="#2a2ae0" stroke-width="0.5" opacity="0.7"/><line x1="185.90" y1="600.65" x2="187.90" y2="600.65" stroke="#2a2ae0" stroke-width="0.5" opacity="0.7"/><line x1="185.90" y1="602.78" x2="187.90" y2="602.78" stroke="#2a2ae0" stroke-width="0.5" opacity="0.7"/><circle cx="186.90" cy="601.72" r="1.1" fill="#2a2ae0"/><line x1="193.38" y1="592.84" x2="193.38" y2="594.96" stroke="#2a2ae0" stroke-width="0.5" opacity="0.7"/><line x1="192.38" y1="592.84" x2="194.38" y2="592.84" stroke="#2a2ae0" stroke-width="0.5" opacity="0.7"/><line x1="192.38" y1="594.96" x2="194.38" y2="594.96" stroke="#2a2ae0" stroke-width="0.5" opacity="0.7"/><circle cx="193.38" cy="593.90" r="1.1" fill="#2a2ae0"/><line x1="199.86" y1="590.71" x2="199.86" y2="592.84" stroke="#2a2ae0" stroke-width="0.5" opacity="0.7"/><line x1="198.86" y1="590.71" x2="200.86" y2="590.71" stroke="#2a2ae0" stroke-width="0.5" opacity="0.7"/><line x1="198.86" y1="592.84" x2="200.86" y2="592.84" stroke="#2a2ae0" stroke-width="0.5" opacity="0.7"/><circle cx="199.86" cy="591.77" r="1.1" fill="#2a2ae0"/><line x1="206.34" y1="586.99" x2="206.34" y2="589.11" stroke="#2a2ae0" stroke-width="0.5" opacity="0.7"/><line x1="205.34" y1="586.99" x2="207.34" y2="586.99" stroke="#2a2ae0" stroke-width="0.5" opacity="0.7"/><line x1="205.34" y1="589.11" x2="207.34" y2="589.11" stroke="#2a2ae0" stroke-width="0.5" opacity="0.7"/><circle cx="206.34" cy="588.05" r="1.1" fill="#2a2ae0"/><line x1="212.82" y1="580.87" x2="212.82" y2="583.00" stroke="#2a2ae0" stroke-width="0.5" opacity="0.7"/><line x1="211.82" y1="580.87" x2="213.82" y2="580.87" stroke="#2a2ae0" stroke-width="0.5" opacity="0.7"/><line x1="211.82" y1="583.00" x2="213.82" y2="583.00" stroke="#2a2ae0" stroke-width="0.5" opacity="0.7"/><circle cx="212.82" cy="581.93" r="1.1" fill="#2a2ae0"/><line x1="219.30" y1="573.16" x2="219.30" y2="575.29" stroke="#2a2ae0" stroke-width="0.5" opacity="0.7"/><line x1="218.30" y1="573.16" x2="220.30" y2="573.16" stroke="#2a2ae0" stroke-width="0.5" opacity="0.7"/><line x1="218.30" y1="575.29" x2="220.30" y2="575.29" stroke="#2a2ae0" stroke-width="0.5" opacity="0.7"/><circle cx="219.30" cy="574.22" r="1.1" fill="#2a2ae0"/><line x1="225.78" y1="565.71" x2="225.78" y2="567.84" stroke="#2a2ae0" stroke-width="0.5" opacity="0.7"/><line x1="224.78" y1="565.71" x2="226.78" y2="565.71" stroke="#2a2ae0" stroke-width="0.5" opacity="0.7"/><line x1="224.78" y1="567.84" x2="226.78" y2="567.84" stroke="#2a2ae0" stroke-width="0.5" opacity="0.7"/><circle cx="225.78" cy="566.78" r="1.1" fill="#2a2ae0"/><line x1="232.26" y1="557.74" x2="232.26" y2="559.86" stroke="#2a2ae0" stroke-width="0.5" opacity="0.7"/><line x1="231.26" y1="557.74" x2="233.26" y2="557.74" stroke="#2a2ae0" stroke-width="0.5" opacity="0.7"/><line x1="231.26" y1="559.86" x2="233.26" y2="559.86" stroke="#2a2ae0" stroke-width="0.5" opacity="0.7"/><circle cx="232.26" cy="558.80" r="1.1" fill="#2a2ae0"/><line x1="238.74" y1="550.82" x2="238.74" y2="552.95" stroke="#2a2ae0" stroke-width="0.5" opacity="0.7"/><line x1="237.74" y1="550.82" x2="239.74" y2="550.82" stroke="#2a2ae0" stroke-width="0.5" opacity="0.7"/><line x1="237.74" y1="552.95" x2="239.74" y2="552.95" stroke="#2a2ae0" stroke-width="0.5" opacity="0.7"/><circle cx="238.74" cy="551.89" r="1.1" fill="#2a2ae0"/><line x1="245.22" y1="542.85" x2="245.22" y2="549.23" stroke="#2a2ae0" stroke-width="0.5" opacity="0.7"/><line x1="244.22" y1="542.85" x2="246.22" y2="542.85" stroke="#2a2ae0" stroke-width="0.5" opacity="0.7"/><line x1="244.22" y1="549.23" x2="246.22" y2="549.23" stroke="#2a2ae0" stroke-width="0.5" opacity="0.7"/><circle cx="245.22" cy="546.04" r="1.1" fill="#2a2ae0"/><line x1="251.70" y1="524.76" x2="251.70" y2="531.15" stroke="#2a2ae0" stroke-width="0.5" opacity="0.7"/><line x1="250.70" y1="524.76" x2="252.70" y2="524.76" stroke="#2a2ae0" stroke-width="0.5" opacity="0.7"/><line x1="250.70" y1="531.15" x2="252.70" y2="531.15" stroke="#2a2ae0" stroke-width="0.5" opacity="0.7"/><circle cx="251.70" cy="527.95" r="1.1" fill="#2a2ae0"/><line x1="258.18" y1="529.02" x2="258.18" y2="535.40" stroke="#2a2ae0" stroke-width="0.5" opacity="0.7"/><line x1="257.18" y1="529.02" x2="259.18" y2="529.02" stroke="#2a2ae0" stroke-width="0.5" opacity="0.7"/><line x1="257.18" y1="535.40" x2="259.18" y2="535.40" stroke="#2a2ae0" stroke-width="0.5" opacity="0.7"/><circle cx="258.18" cy="532.21" r="1.1" fill="#2a2ae0"/><line x1="264.66" y1="515.72" x2="264.66" y2="522.10" stroke="#2a2ae0" stroke-width="0.5" opacity="0.7"/><line x1="263.66" y1="515.72" x2="265.66" y2="515.72" stroke="#2a2ae0" stroke-width="0.5" opacity="0.7"/><line x1="263.66" y1="522.10" x2="265.66" y2="522.10" stroke="#2a2ae0" stroke-width="0.5" opacity="0.7"/><circle cx="264.66" cy="518.91" r="1.1" fill="#2a2ae0"/><line x1="271.14" y1="506.68" x2="271.14" y2="513.06" stroke="#2a2ae0" stroke-width="0.5" opacity="0.7"/><line x1="270.14" y1="506.68" x2="272.14" y2="506.68" stroke="#2a2ae0" stroke-width="0.5" opacity="0.7"/><line x1="270.14" y1="513.06" x2="272.14" y2="513.06" stroke="#2a2ae0" stroke-width="0.5" opacity="0.7"/><circle cx="271.14" cy="509.87" r="1.1" fill="#2a2ae0"/><line x1="277.62" y1="514.66" x2="277.62" y2="521.04" stroke="#2a2ae0" stroke-width="0.5" opacity="0.7"/><line x1="276.62" y1="514.66" x2="278.62" y2="514.66" stroke="#2a2ae0" stroke-width="0.5" opacity="0.7"/><line x1="276.62" y1="521.04" x2="278.62" y2="521.04" stroke="#2a2ae0" stroke-width="0.5" opacity="0.7"/><circle cx="277.62" cy="517.85" r="1.1" fill="#2a2ae0"/><line x1="284.10" y1="497.11" x2="284.10" y2="503.49" stroke="#2a2ae0" stroke-width="0.5" opacity="0.7"/><line x1="283.10" y1="497.11" x2="285.10" y2="497.11" stroke="#2a2ae0" stroke-width="0.5" opacity="0.7"/><line x1="283.10" y1="503.49" x2="285.10" y2="503.49" stroke="#2a2ae0" stroke-width="0.5" opacity="0.7"/><circle cx="284.10" cy="500.30" r="1.1" fill="#2a2ae0"/><line x1="290.58" y1="509.87" x2="290.58" y2="516.25" stroke="#2a2ae0" stroke-width="0.5" opacity="0.7"/><line x1="289.58" y1="509.87" x2="291.58" y2="509.87" stroke="#2a2ae0" stroke-width="0.5" opacity="0.7"/><line x1="289.58" y1="516.25" x2="291.58" y2="516.25" stroke="#2a2ae0" stroke-width="0.5" opacity="0.7"/><circle cx="290.58" cy="513.06" r="1.1" fill="#2a2ae0"/><line x1="297.06" y1="510.40" x2="297.06" y2="516.79" stroke="#2a2ae0" stroke-width="0.5" opacity="0.7"/><line x1="296.06" y1="510.40" x2="298.06" y2="510.40" stroke="#2a2ae0" stroke-width="0.5" opacity="0.7"/><line x1="296.06" y1="516.79" x2="298.06" y2="516.79" stroke="#2a2ae0" stroke-width="0.5" opacity="0.7"/><circle cx="297.06" cy="513.60" r="1.1" fill="#2a2ae0"/><line x1="303.54" y1="509.34" x2="303.54" y2="515.72" stroke="#2a2ae0" stroke-width="0.5" opacity="0.7"/><line x1="302.54" y1="509.34" x2="304.54" y2="509.34" stroke="#2a2ae0" stroke-width="0.5" opacity="0.7"/><line x1="302.54" y1="515.72" x2="304.54" y2="515.72" stroke="#2a2ae0" stroke-width="0.5" opacity="0.7"/><circle cx="303.54" cy="512.53" r="1.1" fill="#2a2ae0"/><text transform="translate(196.80,495.00)" font-size="8.4" text-anchor="start" fill="#3535e0" style="stroke:#3535e0;stroke-width:0.08;" textLength="108.00" lengthAdjust="spacingAndGlyphs">LysM-Cre-TAX1BP1-MX1-GFP</text><text transform="translate(196.80,504.30)" font-size="8.4" text-anchor="start" fill="#3535e0" style="stroke:#3535e0;stroke-width:0.08;" textLength="33.00" lengthAdjust="spacingAndGlyphs">+G3-YSD</text><text transform="translate(233.30,584.50)" font-size="8.4" text-anchor="start" fill="#e8282b" style="stroke:#e8282b;stroke-width:0.08;" textLength="71.00" lengthAdjust="spacingAndGlyphs">LysM-Cre-MX1-GFP</text><text transform="translate(233.30,594.00)" font-size="8.4" text-anchor="start" fill="#e8282b" style="stroke:#e8282b;stroke-width:0.08;" textLength="33.00" lengthAdjust="spacingAndGlyphs">+G3-YSD</text><text transform="translate(344.50,468.50)" font-size="11" text-anchor="start" fill="#222" style="stroke:#222;stroke-width:0.22;">N)</text><text transform="translate(477.80,481.50)" font-size="8.2" text-anchor="middle" fill="#222" style="font-weight:bold;" textLength="116.50" lengthAdjust="spacingAndGlyphs">Incucyte S3 Live cell imaging</text><rect x="394.9" y="485.6" width="170.70000000000005" height="132.0" fill="none" stroke="#d4d4d4" stroke-width="0.8"/><line x1="392.90" y1="614.71" x2="394.90" y2="614.71" stroke="#bbb" stroke-width="0.6"/><text transform="translate(391.90,617.81)" font-size="8.8" text-anchor="end" fill="#333" style="stroke:#333;stroke-width:0.22;">-500</text><line x1="392.90" y1="606.30" x2="394.90" y2="606.30" stroke="#bbb" stroke-width="0.6"/><text transform="translate(391.90,609.40)" font-size="8.8" text-anchor="end" fill="#333" style="stroke:#333;stroke-width:0.22;">0</text><line x1="392.90" y1="589.49" x2="394.90" y2="589.49" stroke="#bbb" stroke-width="0.6"/><text transform="translate(391.90,592.59)" font-size="8.8" text-anchor="end" fill="#333" style="stroke:#333;stroke-width:0.22;">1000</text><line x1="392.90" y1="572.67" x2="394.90" y2="572.67" stroke="#bbb" stroke-width="0.6"/><text transform="translate(391.90,575.77)" font-size="8.8" text-anchor="end" fill="#333" style="stroke:#333;stroke-width:0.22;">2000</text><line x1="392.90" y1="555.86" x2="394.90" y2="555.86" stroke="#bbb" stroke-width="0.6"/><text transform="translate(391.90,558.96)" font-size="8.8" text-anchor="end" fill="#333" style="stroke:#333;stroke-width:0.22;">3000</text><line x1="392.90" y1="539.04" x2="394.90" y2="539.04" stroke="#bbb" stroke-width="0.6"/><text transform="translate(391.90,542.14)" font-size="8.8" text-anchor="end" fill="#333" style="stroke:#333;stroke-width:0.22;">4000</text><line x1="392.90" y1="522.23" x2="394.90" y2="522.23" stroke="#bbb" stroke-width="0.6"/><text transform="translate(391.90,525.33)" font-size="8.8" text-anchor="end" fill="#333" style="stroke:#333;stroke-width:0.22;">5000</text><line x1="392.90" y1="505.41" x2="394.90" y2="505.41" stroke="#bbb" stroke-width="0.6"/><text transform="translate(391.90,508.51)" font-size="8.8" text-anchor="end" fill="#333" style="stroke:#333;stroke-width:0.22;">6000</text><line x1="392.90" y1="488.60" x2="394.90" y2="488.60" stroke="#bbb" stroke-width="0.6"/><text transform="translate(391.90,491.70)" font-size="8.8" text-anchor="end" fill="#333" style="stroke:#333;stroke-width:0.22;">7000</text><line x1="404.20" y1="617.60" x2="404.20" y2="619.60" stroke="#bbb" stroke-width="0.6"/><text transform="translate(404.20,626.50)" font-size="8.4" text-anchor="middle" fill="#333" style="stroke:#333;stroke-width:0.22;">0</text><line x1="429.52" y1="617.60" x2="429.52" y2="619.60" stroke="#bbb" stroke-width="0.6"/><text transform="translate(429.52,626.50)" font-size="8.4" text-anchor="middle" fill="#333" style="stroke:#333;stroke-width:0.22;">4</text><line x1="454.84" y1="617.60" x2="454.84" y2="619.60" stroke="#bbb" stroke-width="0.6"/><text transform="translate(454.84,626.50)" font-size="8.4" text-anchor="middle" fill="#333" style="stroke:#333;stroke-width:0.22;">8</text><line x1="480.16" y1="617.60" x2="480.16" y2="619.60" stroke="#bbb" stroke-width="0.6"/><text transform="translate(480.16,626.50)" font-size="8.4" text-anchor="middle" fill="#333" style="stroke:#333;stroke-width:0.22;">12</text><line x1="505.48" y1="617.60" x2="505.48" y2="619.60" stroke="#bbb" stroke-width="0.6"/><text transform="translate(505.48,626.50)" font-size="8.4" text-anchor="middle" fill="#333" style="stroke:#333;stroke-width:0.22;">16</text><line x1="530.80" y1="617.60" x2="530.80" y2="619.60" stroke="#bbb" stroke-width="0.6"/><text transform="translate(530.80,626.50)" font-size="8.4" text-anchor="middle" fill="#333" style="stroke:#333;stroke-width:0.22;">20</text><line x1="556.12" y1="617.60" x2="556.12" y2="619.60" stroke="#bbb" stroke-width="0.6"/><text transform="translate(556.12,626.50)" font-size="8.4" text-anchor="middle" fill="#333" style="stroke:#333;stroke-width:0.22;">24</text><line x1="404.20" y1="617.60" x2="404.20" y2="618.60" stroke="#ccc" stroke-width="0.5"/><line x1="410.53" y1="617.60" x2="410.53" y2="618.60" stroke="#ccc" stroke-width="0.5"/><line x1="416.86" y1="617.60" x2="416.86" y2="618.60" stroke="#ccc" stroke-width="0.5"/><line x1="423.19" y1="617.60" x2="423.19" y2="618.60" stroke="#ccc" stroke-width="0.5"/><line x1="429.52" y1="617.60" x2="429.52" y2="618.60" stroke="#ccc" stroke-width="0.5"/><line x1="435.85" y1="617.60" x2="435.85" y2="618.60" stroke="#ccc" stroke-width="0.5"/><line x1="442.18" y1="617.60" x2="442.18" y2="618.60" stroke="#ccc" stroke-width="0.5"/><line x1="448.51" y1="617.60" x2="448.51" y2="618.60" stroke="#ccc" stroke-width="0.5"/><line x1="454.84" y1="617.60" x2="454.84" y2="618.60" stroke="#ccc" stroke-width="0.5"/><line x1="461.17" y1="617.60" x2="461.17" y2="618.60" stroke="#ccc" stroke-width="0.5"/><line x1="467.50" y1="617.60" x2="467.50" y2="618.60" stroke="#ccc" stroke-width="0.5"/><line x1="473.83" y1="617.60" x2="473.83" y2="618.60" stroke="#ccc" stroke-width="0.5"/><line x1="480.16" y1="617.60" x2="480.16" y2="618.60" stroke="#ccc" stroke-width="0.5"/><line x1="486.49" y1="617.60" x2="486.49" y2="618.60" stroke="#ccc" stroke-width="0.5"/><line x1="492.82" y1="617.60" x2="492.82" y2="618.60" stroke="#ccc" stroke-width="0.5"/><line x1="499.15" y1="617.60" x2="499.15" y2="618.60" stroke="#ccc" stroke-width="0.5"/><line x1="505.48" y1="617.60" x2="505.48" y2="618.60" stroke="#ccc" stroke-width="0.5"/><line x1="511.81" y1="617.60" x2="511.81" y2="618.60" stroke="#ccc" stroke-width="0.5"/><line x1="518.14" y1="617.60" x2="518.14" y2="618.60" stroke="#ccc" stroke-width="0.5"/><line x1="524.47" y1="617.60" x2="524.47" y2="618.60" stroke="#ccc" stroke-width="0.5"/><line x1="530.80" y1="617.60" x2="530.80" y2="618.60" stroke="#ccc" stroke-width="0.5"/><line x1="537.13" y1="617.60" x2="537.13" y2="618.60" stroke="#ccc" stroke-width="0.5"/><line x1="543.46" y1="617.60" x2="543.46" y2="618.60" stroke="#ccc" stroke-width="0.5"/><line x1="549.79" y1="617.60" x2="549.79" y2="618.60" stroke="#ccc" stroke-width="0.5"/><line x1="556.12" y1="617.60" x2="556.12" y2="618.60" stroke="#ccc" stroke-width="0.5"/><text transform="translate(475.00,637.50)" font-size="8.2" text-anchor="middle" fill="#222" style="stroke:#222;stroke-width:0.22;" textLength="32.70" lengthAdjust="spacingAndGlyphs">Time (h)</text><text transform="translate(350.80,558.40) rotate(-90)" font-size="7.9" text-anchor="middle" fill="#222" style="font-weight:bold;" textLength="111.00" lengthAdjust="spacingAndGlyphs">Green object count per image/</text><text transform="translate(361.80,559.00) rotate(-90)" font-size="7.9" text-anchor="middle" fill="#222" style="font-weight:bold;" textLength="82.00" lengthAdjust="spacingAndGlyphs">phase area confluence</text><polyline points="404.20,595.37 410.53,596.21 416.86,599.57 423.19,602.10 429.52,602.94 435.85,602.10 442.18,601.26 448.51,602.10 454.84,603.78 461.17,604.62 467.50,604.95 473.83,605.29 480.16,605.46 486.49,605.46 492.82,605.46 499.15,605.46 505.48,605.46 511.81,605.46 518.14,605.46 524.47,605.46 530.80,605.46 537.13,605.46 543.46,605.46 549.79,605.46 556.12,605.46" fill="none" stroke="#f2c4c4" stroke-width="0.9"/><circle cx="404.20" cy="595.37" r="1.0" fill="#f2c4c4"/><circle cx="410.53" cy="596.21" r="1.0" fill="#f2c4c4"/><circle cx="416.86" cy="599.57" r="1.0" fill="#f2c4c4"/><circle cx="423.19" cy="602.10" r="1.0" fill="#f2c4c4"/><circle cx="429.52" cy="602.94" r="1.0" fill="#f2c4c4"/><circle cx="435.85" cy="602.10" r="1.0" fill="#f2c4c4"/><circle cx="442.18" cy="601.26" r="1.0" fill="#f2c4c4"/><circle cx="448.51" cy="602.10" r="1.0" fill="#f2c4c4"/><circle cx="454.84" cy="603.78" r="1.0" fill="#f2c4c4"/><circle cx="461.17" cy="604.62" r="1.0" fill="#f2c4c4"/><circle cx="467.50" cy="604.95" r="1.0" fill="#f2c4c4"/><circle cx="473.83" cy="605.29" r="1.0" fill="#f2c4c4"/><circle cx="480.16" cy="605.46" r="1.0" fill="#f2c4c4"/><circle cx="486.49" cy="605.46" r="1.0" fill="#f2c4c4"/><circle cx="492.82" cy="605.46" r="1.0" fill="#f2c4c4"/><circle cx="499.15" cy="605.46" r="1.0" fill="#f2c4c4"/><circle cx="505.48" cy="605.46" r="1.0" fill="#f2c4c4"/><circle cx="511.81" cy="605.46" r="1.0" fill="#f2c4c4"/><circle cx="518.14" cy="605.46" r="1.0" fill="#f2c4c4"/><circle cx="524.47" cy="605.46" r="1.0" fill="#f2c4c4"/><circle cx="530.80" cy="605.46" r="1.0" fill="#f2c4c4"/><circle cx="537.13" cy="605.46" r="1.0" fill="#f2c4c4"/><circle cx="543.46" cy="605.46" r="1.0" fill="#f2c4c4"/><circle cx="549.79" cy="605.46" r="1.0" fill="#f2c4c4"/><circle cx="556.12" cy="605.46" r="1.0" fill="#f2c4c4"/><polyline points="404.20,594.53 410.53,595.37 416.86,599.57 423.19,602.94 429.52,602.94 435.85,602.10 442.18,601.26 448.51,602.10 454.84,603.78 461.17,604.62 467.50,604.95 473.83,605.29 480.16,605.46 486.49,605.46 492.82,605.46 499.15,605.46 505.48,605.46 511.81,605.46 518.14,605.46 524.47,605.46 530.80,605.46 537.13,605.46 543.46,605.46 549.79,605.46 556.12,605.46" fill="none" stroke="#b8ecec" stroke-width="0.9"/><line x1="404.20" y1="593.52" x2="404.20" y2="595.54" stroke="#b8ecec" stroke-width="0.5" opacity="0.7"/><line x1="403.20" y1="593.52" x2="405.20" y2="593.52" stroke="#b8ecec" stroke-width="0.5" opacity="0.7"/><line x1="403.20" y1="595.54" x2="405.20" y2="595.54" stroke="#b8ecec" stroke-width="0.5" opacity="0.7"/><circle cx="404.20" cy="594.53" r="1.1" fill="#b8ecec"/><line x1="410.53" y1="594.36" x2="410.53" y2="596.38" stroke="#b8ecec" stroke-width="0.5" opacity="0.7"/><line x1="409.53" y1="594.36" x2="411.53" y2="594.36" stroke="#b8ecec" stroke-width="0.5" opacity="0.7"/><line x1="409.53" y1="596.38" x2="411.53" y2="596.38" stroke="#b8ecec" stroke-width="0.5" opacity="0.7"/><circle cx="410.53" cy="595.37" r="1.1" fill="#b8ecec"/><line x1="416.86" y1="598.57" x2="416.86" y2="600.58" stroke="#b8ecec" stroke-width="0.5" opacity="0.7"/><line x1="415.86" y1="598.57" x2="417.86" y2="598.57" stroke="#b8ecec" stroke-width="0.5" opacity="0.7"/><line x1="415.86" y1="600.58" x2="417.86" y2="600.58" stroke="#b8ecec" stroke-width="0.5" opacity="0.7"/><circle cx="416.86" cy="599.57" r="1.1" fill="#b8ecec"/><line x1="423.19" y1="601.93" x2="423.19" y2="603.95" stroke="#b8ecec" stroke-width="0.5" opacity="0.7"/><line x1="422.19" y1="601.93" x2="424.19" y2="601.93" stroke="#b8ecec" stroke-width="0.5" opacity="0.7"/><line x1="422.19" y1="603.95" x2="424.19" y2="603.95" stroke="#b8ecec" stroke-width="0.5" opacity="0.7"/><circle cx="423.19" cy="602.94" r="1.1" fill="#b8ecec"/><line x1="429.52" y1="601.93" x2="429.52" y2="603.95" stroke="#b8ecec" stroke-width="0.5" opacity="0.7"/><line x1="428.52" y1="601.93" x2="430.52" y2="601.93" stroke="#b8ecec" stroke-width="0.5" opacity="0.7"/><line x1="428.52" y1="603.95" x2="430.52" y2="603.95" stroke="#b8ecec" stroke-width="0.5" opacity="0.7"/><circle cx="429.52" cy="602.94" r="1.1" fill="#b8ecec"/><line x1="435.85" y1="601.09" x2="435.85" y2="603.11" stroke="#b8ecec" stroke-width="0.5" opacity="0.7"/><line x1="434.85" y1="601.09" x2="436.85" y2="601.09" stroke="#b8ecec" stroke-width="0.5" opacity="0.7"/><line x1="434.85" y1="603.11" x2="436.85" y2="603.11" stroke="#b8ecec" stroke-width="0.5" opacity="0.7"/><circle cx="435.85" cy="602.10" r="1.1" fill="#b8ecec"/><line x1="442.18" y1="600.25" x2="442.18" y2="602.26" stroke="#b8ecec" stroke-width="0.5" opacity="0.7"/><line x1="441.18" y1="600.25" x2="443.18" y2="600.25" stroke="#b8ecec" stroke-width="0.5" opacity="0.7"/><line x1="441.18" y1="602.26" x2="443.18" y2="602.26" stroke="#b8ecec" stroke-width="0.5" opacity="0.7"/><circle cx="442.18" cy="601.26" r="1.1" fill="#b8ecec"/><line x1="448.51" y1="601.09" x2="448.51" y2="603.11" stroke="#b8ecec" stroke-width="0.5" opacity="0.7"/><line x1="447.51" y1="601.09" x2="449.51" y2="601.09" stroke="#b8ecec" stroke-width="0.5" opacity="0.7"/><line x1="447.51" y1="603.11" x2="449.51" y2="603.11" stroke="#b8ecec" stroke-width="0.5" opacity="0.7"/><circle cx="448.51" cy="602.10" r="1.1" fill="#b8ecec"/><line x1="454.84" y1="602.77" x2="454.84" y2="604.79" stroke="#b8ecec" stroke-width="0.5" opacity="0.7"/><line x1="453.84" y1="602.77" x2="455.84" y2="602.77" stroke="#b8ecec" stroke-width="0.5" opacity="0.7"/><line x1="453.84" y1="604.79" x2="455.84" y2="604.79" stroke="#b8ecec" stroke-width="0.5" opacity="0.7"/><circle cx="454.84" cy="603.78" r="1.1" fill="#b8ecec"/><line x1="461.17" y1="603.61" x2="461.17" y2="605.63" stroke="#b8ecec" stroke-width="0.5" opacity="0.7"/><line x1="460.17" y1="603.61" x2="462.17" y2="603.61" stroke="#b8ecec" stroke-width="0.5" opacity="0.7"/><line x1="460.17" y1="605.63" x2="462.17" y2="605.63" stroke="#b8ecec" stroke-width="0.5" opacity="0.7"/><circle cx="461.17" cy="604.62" r="1.1" fill="#b8ecec"/><line x1="467.50" y1="603.95" x2="467.50" y2="605.96" stroke="#b8ecec" stroke-width="0.5" opacity="0.7"/><line x1="466.50" y1="603.95" x2="468.50" y2="603.95" stroke="#b8ecec" stroke-width="0.5" opacity="0.7"/><line x1="466.50" y1="605.96" x2="468.50" y2="605.96" stroke="#b8ecec" stroke-width="0.5" opacity="0.7"/><circle cx="467.50" cy="604.95" r="1.1" fill="#b8ecec"/><line x1="473.83" y1="604.28" x2="473.83" y2="606.30" stroke="#b8ecec" stroke-width="0.5" opacity="0.7"/><line x1="472.83" y1="604.28" x2="474.83" y2="604.28" stroke="#b8ecec" stroke-width="0.5" opacity="0.7"/><line x1="472.83" y1="606.30" x2="474.83" y2="606.30" stroke="#b8ecec" stroke-width="0.5" opacity="0.7"/><circle cx="473.83" cy="605.29" r="1.1" fill="#b8ecec"/><line x1="480.16" y1="604.45" x2="480.16" y2="606.47" stroke="#b8ecec" stroke-width="0.5" opacity="0.7"/><line x1="479.16" y1="604.45" x2="481.16" y2="604.45" stroke="#b8ecec" stroke-width="0.5" opacity="0.7"/><line x1="479.16" y1="606.47" x2="481.16" y2="606.47" stroke="#b8ecec" stroke-width="0.5" opacity="0.7"/><circle cx="480.16" cy="605.46" r="1.1" fill="#b8ecec"/><line x1="486.49" y1="604.45" x2="486.49" y2="606.47" stroke="#b8ecec" stroke-width="0.5" opacity="0.7"/><line x1="485.49" y1="604.45" x2="487.49" y2="604.45" stroke="#b8ecec" stroke-width="0.5" opacity="0.7"/><line x1="485.49" y1="606.47" x2="487.49" y2="606.47" stroke="#b8ecec" stroke-width="0.5" opacity="0.7"/><circle cx="486.49" cy="605.46" r="1.1" fill="#b8ecec"/><line x1="492.82" y1="604.45" x2="492.82" y2="606.47" stroke="#b8ecec" stroke-width="0.5" opacity="0.7"/><line x1="491.82" y1="604.45" x2="493.82" y2="604.45" stroke="#b8ecec" stroke-width="0.5" opacity="0.7"/><line x1="491.82" y1="606.47" x2="493.82" y2="606.47" stroke="#b8ecec" stroke-width="0.5" opacity="0.7"/><circle cx="492.82" cy="605.46" r="1.1" fill="#b8ecec"/><line x1="499.15" y1="604.45" x2="499.15" y2="606.47" stroke="#b8ecec" stroke-width="0.5" opacity="0.7"/><line x1="498.15" y1="604.45" x2="500.15" y2="604.45" stroke="#b8ecec" stroke-width="0.5" opacity="0.7"/><line x1="498.15" y1="606.47" x2="500.15" y2="606.47" stroke="#b8ecec" stroke-width="0.5" opacity="0.7"/><circle cx="499.15" cy="605.46" r="1.1" fill="#b8ecec"/><line x1="505.48" y1="604.45" x2="505.48" y2="606.47" stroke="#b8ecec" stroke-width="0.5" opacity="0.7"/><line x1="504.48" y1="604.45" x2="506.48" y2="604.45" stroke="#b8ecec" stroke-width="0.5" opacity="0.7"/><line x1="504.48" y1="606.47" x2="506.48" y2="606.47" stroke="#b8ecec" stroke-width="0.5" opacity="0.7"/><circle cx="505.48" cy="605.46" r="1.1" fill="#b8ecec"/><line x1="511.81" y1="604.45" x2="511.81" y2="606.47" stroke="#b8ecec" stroke-width="0.5" opacity="0.7"/><line x1="510.81" y1="604.45" x2="512.81" y2="604.45" stroke="#b8ecec" stroke-width="0.5" opacity="0.7"/><line x1="510.81" y1="606.47" x2="512.81" y2="606.47" stroke="#b8ecec" stroke-width="0.5" opacity="0.7"/><circle cx="511.81" cy="605.46" r="1.1" fill="#b8ecec"/><line x1="518.14" y1="604.45" x2="518.14" y2="606.47" stroke="#b8ecec" stroke-width="0.5" opacity="0.7"/><line x1="517.14" y1="604.45" x2="519.14" y2="604.45" stroke="#b8ecec" stroke-width="0.5" opacity="0.7"/><line x1="517.14" y1="606.47" x2="519.14" y2="606.47" stroke="#b8ecec" stroke-width="0.5" opacity="0.7"/><circle cx="518.14" cy="605.46" r="1.1" fill="#b8ecec"/><line x1="524.47" y1="604.45" x2="524.47" y2="606.47" stroke="#b8ecec" stroke-width="0.5" opacity="0.7"/><line x1="523.47" y1="604.45" x2="525.47" y2="604.45" stroke="#b8ecec" stroke-width="0.5" opacity="0.7"/><line x1="523.47" y1="606.47" x2="525.47" y2="606.47" stroke="#b8ecec" stroke-width="0.5" opacity="0.7"/><circle cx="524.47" cy="605.46" r="1.1" fill="#b8ecec"/><line x1="530.80" y1="604.45" x2="530.80" y2="606.47" stroke="#b8ecec" stroke-width="0.5" opacity="0.7"/><line x1="529.80" y1="604.45" x2="531.80" y2="604.45" stroke="#b8ecec" stroke-width="0.5" opacity="0.7"/><line x1="529.80" y1="606.47" x2="531.80" y2="606.47" stroke="#b8ecec" stroke-width="0.5" opacity="0.7"/><circle cx="530.80" cy="605.46" r="1.1" fill="#b8ecec"/><line x1="537.13" y1="604.45" x2="537.13" y2="606.47" stroke="#b8ecec" stroke-width="0.5" opacity="0.7"/><line x1="536.13" y1="604.45" x2="538.13" y2="604.45" stroke="#b8ecec" stroke-width="0.5" opacity="0.7"/><line x1="536.13" y1="606.47" x2="538.13" y2="606.47" stroke="#b8ecec" stroke-width="0.5" opacity="0.7"/><circle cx="537.13" cy="605.46" r="1.1" fill="#b8ecec"/><line x1="543.46" y1="604.45" x2="543.46" y2="606.47" stroke="#b8ecec" stroke-width="0.5" opacity="0.7"/><line x1="542.46" y1="604.45" x2="544.46" y2="604.45" stroke="#b8ecec" stroke-width="0.5" opacity="0.7"/><line x1="542.46" y1="606.47" x2="544.46" y2="606.47" stroke="#b8ecec" stroke-width="0.5" opacity="0.7"/><circle cx="543.46" cy="605.46" r="1.1" fill="#b8ecec"/><line x1="549.79" y1="604.45" x2="549.79" y2="606.47" stroke="#b8ecec" stroke-width="0.5" opacity="0.7"/><line x1="548.79" y1="604.45" x2="550.79" y2="604.45" stroke="#b8ecec" stroke-width="0.5" opacity="0.7"/><line x1="548.79" y1="606.47" x2="550.79" y2="606.47" stroke="#b8ecec" stroke-width="0.5" opacity="0.7"/><circle cx="549.79" cy="605.46" r="1.1" fill="#b8ecec"/><line x1="556.12" y1="604.45" x2="556.12" y2="606.47" stroke="#b8ecec" stroke-width="0.5" opacity="0.7"/><line x1="555.12" y1="604.45" x2="557.12" y2="604.45" stroke="#b8ecec" stroke-width="0.5" opacity="0.7"/><line x1="555.12" y1="606.47" x2="557.12" y2="606.47" stroke="#b8ecec" stroke-width="0.5" opacity="0.7"/><circle cx="556.12" cy="605.46" r="1.1" fill="#b8ecec"/><polyline points="404.20,596.21 410.53,597.05 416.86,601.26 423.19,602.94 429.52,602.94 435.85,601.26 442.18,595.37 448.51,591.17 454.84,591.17 461.17,586.96 467.50,581.92 473.83,573.51 480.16,567.63 486.49,561.74 492.82,557.54 499.15,547.45 505.48,548.29 511.81,550.81 518.14,541.56 524.47,545.77 530.80,551.65 537.13,547.45 543.46,553.33 549.79,555.86 556.12,557.54" fill="none" stroke="#e8282b" stroke-width="0.9"/><line x1="404.20" y1="594.53" x2="404.20" y2="597.89" stroke="#e8282b" stroke-width="0.5" opacity="0.7"/><line x1="403.20" y1="594.53" x2="405.20" y2="594.53" stroke="#e8282b" stroke-width="0.5" opacity="0.7"/><line x1="403.20" y1="597.89" x2="405.20" y2="597.89" stroke="#e8282b" stroke-width="0.5" opacity="0.7"/><circle cx="404.20" cy="596.21" r="1.1" fill="#e8282b"/><line x1="410.53" y1="595.37" x2="410.53" y2="598.73" stroke="#e8282b" stroke-width="0.5" opacity="0.7"/><line x1="409.53" y1="595.37" x2="411.53" y2="595.37" stroke="#e8282b" stroke-width="0.5" opacity="0.7"/><line x1="409.53" y1="598.73" x2="411.53" y2="598.73" stroke="#e8282b" stroke-width="0.5" opacity="0.7"/><circle cx="410.53" cy="597.05" r="1.1" fill="#e8282b"/><line x1="416.86" y1="599.57" x2="416.86" y2="602.94" stroke="#e8282b" stroke-width="0.5" opacity="0.7"/><line x1="415.86" y1="599.57" x2="417.86" y2="599.57" stroke="#e8282b" stroke-width="0.5" opacity="0.7"/><line x1="415.86" y1="602.94" x2="417.86" y2="602.94" stroke="#e8282b" stroke-width="0.5" opacity="0.7"/><circle cx="416.86" cy="601.26" r="1.1" fill="#e8282b"/><line x1="423.19" y1="601.26" x2="423.19" y2="604.62" stroke="#e8282b" stroke-width="0.5" opacity="0.7"/><line x1="422.19" y1="601.26" x2="424.19" y2="601.26" stroke="#e8282b" stroke-width="0.5" opacity="0.7"/><line x1="422.19" y1="604.62" x2="424.19" y2="604.62" stroke="#e8282b" stroke-width="0.5" opacity="0.7"/><circle cx="423.19" cy="602.94" r="1.1" fill="#e8282b"/><line x1="429.52" y1="601.26" x2="429.52" y2="604.62" stroke="#e8282b" stroke-width="0.5" opacity="0.7"/><line x1="428.52" y1="601.26" x2="430.52" y2="601.26" stroke="#e8282b" stroke-width="0.5" opacity="0.7"/><line x1="428.52" y1="604.62" x2="430.52" y2="604.62" stroke="#e8282b" stroke-width="0.5" opacity="0.7"/><circle cx="429.52" cy="602.94" r="1.1" fill="#e8282b"/><line x1="435.85" y1="599.57" x2="435.85" y2="602.94" stroke="#e8282b" stroke-width="0.5" opacity="0.7"/><line x1="434.85" y1="599.57" x2="436.85" y2="599.57" stroke="#e8282b" stroke-width="0.5" opacity="0.7"/><line x1="434.85" y1="602.94" x2="436.85" y2="602.94" stroke="#e8282b" stroke-width="0.5" opacity="0.7"/><circle cx="435.85" cy="601.26" r="1.1" fill="#e8282b"/><line x1="442.18" y1="593.69" x2="442.18" y2="597.05" stroke="#e8282b" stroke-width="0.5" opacity="0.7"/><line x1="441.18" y1="593.69" x2="443.18" y2="593.69" stroke="#e8282b" stroke-width="0.5" opacity="0.7"/><line x1="441.18" y1="597.05" x2="443.18" y2="597.05" stroke="#e8282b" stroke-width="0.5" opacity="0.7"/><circle cx="442.18" cy="595.37" r="1.1" fill="#e8282b"/><line x1="448.51" y1="589.49" x2="448.51" y2="592.85" stroke="#e8282b" stroke-width="0.5" opacity="0.7"/><line x1="447.51" y1="589.49" x2="449.51" y2="589.49" stroke="#e8282b" stroke-width="0.5" opacity="0.7"/><line x1="447.51" y1="592.85" x2="449.51" y2="592.85" stroke="#e8282b" stroke-width="0.5" opacity="0.7"/><circle cx="448.51" cy="591.17" r="1.1" fill="#e8282b"/><line x1="454.84" y1="589.49" x2="454.84" y2="592.85" stroke="#e8282b" stroke-width="0.5" opacity="0.7"/><line x1="453.84" y1="589.49" x2="455.84" y2="589.49" stroke="#e8282b" stroke-width="0.5" opacity="0.7"/><line x1="453.84" y1="592.85" x2="455.84" y2="592.85" stroke="#e8282b" stroke-width="0.5" opacity="0.7"/><circle cx="454.84" cy="591.17" r="1.1" fill="#e8282b"/><line x1="461.17" y1="585.28" x2="461.17" y2="588.64" stroke="#e8282b" stroke-width="0.5" opacity="0.7"/><line x1="460.17" y1="585.28" x2="462.17" y2="585.28" stroke="#e8282b" stroke-width="0.5" opacity="0.7"/><line x1="460.17" y1="588.64" x2="462.17" y2="588.64" stroke="#e8282b" stroke-width="0.5" opacity="0.7"/><circle cx="461.17" cy="586.96" r="1.1" fill="#e8282b"/><line x1="467.50" y1="578.56" x2="467.50" y2="585.28" stroke="#e8282b" stroke-width="0.5" opacity="0.7"/><line x1="466.50" y1="578.56" x2="468.50" y2="578.56" stroke="#e8282b" stroke-width="0.5" opacity="0.7"/><line x1="466.50" y1="585.28" x2="468.50" y2="585.28" stroke="#e8282b" stroke-width="0.5" opacity="0.7"/><circle cx="467.50" cy="581.92" r="1.1" fill="#e8282b"/><line x1="473.83" y1="570.15" x2="473.83" y2="576.88" stroke="#e8282b" stroke-width="0.5" opacity="0.7"/><line x1="472.83" y1="570.15" x2="474.83" y2="570.15" stroke="#e8282b" stroke-width="0.5" opacity="0.7"/><line x1="472.83" y1="576.88" x2="474.83" y2="576.88" stroke="#e8282b" stroke-width="0.5" opacity="0.7"/><circle cx="473.83" cy="573.51" r="1.1" fill="#e8282b"/><line x1="480.16" y1="564.26" x2="480.16" y2="570.99" stroke="#e8282b" stroke-width="0.5" opacity="0.7"/><line x1="479.16" y1="564.26" x2="481.16" y2="564.26" stroke="#e8282b" stroke-width="0.5" opacity="0.7"/><line x1="479.16" y1="570.99" x2="481.16" y2="570.99" stroke="#e8282b" stroke-width="0.5" opacity="0.7"/><circle cx="480.16" cy="567.63" r="1.1" fill="#e8282b"/><line x1="486.49" y1="558.38" x2="486.49" y2="565.10" stroke="#e8282b" stroke-width="0.5" opacity="0.7"/><line x1="485.49" y1="558.38" x2="487.49" y2="558.38" stroke="#e8282b" stroke-width="0.5" opacity="0.7"/><line x1="485.49" y1="565.10" x2="487.49" y2="565.10" stroke="#e8282b" stroke-width="0.5" opacity="0.7"/><circle cx="486.49" cy="561.74" r="1.1" fill="#e8282b"/><line x1="492.82" y1="554.18" x2="492.82" y2="560.90" stroke="#e8282b" stroke-width="0.5" opacity="0.7"/><line x1="491.82" y1="554.18" x2="493.82" y2="554.18" stroke="#e8282b" stroke-width="0.5" opacity="0.7"/><line x1="491.82" y1="560.90" x2="493.82" y2="560.90" stroke="#e8282b" stroke-width="0.5" opacity="0.7"/><circle cx="492.82" cy="557.54" r="1.1" fill="#e8282b"/><line x1="499.15" y1="544.09" x2="499.15" y2="550.81" stroke="#e8282b" stroke-width="0.5" opacity="0.7"/><line x1="498.15" y1="544.09" x2="500.15" y2="544.09" stroke="#e8282b" stroke-width="0.5" opacity="0.7"/><line x1="498.15" y1="550.81" x2="500.15" y2="550.81" stroke="#e8282b" stroke-width="0.5" opacity="0.7"/><circle cx="499.15" cy="547.45" r="1.1" fill="#e8282b"/><line x1="505.48" y1="544.93" x2="505.48" y2="551.65" stroke="#e8282b" stroke-width="0.5" opacity="0.7"/><line x1="504.48" y1="544.93" x2="506.48" y2="544.93" stroke="#e8282b" stroke-width="0.5" opacity="0.7"/><line x1="504.48" y1="551.65" x2="506.48" y2="551.65" stroke="#e8282b" stroke-width="0.5" opacity="0.7"/><circle cx="505.48" cy="548.29" r="1.1" fill="#e8282b"/><line x1="511.81" y1="547.45" x2="511.81" y2="554.18" stroke="#e8282b" stroke-width="0.5" opacity="0.7"/><line x1="510.81" y1="547.45" x2="512.81" y2="547.45" stroke="#e8282b" stroke-width="0.5" opacity="0.7"/><line x1="510.81" y1="554.18" x2="512.81" y2="554.18" stroke="#e8282b" stroke-width="0.5" opacity="0.7"/><circle cx="511.81" cy="550.81" r="1.1" fill="#e8282b"/><line x1="518.14" y1="538.20" x2="518.14" y2="544.93" stroke="#e8282b" stroke-width="0.5" opacity="0.7"/><line x1="517.14" y1="538.20" x2="519.14" y2="538.20" stroke="#e8282b" stroke-width="0.5" opacity="0.7"/><line x1="517.14" y1="544.93" x2="519.14" y2="544.93" stroke="#e8282b" stroke-width="0.5" opacity="0.7"/><circle cx="518.14" cy="541.56" r="1.1" fill="#e8282b"/><line x1="524.47" y1="542.41" x2="524.47" y2="549.13" stroke="#e8282b" stroke-width="0.5" opacity="0.7"/><line x1="523.47" y1="542.41" x2="525.47" y2="542.41" stroke="#e8282b" stroke-width="0.5" opacity="0.7"/><line x1="523.47" y1="549.13" x2="525.47" y2="549.13" stroke="#e8282b" stroke-width="0.5" opacity="0.7"/><circle cx="524.47" cy="545.77" r="1.1" fill="#e8282b"/><line x1="530.80" y1="548.29" x2="530.80" y2="555.02" stroke="#e8282b" stroke-width="0.5" opacity="0.7"/><line x1="529.80" y1="548.29" x2="531.80" y2="548.29" stroke="#e8282b" stroke-width="0.5" opacity="0.7"/><line x1="529.80" y1="555.02" x2="531.80" y2="555.02" stroke="#e8282b" stroke-width="0.5" opacity="0.7"/><circle cx="530.80" cy="551.65" r="1.1" fill="#e8282b"/><line x1="537.13" y1="544.09" x2="537.13" y2="550.81" stroke="#e8282b" stroke-width="0.5" opacity="0.7"/><line x1="536.13" y1="544.09" x2="538.13" y2="544.09" stroke="#e8282b" stroke-width="0.5" opacity="0.7"/><line x1="536.13" y1="550.81" x2="538.13" y2="550.81" stroke="#e8282b" stroke-width="0.5" opacity="0.7"/><circle cx="537.13" cy="547.45" r="1.1" fill="#e8282b"/><line x1="543.46" y1="549.97" x2="543.46" y2="556.70" stroke="#e8282b" stroke-width="0.5" opacity="0.7"/><line x1="542.46" y1="549.97" x2="544.46" y2="549.97" stroke="#e8282b" stroke-width="0.5" opacity="0.7"/><line x1="542.46" y1="556.70" x2="544.46" y2="556.70" stroke="#e8282b" stroke-width="0.5" opacity="0.7"/><circle cx="543.46" cy="553.33" r="1.1" fill="#e8282b"/><line x1="549.79" y1="552.49" x2="549.79" y2="559.22" stroke="#e8282b" stroke-width="0.5" opacity="0.7"/><line x1="548.79" y1="552.49" x2="550.79" y2="552.49" stroke="#e8282b" stroke-width="0.5" opacity="0.7"/><line x1="548.79" y1="559.22" x2="550.79" y2="559.22" stroke="#e8282b" stroke-width="0.5" opacity="0.7"/><circle cx="549.79" cy="555.86" r="1.1" fill="#e8282b"/><line x1="556.12" y1="554.18" x2="556.12" y2="560.90" stroke="#e8282b" stroke-width="0.5" opacity="0.7"/><line x1="555.12" y1="554.18" x2="557.12" y2="554.18" stroke="#e8282b" stroke-width="0.5" opacity="0.7"/><line x1="555.12" y1="560.90" x2="557.12" y2="560.90" stroke="#e8282b" stroke-width="0.5" opacity="0.7"/><circle cx="556.12" cy="557.54" r="1.1" fill="#e8282b"/><polyline points="404.20,596.21 410.53,599.57 416.86,601.26 423.19,602.94 429.52,602.94 435.85,601.26 442.18,595.37 448.51,587.80 454.84,586.12 461.17,580.24 467.50,572.67 473.83,564.26 480.16,556.70 486.49,549.13 492.82,542.41 499.15,533.16 505.48,530.64 511.81,528.11 518.14,521.39 524.47,518.87 530.80,517.18 537.13,514.66 543.46,512.98 549.79,510.46 556.12,507.94" fill="none" stroke="#2a2ae0" stroke-width="0.9"/><line x1="404.20" y1="594.53" x2="404.20" y2="597.89" stroke="#2a2ae0" stroke-width="0.5" opacity="0.7"/><line x1="403.20" y1="594.53" x2="405.20" y2="594.53" stroke="#2a2ae0" stroke-width="0.5" opacity="0.7"/><line x1="403.20" y1="597.89" x2="405.20" y2="597.89" stroke="#2a2ae0" stroke-width="0.5" opacity="0.7"/><circle cx="404.20" cy="596.21" r="1.1" fill="#2a2ae0"/><line x1="410.53" y1="597.89" x2="410.53" y2="601.26" stroke="#2a2ae0" stroke-width="0.5" opacity="0.7"/><line x1="409.53" y1="597.89" x2="411.53" y2="597.89" stroke="#2a2ae0" stroke-width="0.5" opacity="0.7"/><line x1="409.53" y1="601.26" x2="411.53" y2="601.26" stroke="#2a2ae0" stroke-width="0.5" opacity="0.7"/><circle cx="410.53" cy="599.57" r="1.1" fill="#2a2ae0"/><line x1="416.86" y1="599.57" x2="416.86" y2="602.94" stroke="#2a2ae0" stroke-width="0.5" opacity="0.7"/><line x1="415.86" y1="599.57" x2="417.86" y2="599.57" stroke="#2a2ae0" stroke-width="0.5" opacity="0.7"/><line x1="415.86" y1="602.94" x2="417.86" y2="602.94" stroke="#2a2ae0" stroke-width="0.5" opacity="0.7"/><circle cx="416.86" cy="601.26" r="1.1" fill="#2a2ae0"/><line x1="423.19" y1="601.26" x2="423.19" y2="604.62" stroke="#2a2ae0" stroke-width="0.5" opacity="0.7"/><line x1="422.19" y1="601.26" x2="424.19" y2="601.26" stroke="#2a2ae0" stroke-width="0.5" opacity="0.7"/><line x1="422.19" y1="604.62" x2="424.19" y2="604.62" stroke="#2a2ae0" stroke-width="0.5" opacity="0.7"/><circle cx="423.19" cy="602.94" r="1.1" fill="#2a2ae0"/><line x1="429.52" y1="601.26" x2="429.52" y2="604.62" stroke="#2a2ae0" stroke-width="0.5" opacity="0.7"/><line x1="428.52" y1="601.26" x2="430.52" y2="601.26" stroke="#2a2ae0" stroke-width="0.5" opacity="0.7"/><line x1="428.52" y1="604.62" x2="430.52" y2="604.62" stroke="#2a2ae0" stroke-width="0.5" opacity="0.7"/><circle cx="429.52" cy="602.94" r="1.1" fill="#2a2ae0"/><line x1="435.85" y1="599.57" x2="435.85" y2="602.94" stroke="#2a2ae0" stroke-width="0.5" opacity="0.7"/><line x1="434.85" y1="599.57" x2="436.85" y2="599.57" stroke="#2a2ae0" stroke-width="0.5" opacity="0.7"/><line x1="434.85" y1="602.94" x2="436.85" y2="602.94" stroke="#2a2ae0" stroke-width="0.5" opacity="0.7"/><circle cx="435.85" cy="601.26" r="1.1" fill="#2a2ae0"/><line x1="442.18" y1="593.69" x2="442.18" y2="597.05" stroke="#2a2ae0" stroke-width="0.5" opacity="0.7"/><line x1="441.18" y1="593.69" x2="443.18" y2="593.69" stroke="#2a2ae0" stroke-width="0.5" opacity="0.7"/><line x1="441.18" y1="597.05" x2="443.18" y2="597.05" stroke="#2a2ae0" stroke-width="0.5" opacity="0.7"/><circle cx="442.18" cy="595.37" r="1.1" fill="#2a2ae0"/><line x1="448.51" y1="586.12" x2="448.51" y2="589.49" stroke="#2a2ae0" stroke-width="0.5" opacity="0.7"/><line x1="447.51" y1="586.12" x2="449.51" y2="586.12" stroke="#2a2ae0" stroke-width="0.5" opacity="0.7"/><line x1="447.51" y1="589.49" x2="449.51" y2="589.49" stroke="#2a2ae0" stroke-width="0.5" opacity="0.7"/><circle cx="448.51" cy="587.80" r="1.1" fill="#2a2ae0"/><line x1="454.84" y1="581.08" x2="454.84" y2="591.17" stroke="#2a2ae0" stroke-width="0.5" opacity="0.7"/><line x1="453.84" y1="581.08" x2="455.84" y2="581.08" stroke="#2a2ae0" stroke-width="0.5" opacity="0.7"/><line x1="453.84" y1="591.17" x2="455.84" y2="591.17" stroke="#2a2ae0" stroke-width="0.5" opacity="0.7"/><circle cx="454.84" cy="586.12" r="1.1" fill="#2a2ae0"/><line x1="461.17" y1="575.19" x2="461.17" y2="585.28" stroke="#2a2ae0" stroke-width="0.5" opacity="0.7"/><line x1="460.17" y1="575.19" x2="462.17" y2="575.19" stroke="#2a2ae0" stroke-width="0.5" opacity="0.7"/><line x1="460.17" y1="585.28" x2="462.17" y2="585.28" stroke="#2a2ae0" stroke-width="0.5" opacity="0.7"/><circle cx="461.17" cy="580.24" r="1.1" fill="#2a2ae0"/><line x1="467.50" y1="567.63" x2="467.50" y2="577.72" stroke="#2a2ae0" stroke-width="0.5" opacity="0.7"/><line x1="466.50" y1="567.63" x2="468.50" y2="567.63" stroke="#2a2ae0" stroke-width="0.5" opacity="0.7"/><line x1="466.50" y1="577.72" x2="468.50" y2="577.72" stroke="#2a2ae0" stroke-width="0.5" opacity="0.7"/><circle cx="467.50" cy="572.67" r="1.1" fill="#2a2ae0"/><line x1="473.83" y1="559.22" x2="473.83" y2="569.31" stroke="#2a2ae0" stroke-width="0.5" opacity="0.7"/><line x1="472.83" y1="559.22" x2="474.83" y2="559.22" stroke="#2a2ae0" stroke-width="0.5" opacity="0.7"/><line x1="472.83" y1="569.31" x2="474.83" y2="569.31" stroke="#2a2ae0" stroke-width="0.5" opacity="0.7"/><circle cx="473.83" cy="564.26" r="1.1" fill="#2a2ae0"/><line x1="480.16" y1="551.65" x2="480.16" y2="561.74" stroke="#2a2ae0" stroke-width="0.5" opacity="0.7"/><line x1="479.16" y1="551.65" x2="481.16" y2="551.65" stroke="#2a2ae0" stroke-width="0.5" opacity="0.7"/><line x1="479.16" y1="561.74" x2="481.16" y2="561.74" stroke="#2a2ae0" stroke-width="0.5" opacity="0.7"/><circle cx="480.16" cy="556.70" r="1.1" fill="#2a2ae0"/><line x1="486.49" y1="544.09" x2="486.49" y2="554.18" stroke="#2a2ae0" stroke-width="0.5" opacity="0.7"/><line x1="485.49" y1="544.09" x2="487.49" y2="544.09" stroke="#2a2ae0" stroke-width="0.5" opacity="0.7"/><line x1="485.49" y1="554.18" x2="487.49" y2="554.18" stroke="#2a2ae0" stroke-width="0.5" opacity="0.7"/><circle cx="486.49" cy="549.13" r="1.1" fill="#2a2ae0"/><line x1="492.82" y1="537.36" x2="492.82" y2="547.45" stroke="#2a2ae0" stroke-width="0.5" opacity="0.7"/><line x1="491.82" y1="537.36" x2="493.82" y2="537.36" stroke="#2a2ae0" stroke-width="0.5" opacity="0.7"/><line x1="491.82" y1="547.45" x2="493.82" y2="547.45" stroke="#2a2ae0" stroke-width="0.5" opacity="0.7"/><circle cx="492.82" cy="542.41" r="1.1" fill="#2a2ae0"/><line x1="499.15" y1="528.11" x2="499.15" y2="538.20" stroke="#2a2ae0" stroke-width="0.5" opacity="0.7"/><line x1="498.15" y1="528.11" x2="500.15" y2="528.11" stroke="#2a2ae0" stroke-width="0.5" opacity="0.7"/><line x1="498.15" y1="538.20" x2="500.15" y2="538.20" stroke="#2a2ae0" stroke-width="0.5" opacity="0.7"/><circle cx="499.15" cy="533.16" r="1.1" fill="#2a2ae0"/><line x1="505.48" y1="520.55" x2="505.48" y2="540.72" stroke="#2a2ae0" stroke-width="0.5" opacity="0.7"/><line x1="504.48" y1="520.55" x2="506.48" y2="520.55" stroke="#2a2ae0" stroke-width="0.5" opacity="0.7"/><line x1="504.48" y1="540.72" x2="506.48" y2="540.72" stroke="#2a2ae0" stroke-width="0.5" opacity="0.7"/><circle cx="505.48" cy="530.64" r="1.1" fill="#2a2ae0"/><line x1="511.81" y1="518.02" x2="511.81" y2="538.20" stroke="#2a2ae0" stroke-width="0.5" opacity="0.7"/><line x1="510.81" y1="518.02" x2="512.81" y2="518.02" stroke="#2a2ae0" stroke-width="0.5" opacity="0.7"/><line x1="510.81" y1="538.20" x2="512.81" y2="538.20" stroke="#2a2ae0" stroke-width="0.5" opacity="0.7"/><circle cx="511.81" cy="528.11" r="1.1" fill="#2a2ae0"/><line x1="518.14" y1="511.30" x2="518.14" y2="531.48" stroke="#2a2ae0" stroke-width="0.5" opacity="0.7"/><line x1="517.14" y1="511.30" x2="519.14" y2="511.30" stroke="#2a2ae0" stroke-width="0.5" opacity="0.7"/><line x1="517.14" y1="531.48" x2="519.14" y2="531.48" stroke="#2a2ae0" stroke-width="0.5" opacity="0.7"/><circle cx="518.14" cy="521.39" r="1.1" fill="#2a2ae0"/><line x1="524.47" y1="508.78" x2="524.47" y2="528.95" stroke="#2a2ae0" stroke-width="0.5" opacity="0.7"/><line x1="523.47" y1="508.78" x2="525.47" y2="508.78" stroke="#2a2ae0" stroke-width="0.5" opacity="0.7"/><line x1="523.47" y1="528.95" x2="525.47" y2="528.95" stroke="#2a2ae0" stroke-width="0.5" opacity="0.7"/><circle cx="524.47" cy="518.87" r="1.1" fill="#2a2ae0"/><line x1="530.80" y1="507.10" x2="530.80" y2="527.27" stroke="#2a2ae0" stroke-width="0.5" opacity="0.7"/><line x1="529.80" y1="507.10" x2="531.80" y2="507.10" stroke="#2a2ae0" stroke-width="0.5" opacity="0.7"/><line x1="529.80" y1="527.27" x2="531.80" y2="527.27" stroke="#2a2ae0" stroke-width="0.5" opacity="0.7"/><circle cx="530.80" cy="517.18" r="1.1" fill="#2a2ae0"/><line x1="537.13" y1="504.57" x2="537.13" y2="524.75" stroke="#2a2ae0" stroke-width="0.5" opacity="0.7"/><line x1="536.13" y1="504.57" x2="538.13" y2="504.57" stroke="#2a2ae0" stroke-width="0.5" opacity="0.7"/><line x1="536.13" y1="524.75" x2="538.13" y2="524.75" stroke="#2a2ae0" stroke-width="0.5" opacity="0.7"/><circle cx="537.13" cy="514.66" r="1.1" fill="#2a2ae0"/><line x1="543.46" y1="502.89" x2="543.46" y2="523.07" stroke="#2a2ae0" stroke-width="0.5" opacity="0.7"/><line x1="542.46" y1="502.89" x2="544.46" y2="502.89" stroke="#2a2ae0" stroke-width="0.5" opacity="0.7"/><line x1="542.46" y1="523.07" x2="544.46" y2="523.07" stroke="#2a2ae0" stroke-width="0.5" opacity="0.7"/><circle cx="543.46" cy="512.98" r="1.1" fill="#2a2ae0"/><line x1="549.79" y1="500.37" x2="549.79" y2="520.55" stroke="#2a2ae0" stroke-width="0.5" opacity="0.7"/><line x1="548.79" y1="500.37" x2="550.79" y2="500.37" stroke="#2a2ae0" stroke-width="0.5" opacity="0.7"/><line x1="548.79" y1="520.55" x2="550.79" y2="520.55" stroke="#2a2ae0" stroke-width="0.5" opacity="0.7"/><circle cx="549.79" cy="510.46" r="1.1" fill="#2a2ae0"/><line x1="556.12" y1="497.85" x2="556.12" y2="518.02" stroke="#2a2ae0" stroke-width="0.5" opacity="0.7"/><line x1="555.12" y1="497.85" x2="557.12" y2="497.85" stroke="#2a2ae0" stroke-width="0.5" opacity="0.7"/><line x1="555.12" y1="518.02" x2="557.12" y2="518.02" stroke="#2a2ae0" stroke-width="0.5" opacity="0.7"/><circle cx="556.12" cy="507.94" r="1.1" fill="#2a2ae0"/><text transform="translate(449.50,495.00)" font-size="8.4" text-anchor="start" fill="#3535e0" style="stroke:#3535e0;stroke-width:0.08;" textLength="108.00" lengthAdjust="spacingAndGlyphs">LysM-Cre-TAX1BP1-MX1-GFP</text><text transform="translate(449.50,503.60)" font-size="8.4" text-anchor="start" fill="#3535e0" style="stroke:#3535e0;stroke-width:0.08;" textLength="30.00" lengthAdjust="spacingAndGlyphs">+diABZI</text><text transform="translate(486.40,577.00)" font-size="8.4" text-anchor="start" fill="#e8282b" style="stroke:#e8282b;stroke-width:0.08;" textLength="70.30" lengthAdjust="spacingAndGlyphs">LysM-Cre-MX1-GFP</text><text transform="translate(486.40,585.80)" font-size="8.4" text-anchor="start" fill="#e8282b" style="stroke:#e8282b;stroke-width:0.08;" textLength="30.00" lengthAdjust="spacingAndGlyphs">+diABZI</text></g></svg></body></html>
